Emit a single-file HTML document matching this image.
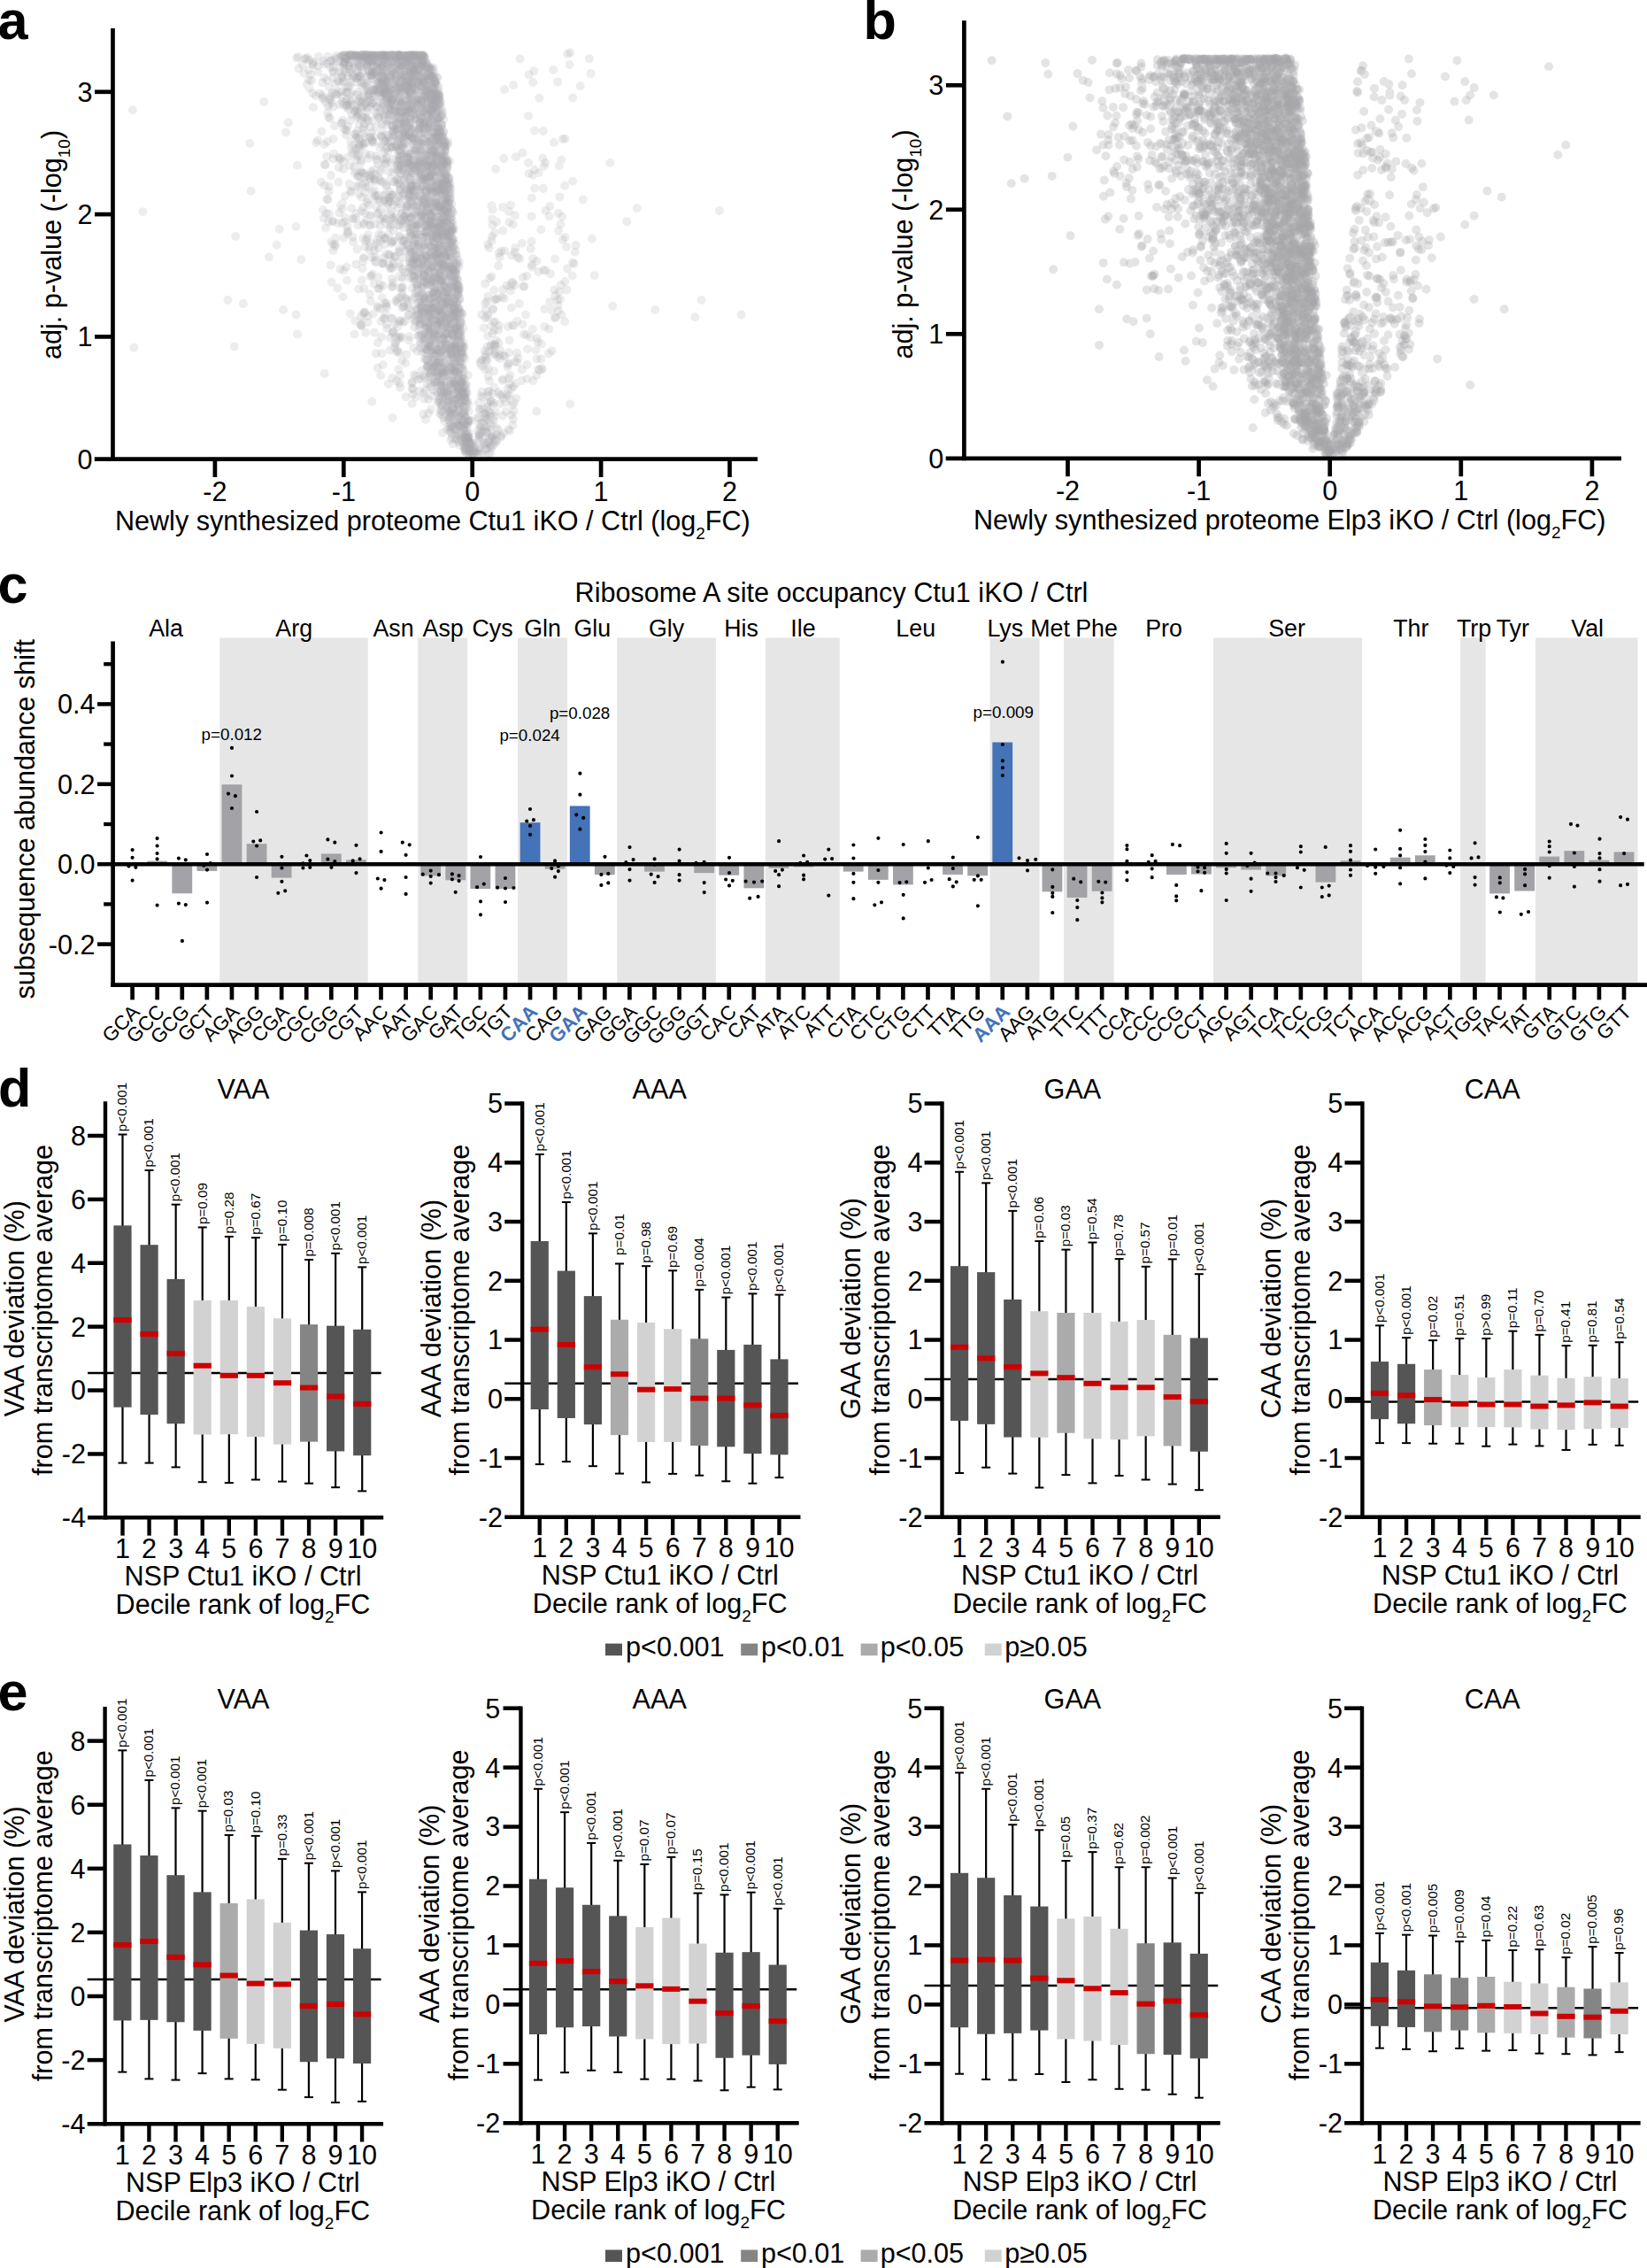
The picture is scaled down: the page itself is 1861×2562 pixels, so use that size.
<!DOCTYPE html>
<html><head><meta charset="utf-8"><title>Figure</title>
<style>html,body{margin:0;padding:0;background:#fff;overflow:hidden}svg{display:block}text{font-family:"Liberation Sans",Arial,Helvetica,sans-serif}</style>
</head><body>
<svg width="1861" height="2562" viewBox="0 0 1861 2562">
<rect width="1861" height="2562" fill="#fff"/>
<text x="-2.4" y="44.2" font-size="61.2" font-weight="bold">a</text>
<text x="975.5" y="43.8" font-size="61.2" font-weight="bold">b</text>
<text x="-2.4" y="681.2" font-size="61.2" font-weight="bold">c</text>
<text x="-2" y="1250" font-size="61.2" font-weight="bold">d</text>
<text x="-2.4" y="1932" font-size="61.2" font-weight="bold">e</text>
<path d="M489.4 249.6h0M426.1 71.2h0M498.4 154.0h0M428.1 264.8h0M516.9 333.0h0M494.1 157.4h0M429.0 122.9h0M490.3 254.9h0M498.1 354.2h0M488.3 347.7h0M422.6 63.3h0M509.5 246.0h0M511.9 280.5h0M419.2 244.6h0M427.2 185.3h0M452.7 62.9h0M551.8 446.9h0M492.3 127.2h0M462.8 268.1h0M494.8 176.8h0M464.5 155.0h0M511.4 475.0h0M518.4 438.6h0M451.7 301.8h0M494.7 249.6h0M465.4 145.0h0M507.8 261.7h0M551.3 276.3h0M494.9 139.0h0M431.7 73.4h0M482.1 111.0h0M408.8 115.6h0M386.8 138.9h0M465.6 209.4h0M512.6 468.0h0M452.4 97.6h0M471.8 142.1h0M457.5 62.2h0M506.3 237.4h0M479.6 405.7h0M527.4 444.2h0M506.0 473.0h0M459.8 184.2h0M473.2 372.1h0M400.0 62.8h0M516.0 325.2h0M492.8 279.0h0M503.7 388.4h0M506.3 446.7h0M464.4 193.3h0M493.9 292.9h0M454.0 325.3h0M521.6 430.5h0M556.5 503.2h0M498.3 207.4h0M461.7 223.3h0M510.2 378.8h0M392.3 118.9h0M466.4 270.4h0M511.5 304.6h0M514.2 389.9h0M503.8 322.8h0M496.5 246.3h0M486.6 181.0h0M504.9 228.5h0M376.4 179.4h0M436.6 286.7h0M476.9 236.9h0M471.0 63.0h0M477.8 247.4h0M485.2 207.2h0M441.5 253.5h0M478.2 90.7h0M532.5 475.1h0M541.5 489.7h0M499.4 457.3h0M497.6 121.0h0M298.2 114.9h0M548.6 507.3h0M468.2 311.5h0M453.0 197.5h0M489.9 88.4h0M510.3 277.1h0M427.8 142.2h0M507.5 229.3h0M481.8 224.0h0M500.9 382.5h0M506.1 441.9h0M492.5 362.2h0M506.8 233.4h0M506.0 437.9h0M500.2 158.9h0M544.3 477.5h0M372.0 118.2h0M486.9 316.5h0M478.4 340.4h0M406.6 86.1h0M499.2 419.3h0M523.0 395.7h0M475.6 341.4h0M504.4 266.1h0M440.5 65.5h0M516.0 320.2h0M487.0 206.6h0M478.6 88.2h0M368.1 115.3h0M524.7 428.1h0M523.2 500.8h0M460.5 98.0h0M529.1 494.4h0M493.5 399.5h0M437.8 62.9h0M417.9 332.5h0M440.6 105.5h0M491.6 374.8h0M480.4 181.5h0M501.1 235.5h0M515.2 307.3h0M544.5 511.8h0M516.1 357.0h0M403.5 281.8h0M459.6 130.3h0M492.7 387.4h0M455.1 197.3h0M468.6 79.1h0M465.7 145.5h0M543.5 483.0h0M468.2 220.6h0M474.0 365.3h0M496.4 137.1h0M450.2 207.7h0M491.5 172.7h0M504.9 181.6h0M486.8 213.8h0M491.6 319.1h0M502.1 315.4h0M468.5 280.6h0M470.6 156.1h0M502.1 343.9h0M440.9 242.1h0M491.3 173.1h0M466.6 439.2h0M507.7 392.8h0M523.7 398.6h0M597.7 84.4h0M421.6 160.3h0M450.6 152.6h0M487.3 241.7h0M526.0 490.2h0M499.2 141.2h0M430.0 272.0h0M441.4 62.3h0M465.4 85.5h0M467.9 90.9h0M514.6 496.6h0M472.2 140.4h0M508.8 342.3h0M426.1 179.7h0M402.5 210.1h0M452.2 113.6h0M483.7 176.6h0M379.0 66.3h0M491.9 420.4h0M490.4 380.4h0M493.3 199.1h0M488.5 119.2h0M519.5 407.5h0M478.0 355.1h0M463.3 152.4h0M438.0 239.7h0M161.5 239.3h0M470.4 290.8h0M458.0 337.3h0M508.5 347.9h0M518.9 339.3h0M442.8 324.1h0M480.7 348.8h0M498.6 340.8h0M491.8 181.2h0M437.9 111.2h0M508.7 488.0h0M474.3 139.2h0M482.7 244.4h0M507.5 340.3h0M487.9 371.5h0M496.4 315.8h0M497.7 195.3h0M513.0 352.5h0M486.0 159.5h0M480.2 374.4h0M510.9 402.5h0M487.8 277.3h0M621.4 340.9h0M471.0 289.1h0M468.4 81.7h0M478.9 319.1h0M469.0 274.7h0M520.4 353.0h0M424.7 144.3h0M469.0 191.6h0M515.6 418.6h0M470.3 142.0h0M466.7 291.1h0M424.2 82.2h0M450.4 102.4h0M482.2 201.3h0M467.6 92.9h0M343.3 82.7h0M484.6 305.7h0M402.1 168.1h0M390.9 66.4h0M441.0 288.9h0M462.1 133.1h0M493.2 275.9h0M518.2 335.1h0M449.0 109.6h0M484.1 415.3h0M480.1 369.5h0M478.3 74.3h0M447.0 101.8h0M475.2 240.5h0M426.0 130.4h0M485.4 177.7h0M492.5 326.3h0M487.9 126.9h0M482.0 217.4h0M411.5 119.7h0M414.4 249.1h0M488.5 187.5h0M487.3 170.5h0M443.3 69.5h0M501.5 286.7h0M470.9 255.8h0M630.9 351.4h0M476.3 234.3h0M518.4 398.1h0M420.3 62.9h0M450.2 254.2h0M454.9 91.8h0M458.1 97.0h0M404.6 72.4h0M450.9 281.1h0M518.5 488.2h0M393.0 85.8h0M510.4 237.8h0M517.5 441.2h0M374.7 318.7h0M394.7 207.8h0M413.8 72.1h0M431.5 147.9h0M494.1 128.0h0M455.3 278.1h0M431.0 205.6h0M436.7 210.5h0M485.3 110.5h0M498.9 122.5h0M483.8 405.8h0M506.0 330.4h0M434.2 105.2h0M509.2 478.4h0M452.9 139.8h0M477.5 92.3h0M460.1 197.3h0M518.6 463.3h0M580.0 437.0h0M513.1 380.0h0M561.9 337.3h0M515.7 370.2h0M566.3 492.1h0M391.6 63.1h0M423.7 81.7h0M493.9 155.7h0M428.7 62.7h0M469.1 268.9h0M435.7 125.0h0M451.3 219.6h0M480.4 227.6h0M524.1 443.6h0M398.4 210.7h0M486.1 104.4h0M452.2 110.3h0M517.4 396.6h0M508.9 408.8h0M477.4 353.4h0M403.8 123.9h0M477.7 211.3h0M519.5 503.0h0M476.4 332.3h0M488.3 268.7h0M376.4 275.7h0M499.7 297.9h0M441.4 124.5h0M450.6 97.1h0M480.0 394.2h0" stroke="#a5a5aa" stroke-opacity="0.2" stroke-width="10" stroke-linecap="round" fill="none"/>
<path d="M502.7 160.5h0M497.1 362.1h0M479.5 91.5h0M453.3 248.3h0M671.8 311.2h0M604.2 212.7h0M322.9 149.4h0M480.2 262.2h0M521.5 496.8h0M467.9 317.4h0M396.6 166.2h0M524.3 436.0h0M397.1 88.6h0M493.2 362.4h0M467.8 423.2h0M349.4 68.1h0M511.2 277.9h0M353.3 105.3h0M446.4 125.9h0M490.1 99.9h0M452.5 136.3h0M484.1 229.3h0M463.3 110.6h0M406.3 163.8h0M459.7 142.6h0M529.1 494.3h0M411.0 62.5h0M471.0 159.1h0M580.6 464.4h0M472.4 309.5h0M513.8 419.2h0M467.1 63.0h0M465.5 305.3h0M492.4 229.9h0M460.7 178.2h0M430.0 194.0h0M453.8 87.1h0M518.1 464.3h0M495.6 98.0h0M493.7 192.9h0M491.0 245.1h0M469.8 265.4h0M478.7 293.3h0M496.9 153.9h0M491.8 102.5h0M600.8 223.6h0M494.9 189.4h0M430.2 424.0h0M367.7 186.2h0M457.9 136.9h0M485.3 348.6h0M512.7 347.6h0M501.1 422.4h0M481.5 275.0h0M521.3 354.3h0M490.3 215.1h0M472.4 84.4h0M488.2 78.5h0M487.2 170.6h0M457.1 101.8h0M482.4 314.9h0M497.2 132.4h0M467.1 279.5h0M471.5 187.0h0M432.9 205.5h0M469.5 134.5h0M517.6 379.2h0M505.5 190.6h0M466.3 85.6h0M504.4 305.4h0M369.6 71.7h0M438.2 63.0h0M393.1 142.8h0M432.7 220.5h0M497.8 188.4h0M468.1 170.2h0M439.4 193.9h0M557.9 455.3h0M510.0 440.2h0M410.2 146.0h0M488.3 303.5h0M506.8 239.6h0M477.2 102.4h0M459.6 126.2h0M472.2 214.3h0M441.8 88.9h0M491.9 259.7h0M450.6 62.5h0M447.4 106.0h0M449.4 78.3h0M437.4 89.8h0M463.8 245.8h0M435.0 185.6h0M476.7 162.4h0M441.0 63.3h0M473.4 77.7h0M580.1 96.3h0M458.4 268.8h0M486.1 91.7h0M467.9 209.8h0M449.9 181.2h0M379.3 106.8h0M493.4 213.5h0M528.4 479.0h0M470.4 75.9h0M437.8 66.1h0M487.0 228.2h0M458.3 124.9h0M396.1 95.6h0M517.8 456.3h0M556.4 444.4h0M488.2 197.3h0M489.3 316.3h0M509.8 435.1h0M364.8 237.3h0M513.4 352.3h0M422.3 62.6h0M488.8 314.4h0M493.7 177.1h0M502.3 213.3h0M485.9 80.7h0M500.3 395.7h0M505.1 198.5h0M461.9 65.7h0M480.9 288.5h0M494.0 262.2h0M539.4 471.9h0M477.1 113.9h0M477.4 70.5h0M470.9 84.5h0M534.0 501.2h0M507.6 359.7h0M505.0 247.1h0M416.0 179.0h0M578.9 367.1h0M620.6 244.3h0M393.1 67.3h0M477.5 290.6h0M443.7 112.3h0M486.9 130.0h0M568.3 428.3h0M456.5 161.6h0M536.5 500.6h0M433.8 71.4h0M393.1 103.1h0M466.0 271.7h0M516.6 344.2h0M484.3 389.6h0M454.3 62.8h0M495.8 311.2h0M478.4 172.7h0M495.7 154.4h0M396.3 160.2h0M542.5 463.3h0M576.9 323.2h0M482.2 130.1h0M494.0 124.6h0M409.0 121.6h0M422.1 102.2h0M638.6 268.0h0M466.1 84.4h0M492.4 431.2h0M482.3 147.4h0M513.7 297.3h0M558.7 470.2h0M512.6 308.1h0M440.1 129.9h0M518.6 499.4h0M630.8 240.7h0M479.3 141.9h0M438.7 63.4h0M486.1 273.5h0M548.0 417.2h0M490.3 215.6h0M493.6 280.1h0M402.5 156.3h0M510.7 482.9h0M467.0 156.9h0M455.2 248.8h0M489.0 400.3h0M481.2 216.9h0M488.1 447.2h0M371.5 216.3h0M523.7 498.6h0M433.9 105.8h0M453.7 98.0h0M498.9 435.8h0M481.2 222.2h0M525.0 465.6h0M544.2 497.1h0M442.8 141.7h0M394.7 71.3h0M392.1 63.4h0M453.0 78.2h0M454.2 407.4h0M465.5 284.9h0M457.3 63.0h0M475.9 348.3h0M504.7 262.8h0M430.6 92.1h0M494.8 143.9h0M499.7 301.3h0M480.2 98.6h0M500.2 219.1h0M488.2 351.1h0M437.1 342.8h0M463.1 292.2h0M414.5 62.0h0M466.5 102.6h0M477.6 100.3h0M465.5 439.0h0M427.1 220.8h0M498.8 468.6h0M474.5 360.3h0M454.4 330.9h0M455.5 94.4h0M496.1 422.4h0M502.8 300.5h0M388.2 93.0h0M485.7 78.8h0M472.9 214.8h0M490.7 82.5h0M507.9 370.4h0M497.4 336.0h0M392.5 255.8h0M502.3 442.5h0M558.6 389.2h0M408.8 316.4h0M578.9 318.4h0M478.5 232.8h0M513.1 317.2h0M426.7 100.3h0M429.9 99.7h0M475.6 344.9h0M488.8 360.6h0M436.6 152.2h0M501.4 253.9h0M492.2 118.9h0M480.4 384.0h0M507.7 320.3h0M527.5 506.7h0M568.1 260.6h0M545.8 496.9h0M445.0 67.7h0M482.2 122.6h0M500.5 253.1h0M491.7 112.8h0M507.3 203.6h0M563.7 286.0h0M582.0 243.3h0M388.0 62.8h0M479.2 151.1h0M517.7 464.8h0M478.4 136.0h0M505.5 318.8h0M503.2 311.8h0M511.0 317.0h0M509.4 213.1h0M492.1 329.5h0M441.0 72.6h0M426.6 75.4h0M438.4 104.2h0M414.7 91.6h0M405.7 86.2h0M502.8 311.7h0M445.2 142.9h0M584.2 362.9h0M493.9 373.0h0M452.1 214.8h0M457.0 143.7h0M463.7 212.8h0M398.1 169.0h0M395.3 106.3h0M493.8 122.8h0M467.0 83.2h0M466.7 231.6h0M550.5 473.9h0M479.8 276.9h0M500.6 277.8h0M499.5 239.8h0M372.8 133.9h0M464.5 63.5h0M541.6 471.7h0M413.6 62.6h0M467.4 67.1h0M376.4 283.2h0M441.1 256.8h0M451.7 184.4h0M461.2 144.6h0M516.1 333.8h0M510.4 259.9h0M483.5 83.1h0M500.6 336.3h0M415.0 69.6h0" stroke="#a5a5aa" stroke-opacity="0.2" stroke-width="10" stroke-linecap="round" fill="none"/>
<path d="M452.4 283.8h0M440.7 159.7h0M597.0 130.9h0M577.0 231.5h0M403.5 106.9h0M633.5 253.2h0M512.9 354.8h0M518.9 480.5h0M457.9 79.9h0M510.4 260.8h0M517.9 422.7h0M484.2 101.6h0M469.2 129.2h0M575.3 251.1h0M521.4 433.8h0M446.6 290.2h0M456.9 184.5h0M517.2 321.9h0M484.0 75.2h0M478.8 126.1h0M526.8 501.5h0M641.0 303.6h0M443.6 471.7h0M415.6 67.9h0M449.3 235.0h0M433.0 87.0h0M484.5 357.4h0M396.6 63.2h0M448.9 395.9h0M472.2 331.3h0M503.7 250.8h0M490.3 168.8h0M486.9 195.8h0M462.5 279.4h0M527.2 495.5h0M493.7 410.1h0M479.1 311.5h0M492.3 295.7h0M471.8 94.2h0M447.1 126.3h0M447.0 78.3h0M475.7 194.7h0M421.0 63.4h0M409.3 162.3h0M461.9 151.8h0M474.8 236.9h0M464.6 184.1h0M499.7 214.9h0M495.7 345.7h0M497.2 287.2h0M435.9 95.9h0M469.5 264.0h0M450.0 70.0h0M423.2 82.1h0M550.2 340.7h0M448.6 186.3h0M429.2 166.6h0M491.1 186.0h0M496.4 339.3h0M470.6 182.6h0M458.8 121.7h0M445.6 152.7h0M461.9 384.5h0M456.7 68.9h0M490.0 104.4h0M548.9 350.1h0M508.5 222.6h0M482.2 72.3h0M470.3 326.1h0M577.8 347.7h0M511.9 294.8h0M478.9 95.6h0M425.6 68.8h0M483.7 295.1h0M474.5 231.9h0M411.4 252.1h0M523.1 404.0h0M473.0 157.8h0M476.6 250.9h0M508.7 290.9h0M475.7 323.5h0M441.3 101.1h0M472.1 164.8h0M578.8 319.9h0M515.1 389.0h0M431.7 82.8h0M416.1 136.8h0M510.9 494.3h0M522.2 493.9h0M495.8 277.2h0M474.6 366.1h0M491.5 94.1h0M486.1 391.9h0M431.5 62.1h0M497.1 364.1h0M471.3 78.8h0M517.6 316.4h0M428.7 326.1h0M486.4 140.1h0M531.7 502.8h0M431.6 108.5h0M520.9 458.3h0M548.3 400.5h0M434.4 269.8h0M483.1 261.2h0M523.3 500.8h0M450.5 121.7h0M476.1 351.1h0M471.1 79.4h0M478.8 203.1h0M506.8 301.6h0M509.7 235.9h0M451.8 169.4h0M504.7 207.4h0M516.6 450.1h0M451.5 266.5h0M506.1 455.8h0M471.7 88.6h0M496.7 398.3h0M404.1 148.1h0M485.2 84.9h0M512.1 362.3h0M492.3 158.3h0M466.0 150.3h0M499.9 256.4h0M386.8 236.0h0M458.9 103.4h0M475.4 291.4h0M459.0 73.4h0M837.6 355.5h0M427.0 199.9h0M432.4 245.7h0M454.4 334.0h0M462.5 139.5h0M486.9 421.8h0M497.5 349.0h0M463.3 200.9h0M414.9 269.5h0M463.9 220.7h0M554.3 503.9h0M469.3 153.2h0M473.5 62.3h0M499.6 297.8h0M585.3 404.5h0M502.3 344.1h0M514.6 467.2h0M476.9 248.7h0M491.0 406.6h0M507.2 356.1h0M517.9 347.9h0M427.7 69.8h0M475.9 88.7h0M474.2 82.2h0M454.4 103.9h0M433.2 65.9h0M501.9 209.3h0M448.8 341.7h0M567.0 335.7h0M430.8 154.1h0M486.2 367.3h0M452.4 361.9h0M498.7 356.3h0M496.6 308.6h0M489.9 341.4h0M448.8 153.5h0M615.3 369.0h0M467.1 260.0h0M517.3 496.2h0M424.3 204.9h0M482.2 228.2h0M510.1 489.1h0M424.5 82.7h0M440.8 381.4h0M478.2 335.8h0M499.7 458.6h0M478.2 62.8h0M527.0 460.2h0M472.3 253.8h0M491.4 324.9h0M509.1 274.0h0M151.3 392.8h0M523.7 462.7h0M490.5 155.1h0M486.7 197.6h0M518.1 327.5h0M490.4 92.3h0M484.2 451.3h0M488.7 415.4h0M406.9 86.1h0M477.9 268.0h0M492.6 346.1h0M536.4 510.6h0M508.9 223.1h0M389.7 70.3h0M499.6 207.4h0M533.2 511.5h0M529.8 475.3h0M461.0 123.9h0M556.2 494.4h0M505.2 485.3h0M451.4 62.8h0M462.1 258.1h0M516.2 401.9h0M431.5 94.0h0M556.3 376.4h0M459.6 146.0h0M427.7 63.4h0M465.4 277.5h0M444.0 146.3h0M486.6 264.1h0M419.7 102.4h0M461.2 173.9h0M414.9 73.8h0M514.9 361.0h0M505.3 463.3h0M480.3 311.6h0M438.3 230.7h0M394.2 123.7h0M521.6 388.3h0M481.6 235.8h0M485.7 387.3h0M347.5 64.9h0M482.8 80.1h0M501.6 198.6h0M477.4 324.9h0M365.7 246.7h0M535.2 511.7h0M463.8 185.5h0M405.2 62.7h0M493.7 214.4h0M487.8 113.6h0M496.1 173.9h0M479.5 100.6h0M474.4 161.5h0M438.8 90.8h0M456.3 139.5h0M448.9 148.1h0M517.3 403.4h0M523.1 449.0h0M514.9 419.6h0M423.3 108.5h0M499.0 252.0h0M505.1 370.4h0M492.8 173.0h0M501.6 173.1h0M454.7 381.4h0M505.2 241.5h0M415.4 81.3h0M502.4 378.3h0M489.1 301.6h0M503.6 208.3h0M482.0 238.5h0M410.8 67.1h0M478.9 229.0h0M412.4 62.2h0M430.2 227.8h0M501.3 250.9h0M452.9 195.6h0M439.6 135.7h0M518.3 456.9h0M469.4 125.1h0M550.0 460.6h0M470.8 241.6h0M499.3 287.6h0M491.9 266.5h0M386.8 88.1h0M462.7 95.5h0M474.8 73.3h0M520.5 403.2h0M516.5 293.4h0M499.2 296.5h0M510.3 239.9h0M478.9 209.8h0M486.2 237.4h0M520.4 482.2h0M421.8 101.3h0M441.6 117.1h0M418.5 155.4h0M475.1 329.6h0M464.4 133.9h0M488.8 125.2h0M559.2 389.6h0M365.4 69.1h0M471.2 118.6h0M475.4 170.0h0M523.7 449.3h0M449.4 133.8h0M507.0 230.6h0M404.8 107.3h0M493.3 355.6h0M492.1 212.2h0M476.3 240.2h0M481.6 198.9h0M509.9 364.8h0" stroke="#a5a5aa" stroke-opacity="0.2" stroke-width="10" stroke-linecap="round" fill="none"/>
<path d="M432.3 77.9h0M486.4 249.8h0M383.9 76.6h0M451.9 188.6h0M508.1 464.2h0M484.2 259.6h0M504.4 285.9h0M460.4 126.7h0M450.5 132.2h0M740.2 350.0h0M503.8 370.1h0M472.2 110.1h0M596.2 394.2h0M557.0 348.4h0M481.8 70.1h0M520.7 400.9h0M448.1 62.9h0M496.5 250.9h0M514.8 371.7h0M464.7 124.5h0M434.1 63.2h0M507.0 290.3h0M522.1 445.0h0M445.1 99.5h0M506.4 344.6h0M490.7 276.1h0M434.2 62.6h0M390.9 152.8h0M448.1 134.0h0M459.3 143.3h0M462.5 90.4h0M708.2 250.4h0M426.4 346.0h0M500.8 378.6h0M550.0 513.0h0M396.1 215.4h0M471.0 295.0h0M443.7 69.4h0M488.4 198.0h0M497.0 288.9h0M461.3 141.6h0M464.0 253.8h0M492.0 138.7h0M507.8 266.9h0M412.4 118.5h0M509.4 264.0h0M525.6 494.8h0M497.7 235.1h0M419.9 64.3h0M479.6 124.6h0M489.4 105.6h0M473.4 341.4h0M509.2 483.9h0M635.2 244.7h0M499.2 129.4h0M502.6 294.7h0M478.3 202.0h0M529.5 474.2h0M446.9 245.4h0M437.0 137.3h0M511.1 285.4h0M541.5 510.1h0M449.7 183.2h0M465.5 63.1h0M386.4 83.7h0M485.5 86.1h0M523.9 452.1h0M561.0 483.7h0M558.1 419.4h0M456.3 138.2h0M464.9 156.7h0M560.4 495.3h0M429.9 236.7h0M492.4 210.6h0M424.3 102.0h0M488.5 409.0h0M561.2 250.6h0M387.8 118.0h0M479.6 65.1h0M498.5 153.6h0M524.4 444.8h0M501.5 162.8h0M491.8 115.3h0M468.5 256.5h0M443.4 62.4h0M434.1 132.8h0M566.5 283.8h0M400.6 63.9h0M457.5 189.3h0M438.8 87.8h0M466.2 119.4h0M546.9 467.8h0M508.4 207.6h0M437.2 347.1h0M523.3 449.8h0M504.7 364.7h0M476.2 128.0h0M491.1 162.5h0M488.9 348.0h0M451.5 336.5h0M494.9 175.9h0M513.8 414.9h0M473.7 313.3h0M492.6 385.0h0M505.7 162.8h0M490.3 119.9h0M454.9 74.2h0M471.3 350.1h0M413.8 113.4h0M408.3 93.8h0M464.0 260.8h0M456.7 85.0h0M510.2 453.2h0M517.9 437.5h0M575.4 410.5h0M468.4 129.3h0M465.4 106.1h0M488.3 142.4h0M434.4 63.2h0M500.4 347.9h0M514.5 456.2h0M496.8 309.5h0M445.6 90.3h0M507.1 217.4h0M489.1 103.9h0M581.6 284.9h0M554.3 511.9h0M472.1 308.0h0M555.6 312.5h0M517.5 400.3h0M498.4 149.9h0M519.4 481.3h0M526.6 494.5h0M561.5 497.6h0M508.9 342.6h0M449.0 114.9h0M376.2 249.7h0M489.4 251.0h0M404.6 72.2h0M510.1 314.7h0M550.9 406.8h0M515.3 432.3h0M404.1 80.6h0M467.4 80.2h0M486.5 188.8h0M477.5 109.0h0M345.5 66.4h0M472.1 187.4h0M372.0 111.8h0M446.6 388.3h0M451.3 267.8h0M450.3 417.2h0M465.3 122.6h0M416.2 66.2h0M476.3 419.0h0M484.3 145.9h0M553.8 502.6h0M446.5 98.5h0M442.6 359.5h0M503.6 392.4h0M476.9 75.2h0M443.2 166.0h0M431.4 82.6h0M421.1 217.0h0M489.8 440.6h0M458.7 65.9h0M448.1 380.6h0M487.3 331.0h0M540.9 455.3h0M461.4 68.0h0M541.4 471.6h0M462.6 193.6h0M470.5 293.8h0M495.7 110.2h0M482.4 217.4h0M470.4 292.8h0M483.3 414.4h0M395.2 61.9h0M465.6 181.1h0M644.2 59.5h0M514.1 451.4h0M517.3 327.8h0M439.8 63.2h0M469.6 100.0h0M643.6 73.0h0M417.8 154.5h0M463.3 245.9h0M521.3 416.4h0M475.9 117.8h0M491.6 401.5h0M509.9 311.2h0M507.1 425.7h0M431.9 118.2h0M549.2 472.4h0M480.0 262.3h0M497.0 467.2h0M498.3 363.3h0M450.3 109.2h0M444.0 194.2h0M442.5 84.7h0M463.2 142.3h0M499.8 353.2h0M415.0 126.4h0M488.9 197.9h0M461.6 190.4h0M514.2 338.0h0M392.9 264.4h0M406.8 62.9h0M497.7 267.9h0M489.4 106.3h0M571.6 465.0h0M482.2 240.1h0M591.6 323.4h0M506.5 338.9h0M475.8 89.1h0M505.0 238.7h0M474.7 301.1h0M509.3 339.9h0M482.6 138.1h0M456.3 133.3h0M520.7 431.3h0M489.0 98.5h0M459.8 233.9h0M378.1 142.1h0M470.0 269.4h0M491.9 258.5h0M487.0 234.2h0M556.1 247.5h0M442.8 220.5h0M503.7 225.0h0M465.0 226.4h0M437.3 63.3h0M495.1 156.4h0M512.4 391.7h0M481.4 215.6h0M381.4 91.2h0M473.5 272.4h0M481.9 291.4h0M499.0 200.3h0M494.8 331.4h0M529.6 464.9h0M514.7 400.8h0M486.2 254.5h0M457.0 307.7h0M491.7 90.6h0M450.3 62.9h0M504.5 449.0h0M492.9 180.9h0M544.3 488.0h0M511.0 395.8h0M432.9 179.6h0M492.7 385.3h0M463.8 164.0h0M496.1 254.6h0M512.2 343.8h0M466.4 212.5h0M528.4 453.5h0M425.4 120.0h0M499.9 181.7h0M492.4 278.8h0M450.5 222.3h0M515.2 352.4h0M443.2 180.0h0M411.2 162.1h0M564.9 401.3h0M446.7 382.2h0M473.6 355.7h0M524.6 484.2h0M488.3 110.9h0M359.3 81.2h0M507.3 300.0h0M509.2 419.9h0M438.9 433.7h0M446.5 180.4h0M463.9 104.7h0M334.5 255.9h0M486.9 112.9h0M471.4 353.7h0M418.7 112.6h0M441.2 97.3h0M423.2 73.2h0M499.8 174.4h0M497.1 124.1h0M427.8 280.4h0M502.4 203.6h0M434.1 69.0h0M462.1 62.9h0M388.5 77.3h0M445.2 94.6h0M471.9 321.0h0M475.4 182.8h0M473.4 145.8h0M498.9 206.7h0" stroke="#a5a5aa" stroke-opacity="0.2" stroke-width="10" stroke-linecap="round" fill="none"/>
<path d="M443.0 273.4h0M502.5 273.0h0M478.9 115.4h0M452.1 134.7h0M473.9 110.7h0M487.1 234.3h0M496.8 269.8h0M507.9 453.8h0M495.5 256.7h0M577.9 468.7h0M474.2 213.9h0M440.4 395.7h0M508.5 392.3h0M635.8 270.7h0M466.2 109.1h0M558.5 437.7h0M497.7 231.2h0M385.9 103.0h0M399.0 84.0h0M486.6 347.7h0M475.4 196.5h0M485.8 352.5h0M487.5 255.2h0M494.8 208.0h0M497.9 393.2h0M623.4 350.2h0M445.9 106.3h0M496.5 287.5h0M471.2 354.8h0M504.7 360.1h0M415.6 357.3h0M510.3 383.2h0M472.9 428.5h0M432.7 297.0h0M488.8 118.7h0M511.1 303.2h0M493.5 87.0h0M493.4 111.5h0M450.1 62.8h0M481.8 263.1h0M514.9 360.9h0M492.5 87.9h0M482.9 151.2h0M447.3 90.8h0M496.3 257.9h0M604.1 147.5h0M501.5 277.8h0M445.3 62.2h0M504.1 445.0h0M462.7 380.2h0M581.8 322.3h0M477.5 281.4h0M405.4 165.9h0M436.3 100.8h0M434.0 64.5h0M391.0 147.2h0M449.8 147.2h0M526.0 510.0h0M603.4 80.1h0M621.4 233.1h0M572.6 322.4h0M429.3 72.4h0M493.9 164.6h0M595.5 412.0h0M531.8 510.9h0M429.2 115.0h0M473.5 66.3h0M482.6 107.1h0M482.3 370.2h0M512.5 295.3h0M390.5 82.1h0M443.3 360.0h0M493.2 269.1h0M509.3 479.9h0M520.8 398.2h0M400.1 188.7h0M502.0 272.8h0M499.4 232.0h0M453.0 126.2h0M493.1 233.4h0M505.5 264.0h0M482.1 288.2h0M501.7 260.8h0M437.4 370.9h0M530.1 512.1h0M445.3 124.2h0M523.5 439.5h0M477.5 65.8h0M504.2 302.1h0M442.3 114.3h0M467.0 79.2h0M349.1 79.0h0M409.2 208.8h0M429.5 321.7h0M541.6 491.2h0M507.6 395.2h0M512.6 257.7h0M486.5 252.6h0M459.3 106.7h0M470.4 317.3h0M470.8 72.6h0M420.1 86.0h0M447.0 62.6h0M550.8 358.6h0M544.2 355.5h0M462.0 224.9h0M335.2 65.6h0M483.5 315.6h0M626.6 358.8h0M447.9 100.4h0M454.1 73.7h0M482.0 101.1h0M510.5 230.5h0M523.5 435.7h0M402.8 193.2h0M498.7 141.1h0M440.5 303.1h0M479.8 278.6h0M511.5 253.6h0M446.3 365.9h0M441.6 101.7h0M485.8 79.5h0M359.1 74.7h0M558.4 400.2h0M434.0 62.9h0M383.7 118.1h0M584.4 409.4h0M374.7 115.7h0M445.4 205.2h0M433.4 227.8h0M587.5 66.5h0M485.7 145.5h0M545.0 406.5h0M550.5 469.8h0M493.0 342.2h0M485.5 78.7h0M494.7 332.8h0M374.4 68.4h0M411.0 291.0h0M521.7 364.1h0M519.2 366.7h0M359.9 63.9h0M506.2 227.0h0M467.5 215.1h0M510.5 361.8h0M418.6 312.4h0M422.5 75.2h0M511.3 376.5h0M513.8 349.8h0M492.2 112.4h0M580.6 367.9h0M506.5 330.4h0M485.2 333.8h0M509.5 447.0h0M508.7 473.3h0M496.1 215.8h0M456.1 125.4h0M493.0 154.1h0M526.9 490.3h0M476.6 298.9h0M468.5 295.6h0M472.5 360.9h0M417.8 242.9h0M518.2 480.8h0M495.6 136.6h0M498.1 463.0h0M488.2 146.6h0M434.2 250.6h0M480.8 86.1h0M488.0 423.5h0M526.2 433.5h0M498.0 208.6h0M455.0 140.3h0M511.5 461.0h0M430.8 108.8h0M452.8 67.8h0M453.4 155.7h0M402.2 62.5h0M502.8 387.1h0M423.6 290.3h0M474.0 349.3h0M522.8 428.3h0M485.9 126.3h0M507.6 462.6h0M455.5 128.4h0M499.3 402.7h0M382.7 189.1h0M495.5 349.0h0M506.7 250.8h0M529.9 488.9h0M489.1 284.6h0M455.2 153.9h0M486.2 421.7h0M484.4 379.1h0M464.8 266.8h0M433.3 97.0h0M438.1 254.5h0M363.2 148.4h0M502.9 388.5h0M531.0 500.4h0M514.2 337.0h0M485.5 159.4h0M482.5 112.2h0M482.9 186.9h0M479.5 225.7h0M468.9 61.7h0M396.3 115.0h0M630.6 345.3h0M478.5 311.0h0M480.0 222.0h0M472.2 349.8h0M501.7 194.5h0M491.4 260.6h0M480.3 347.6h0M483.4 238.8h0M452.6 100.4h0M466.4 360.7h0M515.1 443.4h0M446.4 77.0h0M448.1 191.5h0M479.5 381.0h0M481.0 203.7h0M529.6 504.7h0M448.3 154.5h0M436.3 80.0h0M504.7 164.4h0M518.4 408.9h0M470.0 108.7h0M509.5 366.4h0M304.0 290.5h0M505.9 221.4h0M555.5 271.9h0M422.9 202.8h0M433.7 78.1h0M505.0 453.9h0M498.0 147.6h0M507.7 416.5h0M507.0 380.1h0M472.1 322.7h0M502.5 448.6h0M504.7 219.2h0M480.6 286.3h0M484.5 374.1h0M505.5 271.8h0M481.2 233.4h0M486.6 85.5h0M457.2 363.0h0M466.2 230.7h0M412.4 217.4h0M486.6 290.5h0M420.1 62.7h0M615.4 349.1h0M453.7 166.0h0M461.0 67.8h0M505.8 180.9h0M499.9 419.7h0M357.2 161.2h0M435.6 159.0h0M546.3 487.2h0M495.3 269.1h0M413.3 271.8h0M449.9 141.7h0M465.1 100.3h0M504.3 300.0h0M425.5 181.1h0M499.0 464.6h0M410.6 62.7h0M456.6 66.5h0M504.4 326.4h0M460.5 247.3h0M507.3 458.9h0M586.8 342.9h0M410.2 234.2h0M482.9 395.6h0M487.2 119.1h0M483.2 406.4h0M320.0 350.0h0M472.3 161.4h0M455.8 346.8h0M487.6 350.9h0M425.5 72.1h0M564.6 290.4h0M384.8 178.9h0M510.3 399.9h0M466.4 296.7h0M508.9 288.0h0M472.4 221.4h0M393.4 262.1h0M407.4 62.9h0M430.9 71.5h0M464.2 135.1h0M461.9 105.8h0M442.6 115.1h0" stroke="#a5a5aa" stroke-opacity="0.2" stroke-width="10" stroke-linecap="round" fill="none"/>
<path d="M395.6 70.4h0M447.1 87.9h0M461.2 347.1h0M457.4 70.7h0M469.6 151.7h0M471.1 254.0h0M437.1 247.9h0M575.7 433.6h0M492.5 352.7h0M555.5 484.9h0M389.7 250.5h0M381.7 251.9h0M457.9 152.9h0M423.2 62.9h0M437.9 110.6h0M483.9 177.7h0M498.7 250.5h0M500.6 282.5h0M509.0 414.5h0M417.9 274.5h0M500.0 267.8h0M466.5 89.7h0M493.5 412.7h0M512.7 444.4h0M513.2 317.3h0M497.6 453.8h0M417.9 65.5h0M513.8 373.5h0M512.5 402.5h0M490.0 170.1h0M525.8 488.0h0M501.3 148.6h0M463.7 62.7h0M457.9 85.4h0M469.1 186.9h0M491.6 409.8h0M541.7 462.2h0M525.6 505.7h0M493.0 421.7h0M487.3 182.6h0M480.3 103.4h0M483.8 161.0h0M432.8 412.0h0M470.8 292.3h0M502.3 165.8h0M480.9 398.8h0M444.7 131.4h0M562.9 485.6h0M510.1 466.9h0M461.9 210.7h0M509.0 291.2h0M487.5 246.3h0M452.5 62.5h0M489.3 179.4h0M506.7 233.7h0M554.0 466.3h0M485.9 112.5h0M493.5 430.7h0M359.1 158.6h0M451.2 398.1h0M440.5 216.5h0M523.6 495.7h0M490.9 275.8h0M471.4 298.4h0M477.0 190.6h0M405.9 63.0h0M498.4 317.6h0M483.7 90.0h0M485.0 397.7h0M638.1 209.7h0M444.3 113.3h0M517.2 330.9h0M407.0 62.5h0M504.9 204.7h0M412.5 64.9h0M495.5 156.5h0M511.3 272.9h0M606.7 382.1h0M491.8 302.7h0M490.4 355.2h0M515.6 420.6h0M388.4 145.4h0M470.0 289.1h0M496.4 300.7h0M510.3 398.7h0M493.5 255.8h0M502.5 330.6h0M450.0 116.9h0M513.2 432.4h0M434.0 171.8h0M495.8 107.9h0M426.3 72.2h0M552.9 396.5h0M466.3 264.5h0M504.8 340.8h0M461.0 93.4h0M479.5 311.2h0M465.6 70.1h0M497.1 134.4h0M513.0 289.4h0M503.3 432.4h0M563.2 443.2h0M464.2 119.5h0M613.4 178.8h0M463.0 303.0h0M443.7 148.3h0M485.3 174.9h0M494.9 151.2h0M488.9 160.7h0M471.6 73.5h0M504.0 362.3h0M472.6 63.9h0M489.5 127.0h0M388.4 305.7h0M476.2 141.2h0M496.7 185.9h0M518.2 349.6h0M484.5 77.0h0M470.5 101.7h0M475.7 190.6h0M420.4 159.3h0M454.3 68.2h0M497.9 129.6h0M492.4 206.8h0M485.2 141.1h0M490.0 195.7h0M510.8 312.9h0M520.6 486.0h0M430.0 63.0h0M455.4 115.9h0M517.4 393.8h0M491.4 271.9h0M524.7 485.7h0M555.6 493.0h0M501.4 245.4h0M312.7 276.7h0M460.8 113.2h0M471.7 62.3h0M458.7 89.1h0M508.8 419.6h0M599.6 281.0h0M514.4 347.3h0M490.3 150.9h0M500.5 267.4h0M547.7 396.2h0M476.4 243.3h0M523.5 391.3h0M464.8 93.3h0M499.1 140.9h0M547.4 500.1h0M504.1 207.0h0M473.6 147.5h0M503.4 223.9h0M510.5 357.0h0M533.8 500.8h0M517.7 358.0h0M503.6 231.8h0M508.0 295.4h0M465.1 312.4h0M512.6 431.2h0M459.9 215.2h0M509.0 486.6h0M516.6 369.6h0M470.0 63.0h0M578.1 288.4h0M521.7 479.5h0M519.2 489.3h0M523.1 416.3h0M474.3 138.4h0M511.7 481.0h0M479.8 302.6h0M498.1 179.6h0M478.2 342.8h0M417.3 102.6h0M395.5 61.6h0M404.5 254.5h0M626.5 327.2h0M493.2 346.8h0M468.6 168.0h0M431.4 399.2h0M451.5 111.4h0M543.0 408.1h0M428.6 86.2h0M465.4 432.7h0M457.2 63.5h0M516.6 356.0h0M373.7 108.6h0M400.8 195.5h0M432.3 62.9h0M513.0 286.5h0M475.7 301.4h0M528.9 476.3h0M518.5 471.7h0M406.2 157.1h0M487.7 118.7h0M519.6 493.0h0M501.2 185.9h0M490.5 431.9h0M445.0 249.0h0M475.7 388.0h0M496.3 117.6h0M486.3 199.1h0M508.2 210.8h0M490.9 419.0h0M500.0 489.0h0M490.9 135.8h0M575.5 384.4h0M422.2 278.4h0M484.5 349.7h0M525.1 404.9h0M496.2 214.5h0M377.2 81.9h0M434.0 62.5h0M544.4 413.4h0M451.5 433.1h0M500.7 214.0h0M497.3 207.4h0M471.0 63.5h0M383.2 240.5h0M458.7 92.4h0M489.6 251.0h0M471.5 396.8h0M478.2 317.0h0M511.5 490.3h0M505.4 420.2h0M481.1 74.9h0M505.6 356.2h0M469.8 288.8h0M458.7 82.9h0M462.3 116.6h0M404.7 113.6h0M417.8 282.8h0M417.0 100.4h0M371.3 132.2h0M507.9 430.2h0M476.0 95.5h0M515.1 417.3h0M383.7 180.2h0M512.7 291.2h0M504.1 457.8h0M497.5 421.4h0M419.9 89.2h0M521.6 447.9h0M405.6 174.7h0M392.3 118.7h0M492.2 420.3h0M512.1 393.7h0M525.3 475.4h0M472.6 113.3h0M483.1 413.7h0M495.1 119.0h0M484.4 370.1h0M521.7 443.4h0M466.0 155.3h0M432.2 91.7h0M504.1 434.9h0M511.7 379.8h0M448.0 166.5h0M403.3 88.3h0M472.4 193.7h0M508.5 296.9h0M490.8 377.2h0M493.0 288.0h0M426.7 67.1h0M528.2 496.8h0M547.7 471.7h0M440.8 62.6h0M427.7 101.8h0M381.2 325.4h0M421.8 82.2h0M457.2 244.0h0M491.4 334.8h0M495.3 161.5h0M415.9 265.3h0M463.6 223.1h0M420.0 102.1h0M503.5 197.0h0M431.9 103.7h0M496.8 110.1h0M633.8 322.0h0M507.7 431.6h0M489.7 121.1h0M520.1 372.7h0M495.6 163.6h0M582.9 177.2h0M487.9 87.3h0M488.9 146.2h0M501.5 415.8h0M448.2 88.1h0M490.7 90.8h0M464.9 210.8h0M512.1 325.0h0M460.1 276.1h0" stroke="#a5a5aa" stroke-opacity="0.2" stroke-width="10" stroke-linecap="round" fill="none"/>
<path d="M608.3 306.9h0M489.1 272.6h0M507.6 255.1h0M421.5 62.3h0M444.4 231.4h0M519.2 445.1h0M397.5 62.3h0M499.2 238.7h0M505.5 184.2h0M482.1 132.5h0M500.9 161.7h0M506.9 342.6h0M504.9 395.0h0M519.5 369.1h0M467.5 174.3h0M496.8 118.5h0M346.8 95.2h0M463.3 79.3h0M494.9 252.5h0M434.1 130.1h0M484.8 225.2h0M554.8 453.7h0M463.7 78.0h0M491.6 150.6h0M402.8 71.1h0M511.8 320.8h0M493.2 108.1h0M505.8 215.3h0M520.0 362.9h0M513.7 410.3h0M503.2 170.1h0M505.7 388.3h0M509.4 433.4h0M478.7 129.2h0M462.6 297.6h0M496.5 377.5h0M555.2 388.8h0M421.4 68.8h0M423.0 202.4h0M499.7 334.7h0M521.0 466.9h0M469.5 233.5h0M513.3 426.5h0M436.3 62.8h0M631.0 260.8h0M371.7 210.7h0M476.7 113.3h0M510.9 270.3h0M475.1 203.5h0M486.5 108.8h0M451.6 381.5h0M501.4 161.9h0M552.4 496.7h0M505.2 323.0h0M417.3 254.4h0M418.4 175.0h0M509.5 399.2h0M501.3 321.4h0M401.8 63.2h0M480.9 440.5h0M479.8 307.5h0M527.1 486.8h0M454.4 253.1h0M461.9 182.6h0M530.1 510.1h0M515.9 428.4h0M512.0 355.7h0M452.1 171.3h0M522.3 427.9h0M453.4 115.8h0M471.8 342.4h0M404.0 176.4h0M455.4 191.8h0M543.0 506.6h0M465.7 97.2h0M490.1 143.7h0M554.1 470.2h0M455.1 165.2h0M486.4 284.0h0M354.0 121.3h0M439.4 153.3h0M484.8 298.7h0M522.6 458.4h0M521.7 498.1h0M494.1 361.7h0M461.4 307.4h0M497.6 156.1h0M476.3 241.1h0M493.6 207.6h0M431.8 96.9h0M527.6 481.8h0M472.3 195.3h0M497.0 261.6h0M488.3 243.9h0M488.7 217.1h0M494.3 286.6h0M412.3 199.8h0M485.4 374.6h0M432.2 91.7h0M408.5 238.5h0M457.6 94.0h0M486.9 181.1h0M409.2 65.6h0M429.6 348.7h0M426.2 221.5h0M516.1 399.0h0M493.9 360.5h0M491.6 341.5h0M464.8 298.4h0M792.5 338.9h0M513.3 422.2h0M421.7 354.8h0M497.1 328.0h0M549.6 502.5h0M463.3 288.2h0M518.4 301.0h0M482.8 382.7h0M489.8 86.2h0M505.4 443.1h0M349.5 99.6h0M463.8 347.9h0M388.5 72.2h0M497.4 408.6h0M486.5 253.2h0M500.9 188.4h0M469.7 85.1h0M518.8 415.5h0M514.5 452.1h0M479.9 135.8h0M516.5 432.9h0M434.9 104.2h0M471.9 298.7h0M419.9 311.2h0M476.8 161.0h0M492.5 205.4h0M569.1 401.7h0M464.2 174.6h0M496.8 352.2h0M482.9 185.9h0M595.0 378.5h0M640.1 278.7h0M505.1 316.3h0M460.9 339.9h0M519.8 355.4h0M500.7 420.4h0M507.2 452.5h0M470.1 296.6h0M490.3 414.7h0M484.9 386.2h0M480.5 182.9h0M515.6 303.4h0M468.0 285.9h0M466.2 87.0h0M409.5 196.0h0M467.8 65.1h0M506.6 206.4h0M513.5 399.6h0M469.7 101.2h0M602.1 292.2h0M488.6 300.7h0M522.7 354.2h0M466.0 195.5h0M479.7 286.9h0M404.9 199.3h0M647.0 296.6h0M490.8 94.6h0M384.7 63.9h0M456.5 158.4h0M505.6 268.7h0M481.9 159.5h0M336.0 377.6h0M602.3 93.0h0M519.0 414.0h0M467.2 75.2h0M525.2 462.9h0M422.9 283.0h0M501.1 182.8h0M491.9 109.5h0M518.4 423.2h0M379.0 94.8h0M498.1 434.9h0M484.5 382.1h0M498.8 236.0h0M455.4 364.0h0M543.5 447.3h0M520.9 441.6h0M495.4 358.1h0M451.1 254.8h0M471.8 223.9h0M498.9 217.4h0M509.0 218.6h0M467.0 275.9h0M503.9 238.4h0M455.7 88.0h0M477.3 74.4h0M453.8 68.7h0M474.2 148.9h0M475.5 392.9h0M456.7 271.6h0M484.7 189.6h0M511.0 257.0h0M503.6 290.4h0M474.7 182.2h0M479.3 267.9h0M499.6 258.5h0M497.9 306.5h0M449.3 127.5h0M411.7 140.0h0M597.1 183.9h0M494.5 193.3h0M443.8 112.5h0M477.6 68.3h0M504.6 190.7h0M390.1 221.3h0M400.1 73.7h0M625.8 161.0h0M573.0 445.7h0M551.9 442.9h0M500.9 370.7h0M500.6 356.3h0M407.6 201.9h0M447.0 388.0h0M397.1 81.6h0M451.6 230.1h0M411.0 94.6h0M611.3 259.4h0M560.3 338.2h0M530.4 508.1h0M475.6 151.6h0M467.0 63.3h0M419.5 83.0h0M460.3 73.7h0M468.0 193.6h0M409.7 131.9h0M410.8 253.7h0M432.4 87.0h0M485.8 424.1h0M441.8 109.9h0M478.9 168.7h0M466.1 284.8h0M467.6 63.2h0M515.8 453.2h0M469.1 300.9h0M446.0 83.1h0M513.0 316.4h0M489.2 149.8h0M498.8 421.5h0M369.1 225.1h0M461.9 94.7h0M488.9 428.0h0M500.9 156.8h0M479.4 307.5h0M484.0 130.8h0M375.9 80.1h0M436.5 168.5h0M417.5 62.2h0M394.8 63.1h0M600.6 244.5h0M504.0 336.4h0M407.0 75.1h0M581.9 408.6h0M553.3 478.0h0M451.4 126.8h0M574.6 484.9h0M492.4 117.4h0M441.7 124.7h0M424.7 65.8h0M459.7 154.5h0M499.0 253.2h0M488.3 360.2h0M540.6 496.1h0M488.2 189.0h0M471.2 81.4h0M476.6 365.2h0M450.5 93.1h0M506.0 305.3h0M507.2 331.5h0M364.2 107.5h0M453.2 130.1h0M482.8 319.6h0M415.6 86.2h0M491.0 121.7h0M525.3 506.1h0M504.7 201.1h0M464.0 134.1h0M493.6 233.5h0M490.1 330.6h0M461.6 69.7h0M404.5 104.0h0M464.6 214.7h0M526.0 449.8h0M479.1 140.5h0M479.7 386.6h0" stroke="#a5a5aa" stroke-opacity="0.2" stroke-width="10" stroke-linecap="round" fill="none"/>
<path d="M392.2 104.8h0M467.0 222.4h0M416.5 103.4h0M499.8 343.5h0M478.9 198.8h0M436.4 184.7h0M501.3 242.6h0M462.9 203.5h0M457.2 202.5h0M502.2 181.8h0M494.7 109.8h0M525.0 452.2h0M386.9 70.2h0M399.1 77.9h0M549.2 487.2h0M472.3 278.5h0M496.4 256.9h0M408.7 222.7h0M469.8 306.9h0M454.0 74.8h0M489.5 100.3h0M423.0 154.3h0M457.4 283.6h0M590.0 417.4h0M520.0 408.2h0M471.7 335.9h0M486.7 84.6h0M409.2 97.4h0M502.5 240.8h0M491.5 266.1h0M476.8 133.2h0M493.9 424.4h0M556.6 236.5h0M418.6 70.7h0M459.0 177.0h0M468.9 63.0h0M480.1 63.9h0M568.0 469.7h0M409.1 76.1h0M516.5 289.1h0M548.3 467.2h0M475.6 261.2h0M405.3 326.4h0M487.5 389.4h0M494.0 334.6h0M560.4 384.7h0M569.7 336.9h0M495.7 327.6h0M477.6 261.2h0M432.7 120.2h0M456.5 178.7h0M498.4 115.8h0M451.5 62.9h0M512.7 355.5h0M464.8 187.3h0M512.7 340.1h0M517.2 422.4h0M605.6 395.4h0M486.8 308.4h0M408.0 69.5h0M514.7 420.4h0M529.6 506.1h0M466.0 178.1h0M439.1 62.7h0M437.7 62.7h0M480.5 337.5h0M508.4 261.8h0M465.5 338.3h0M472.3 303.5h0M458.2 410.2h0M464.0 80.6h0M497.6 377.9h0M470.0 82.0h0M491.9 318.7h0M483.7 367.5h0M489.0 129.6h0M494.4 293.9h0M484.5 77.6h0M410.4 62.1h0M344.7 66.5h0M509.6 260.7h0M488.9 123.0h0M515.6 450.5h0M528.4 504.8h0M450.3 190.7h0M529.7 501.3h0M407.8 181.3h0M507.8 259.8h0M425.6 62.0h0M460.0 231.8h0M466.8 90.8h0M428.8 97.8h0M375.5 250.3h0M397.2 235.2h0M667.5 83.1h0M504.3 251.9h0M469.6 134.2h0M514.8 434.9h0M553.5 493.7h0M509.5 260.9h0M525.5 502.2h0M523.3 449.3h0M498.1 375.6h0M457.1 62.9h0M457.8 163.0h0M486.4 437.0h0M504.9 229.1h0M485.4 78.1h0M448.7 338.3h0M579.7 253.5h0M405.9 111.6h0M411.4 62.7h0M481.2 124.1h0M532.5 503.2h0M494.0 194.3h0M484.2 350.5h0M494.4 133.8h0M434.2 95.0h0M493.0 312.1h0M516.7 406.0h0M493.4 223.2h0M500.3 465.0h0M416.8 231.8h0M448.1 203.0h0M612.0 417.9h0M483.1 159.7h0M474.2 441.6h0M435.4 135.0h0M558.8 338.4h0M551.1 379.5h0M499.2 186.2h0M450.4 284.8h0M559.7 399.1h0M404.6 88.3h0M490.2 227.2h0M498.8 319.5h0M377.1 173.7h0M468.5 288.4h0M470.5 171.5h0M395.5 118.9h0M491.1 113.9h0M554.8 453.2h0M491.5 103.6h0M503.4 217.5h0M266.2 267.0h0M505.7 373.7h0M431.2 265.3h0M506.6 303.0h0M493.2 130.8h0M507.0 268.0h0M511.8 461.5h0M378.8 276.1h0M404.8 211.1h0M476.4 82.1h0M493.4 395.3h0M518.1 326.9h0M497.7 298.6h0M552.5 280.1h0M486.8 91.9h0M385.6 139.2h0M488.2 307.0h0M449.6 185.9h0M454.7 347.8h0M555.5 232.3h0M483.6 195.6h0M497.7 273.7h0M465.6 325.8h0M507.2 201.8h0M405.1 77.4h0M525.2 507.8h0M415.7 122.2h0M527.3 506.7h0M441.4 82.0h0M500.5 388.2h0M415.3 71.3h0M482.2 321.7h0M505.2 208.2h0M500.0 327.8h0M409.1 194.9h0M509.2 322.6h0M483.4 129.4h0M441.4 62.7h0M459.3 213.0h0M463.1 116.5h0M482.7 173.3h0M468.3 116.6h0M505.8 377.2h0M551.3 499.9h0M485.2 196.2h0M476.5 67.8h0M479.8 246.3h0M548.1 320.7h0M437.7 135.6h0M490.6 194.6h0M520.0 409.1h0M374.0 198.1h0M511.3 354.1h0M632.9 338.2h0M509.5 396.0h0M493.5 118.0h0M484.8 332.8h0M466.4 99.2h0M632.3 222.4h0M508.4 258.7h0M535.4 507.0h0M489.1 188.8h0M439.8 121.4h0M516.2 479.3h0M533.7 512.5h0M454.6 249.4h0M444.6 135.1h0M480.1 78.7h0M524.6 493.0h0M419.8 105.3h0M512.2 305.0h0M406.7 63.2h0M496.1 349.2h0M456.7 161.5h0M485.8 250.1h0M439.8 130.4h0M494.1 117.0h0M457.2 150.6h0M480.6 105.4h0M387.6 91.8h0M483.3 347.2h0M429.4 78.1h0M470.5 238.6h0M563.4 372.8h0M503.3 341.0h0M508.8 254.0h0M473.6 67.1h0M497.2 304.5h0M463.5 123.4h0M568.9 450.0h0M402.3 246.6h0M497.8 177.0h0M608.6 417.0h0M467.5 241.2h0M460.1 99.1h0M559.6 363.4h0M499.4 346.2h0M484.8 212.9h0M490.3 100.9h0M457.4 245.0h0M474.8 112.4h0M494.4 326.2h0M446.3 62.6h0M426.7 415.6h0M492.1 290.9h0M469.9 202.9h0M497.4 200.8h0M502.8 208.3h0M414.4 109.2h0M472.5 199.8h0M495.6 266.6h0M616.3 305.4h0M484.0 259.1h0M518.8 295.9h0M403.5 117.8h0M412.3 278.8h0M518.0 471.7h0M420.4 63.4h0M434.3 360.2h0M486.0 128.4h0M491.1 381.5h0M430.9 100.6h0M397.3 62.8h0M491.6 114.4h0M462.8 101.8h0M512.5 373.0h0M483.5 143.0h0M524.5 392.5h0M487.1 165.8h0M435.9 100.9h0M456.6 210.5h0M462.1 108.6h0M497.9 440.5h0M479.5 134.2h0M646.7 311.5h0M474.6 288.0h0M479.7 352.4h0M430.4 125.8h0M450.9 114.1h0M517.5 443.3h0M434.0 90.2h0M482.0 159.7h0M490.7 238.9h0M407.8 134.8h0M417.4 63.7h0M468.2 292.9h0M438.5 77.5h0M501.8 401.0h0M486.2 226.7h0" stroke="#a5a5aa" stroke-opacity="0.2" stroke-width="10" stroke-linecap="round" fill="none"/>
<path d="M467.7 76.3h0M479.4 450.5h0M463.2 104.8h0M451.2 62.5h0M450.9 76.2h0M439.6 223.7h0M448.6 140.2h0M428.2 104.0h0M436.3 269.0h0M449.3 62.7h0M479.1 87.1h0M475.7 63.6h0M507.9 259.6h0M496.7 316.4h0M484.2 199.0h0M480.7 102.3h0M479.8 449.1h0M282.2 161.9h0M436.7 208.7h0M392.4 260.9h0M492.5 252.8h0M491.4 383.0h0M523.5 472.5h0M467.2 191.9h0M513.4 378.8h0M445.8 105.4h0M494.9 126.2h0M519.1 377.4h0M478.6 67.1h0M477.3 231.5h0M495.5 296.8h0M510.0 366.5h0M437.1 65.6h0M785.2 358.3h0M469.6 124.4h0M514.2 347.9h0M481.1 197.2h0M488.5 265.3h0M513.3 345.0h0M516.2 436.4h0M495.0 147.7h0M494.5 291.5h0M483.9 250.2h0M494.7 287.1h0M503.9 196.2h0M498.2 171.5h0M447.6 163.7h0M501.8 276.9h0M483.2 299.2h0M482.1 414.7h0M497.5 277.9h0M510.6 416.4h0M439.4 72.2h0M479.6 67.7h0M505.8 278.7h0M567.6 430.0h0M340.3 293.3h0M494.9 140.1h0M456.8 202.1h0M401.6 121.0h0M487.7 336.9h0M464.6 194.4h0M418.6 201.6h0M551.6 465.2h0M469.9 448.6h0M493.2 96.2h0M449.3 369.3h0M439.1 115.5h0M526.6 435.2h0M457.3 194.8h0M499.6 436.7h0M433.5 63.1h0M487.2 76.6h0M495.6 444.6h0M389.2 62.1h0M411.3 326.0h0M501.3 260.1h0M462.3 74.4h0M496.9 362.8h0M492.5 352.0h0M507.6 200.0h0M469.7 169.5h0M493.5 154.7h0M509.4 352.4h0M475.8 243.9h0M405.1 75.0h0M502.8 226.3h0M486.7 174.6h0M334.5 355.5h0M434.9 95.5h0M369.7 160.0h0M465.6 300.2h0M468.6 273.1h0M454.2 152.0h0M495.9 237.8h0M475.2 63.0h0M522.5 411.6h0M430.3 190.8h0M482.9 96.7h0M392.1 63.0h0M416.9 210.9h0M508.9 413.0h0M522.4 441.2h0M472.0 256.9h0M498.1 228.0h0M423.1 215.3h0M434.7 247.1h0M551.8 464.0h0M468.4 82.6h0M419.9 62.6h0M475.9 71.8h0M478.1 62.5h0M386.2 62.6h0M443.0 303.6h0M521.2 471.8h0M475.9 291.8h0M499.3 255.3h0M511.3 317.9h0M541.2 491.9h0M470.8 206.9h0M480.2 251.4h0M475.6 91.5h0M435.0 342.3h0M511.3 249.0h0M569.3 179.1h0M398.7 267.7h0M450.9 99.4h0M495.0 214.2h0M506.7 482.2h0M486.6 87.0h0M454.8 63.3h0M378.1 104.8h0M455.2 85.1h0M559.0 263.1h0M478.3 120.7h0M494.2 173.1h0M463.8 63.5h0M454.8 159.5h0M466.5 255.6h0M489.1 382.9h0M516.4 456.2h0M492.1 413.5h0M492.1 114.2h0M465.4 93.8h0M482.4 193.8h0M463.5 301.5h0M503.9 227.2h0M518.6 376.3h0M443.6 376.4h0M504.0 441.2h0M458.9 63.9h0M438.5 171.3h0M486.0 176.3h0M476.6 323.0h0M407.1 199.4h0M482.8 96.7h0M432.8 82.4h0M489.3 247.4h0M506.5 336.2h0M494.1 436.3h0M467.3 393.1h0M426.6 79.4h0M529.5 498.8h0M450.0 97.0h0M474.1 129.7h0M600.5 272.7h0M495.3 150.0h0M487.0 286.0h0M378.5 278.4h0M500.4 381.8h0M518.9 354.0h0M509.9 434.3h0M422.7 191.7h0M508.9 393.7h0M476.2 186.0h0M478.0 234.1h0M470.2 190.1h0M486.0 322.4h0M391.6 112.5h0M511.5 392.4h0M452.0 423.9h0M456.3 346.0h0M528.4 501.5h0M408.9 66.0h0M493.5 114.0h0M477.0 87.1h0M426.9 387.3h0M472.5 244.6h0M563.8 367.5h0M491.0 365.0h0M410.2 69.4h0M479.2 339.1h0M458.8 234.4h0M459.1 138.3h0M467.3 271.6h0M451.5 140.9h0M497.4 369.8h0M458.2 138.3h0M417.5 106.9h0M453.8 147.8h0M521.4 407.6h0M456.0 182.9h0M587.2 292.3h0M500.0 153.9h0M475.5 143.5h0M373.1 76.0h0M501.0 364.5h0M453.6 84.3h0M454.8 186.9h0M450.2 365.9h0M435.7 91.2h0M462.6 102.8h0M418.3 74.3h0M518.0 383.6h0M353.5 73.2h0M506.3 406.7h0M476.9 352.7h0M413.4 116.4h0M419.4 150.1h0M488.1 355.1h0M474.4 315.9h0M492.5 107.2h0M485.9 432.5h0M485.8 242.5h0M444.7 260.4h0M463.3 63.2h0M498.0 409.7h0M479.6 296.1h0M601.8 371.9h0M483.5 341.5h0M439.2 155.9h0M448.7 146.7h0M590.5 172.8h0M439.9 121.1h0M491.4 230.0h0M468.4 63.0h0M812.9 238.0h0M499.4 185.5h0M516.6 364.6h0M531.3 508.0h0M554.3 391.0h0M384.4 304.0h0M506.3 264.0h0M486.2 348.2h0M514.9 466.1h0M511.6 474.5h0M441.4 70.9h0M479.1 298.0h0M398.6 118.1h0M518.2 398.8h0M351.2 84.3h0M424.5 63.8h0M518.3 397.2h0M512.1 323.5h0M443.6 272.2h0M443.7 111.2h0M452.6 77.1h0M527.3 503.1h0M475.5 427.9h0M481.0 71.7h0M479.5 311.1h0M471.1 292.8h0M552.1 441.6h0M550.4 488.5h0M373.7 299.4h0M471.8 188.2h0M503.2 290.9h0M524.8 447.0h0M506.1 340.6h0M505.0 202.8h0M426.5 95.6h0M496.5 450.9h0M524.9 466.6h0M467.7 215.5h0M502.8 198.6h0M609.3 110.7h0M459.4 119.1h0M458.3 72.3h0M516.6 316.2h0M473.6 176.1h0M475.4 84.4h0M431.4 70.0h0M495.1 248.7h0M495.4 263.9h0M453.5 176.3h0M511.2 376.8h0M513.3 376.6h0M484.0 132.5h0M471.2 112.0h0M497.4 217.9h0M421.4 117.0h0M512.2 302.4h0M501.1 236.3h0" stroke="#a5a5aa" stroke-opacity="0.2" stroke-width="10" stroke-linecap="round" fill="none"/>
<path d="M399.2 247.3h0M516.7 388.2h0M386.6 109.3h0M467.7 73.3h0M452.4 188.6h0M494.7 372.6h0M542.3 506.4h0M474.8 277.4h0M474.0 117.9h0M468.2 123.4h0M463.6 62.6h0M474.4 182.3h0M509.2 275.2h0M475.3 176.4h0M515.5 427.0h0M478.8 283.7h0M464.7 94.7h0M473.8 96.9h0M408.9 79.4h0M511.1 270.2h0M519.6 420.2h0M489.5 409.5h0M495.0 108.5h0M449.7 170.4h0M425.6 274.8h0M470.4 321.3h0M461.2 146.8h0M495.4 117.6h0M490.9 171.0h0M461.2 355.8h0M447.1 85.8h0M516.1 325.6h0M512.5 432.6h0M463.1 285.2h0M480.7 256.2h0M435.6 71.4h0M515.4 302.1h0M467.4 73.4h0M501.3 305.2h0M426.4 71.3h0M478.5 467.9h0M449.9 88.1h0M515.0 302.0h0M428.3 86.4h0M471.4 65.6h0M491.1 325.0h0M495.5 452.7h0M369.6 90.6h0M475.0 62.9h0M611.3 405.4h0M437.0 140.8h0M488.8 179.9h0M470.0 253.5h0M506.0 381.6h0M484.1 388.6h0M462.2 80.8h0M469.6 331.1h0M510.7 418.3h0M463.5 145.6h0M473.0 379.7h0M466.9 210.4h0M502.2 330.3h0M419.4 193.8h0M465.0 239.9h0M472.1 355.7h0M482.1 281.0h0M504.4 376.7h0M402.1 298.6h0M487.8 322.3h0M475.5 210.4h0M634.5 355.5h0M439.5 110.1h0M468.1 312.0h0M472.8 276.0h0M494.4 281.0h0M421.1 309.8h0M484.4 81.6h0M402.9 62.5h0M400.5 124.6h0M492.8 228.5h0M508.6 255.9h0M574.7 439.0h0M481.3 183.0h0M498.0 390.6h0M461.6 66.5h0M487.1 169.8h0M476.7 63.0h0M419.1 84.5h0M432.7 322.6h0M455.2 291.2h0M393.8 74.7h0M450.6 85.7h0M494.6 413.7h0M475.4 186.1h0M515.8 495.7h0M560.8 491.2h0M468.4 190.4h0M450.2 63.2h0M519.3 457.9h0M545.9 448.4h0M500.2 285.6h0M463.6 175.5h0M467.9 298.6h0M516.5 390.7h0M501.0 278.2h0M502.3 216.1h0M515.4 433.5h0M454.3 312.5h0M430.8 63.2h0M446.9 227.4h0M457.3 120.6h0M461.5 63.4h0M499.8 265.3h0M462.8 91.1h0M469.2 236.0h0M522.8 437.8h0M474.8 387.7h0M502.7 170.8h0M504.5 288.5h0M471.4 92.2h0M454.3 127.2h0M486.4 215.1h0M503.5 383.0h0M505.6 308.4h0M449.3 202.8h0M466.6 293.4h0M480.6 109.7h0M436.2 108.8h0M458.8 124.0h0M462.5 153.3h0M523.8 498.0h0M402.5 240.7h0M484.9 200.6h0M463.6 215.1h0M415.8 67.5h0M463.7 263.5h0M458.6 448.3h0M501.8 171.0h0M501.9 347.0h0M489.5 397.4h0M604.3 192.0h0M467.5 189.8h0M463.8 75.4h0M452.4 93.7h0M475.8 198.3h0M442.4 80.6h0M519.3 421.4h0M517.4 321.3h0M434.7 225.7h0M474.7 74.0h0M461.4 62.9h0M427.9 133.1h0M479.3 139.1h0M498.5 448.3h0M438.6 117.9h0M423.4 221.1h0M488.4 100.1h0M442.8 221.1h0M399.1 273.2h0M466.6 162.7h0M466.9 119.0h0M520.7 389.9h0M522.1 498.0h0M591.9 377.5h0M442.1 166.6h0M481.8 289.8h0M649.7 284.7h0M447.6 140.1h0M511.4 452.0h0M504.7 367.1h0M504.1 410.0h0M388.6 71.6h0M473.0 66.6h0M498.1 243.2h0M579.5 480.3h0M429.6 255.1h0M507.5 305.0h0M489.9 267.9h0M519.6 384.7h0M492.6 193.6h0M405.1 64.8h0M483.2 181.0h0M514.9 305.9h0M427.5 240.3h0M505.8 187.2h0M482.7 434.1h0M505.1 231.6h0M492.0 244.7h0M501.7 299.8h0M516.1 389.6h0M498.0 320.1h0M496.1 191.0h0M465.7 171.9h0M452.4 123.0h0M507.9 324.2h0M463.1 185.0h0M503.1 245.5h0M519.2 423.8h0M420.6 108.6h0M456.0 149.3h0M518.3 379.6h0M499.6 449.0h0M454.5 174.0h0M433.7 104.4h0M471.4 232.8h0M640.4 327.5h0M524.2 476.8h0M496.5 234.5h0M502.9 284.9h0M518.8 478.1h0M492.0 154.9h0M530.3 512.1h0M481.1 369.4h0M530.0 500.8h0M494.8 171.2h0M497.7 307.9h0M495.7 234.7h0M497.2 337.5h0M413.1 375.7h0M479.3 191.6h0M437.0 111.4h0M486.0 377.3h0M485.1 96.4h0M527.5 494.9h0M373.3 68.9h0M401.2 174.4h0M368.7 241.3h0M484.5 254.4h0M518.6 449.0h0M564.8 404.9h0M433.1 66.7h0M521.0 399.2h0M517.8 447.5h0M481.1 377.0h0M493.0 155.5h0M482.0 340.7h0M514.7 442.4h0M549.7 507.6h0M401.7 151.1h0M455.5 140.3h0M450.5 140.5h0M494.1 145.5h0M365.5 72.6h0M391.5 301.5h0M455.3 324.4h0M439.4 298.7h0M521.7 398.9h0M592.1 323.9h0M386.3 86.4h0M449.1 67.7h0M435.7 87.8h0M472.1 227.6h0M393.3 177.5h0M494.0 108.4h0M463.6 212.0h0M466.6 295.2h0M418.3 70.4h0M499.6 167.9h0M468.6 92.3h0M451.3 312.1h0M460.0 142.6h0M499.6 180.9h0M535.3 503.9h0M515.9 342.8h0M409.6 83.4h0M525.8 471.1h0M551.8 416.4h0M450.7 98.7h0M497.1 240.0h0M424.9 399.3h0M513.6 372.4h0M452.3 94.1h0M427.4 312.9h0M483.3 189.6h0M507.7 441.9h0M436.9 63.3h0M498.9 227.4h0M535.3 510.6h0M362.9 205.8h0M492.4 157.2h0M500.3 305.6h0M475.9 251.2h0M524.1 418.9h0M487.8 403.4h0M418.8 340.4h0M454.1 117.4h0M406.8 114.5h0M456.4 63.3h0M427.1 347.6h0M412.0 93.9h0M469.5 363.8h0M486.8 156.8h0M573.5 439.3h0" stroke="#a5a5aa" stroke-opacity="0.2" stroke-width="10" stroke-linecap="round" fill="none"/>
<path d="M497.4 427.7h0M526.0 495.1h0M464.9 109.7h0M470.3 127.1h0M515.0 282.6h0M502.2 176.8h0M444.9 141.4h0M427.2 326.2h0M493.9 442.9h0M481.7 215.0h0M494.8 395.6h0M501.0 155.1h0M431.1 75.8h0M503.8 291.6h0M564.8 446.1h0M474.7 280.6h0M498.3 315.5h0M483.7 100.1h0M499.4 211.1h0M468.4 62.7h0M503.1 160.7h0M498.2 229.7h0M480.4 367.2h0M487.9 112.3h0M476.4 143.6h0M398.1 246.7h0M501.0 219.0h0M485.1 192.1h0M420.5 158.3h0M500.1 306.7h0M537.4 511.8h0M431.7 100.5h0M488.7 315.4h0M480.8 163.1h0M477.0 397.6h0M425.5 121.8h0M498.8 356.7h0M452.3 325.3h0M529.0 423.9h0M473.8 183.5h0M514.5 476.2h0M559.6 391.1h0M492.5 217.2h0M475.8 377.7h0M477.9 265.1h0M475.5 185.7h0M494.3 133.8h0M490.8 174.7h0M491.5 155.4h0M471.6 264.4h0M505.7 223.0h0M541.5 479.6h0M494.8 106.2h0M473.3 145.1h0M341.7 73.1h0M469.4 74.9h0M444.6 155.0h0M576.3 423.9h0M466.3 445.6h0M500.5 224.1h0M400.5 151.8h0M472.2 118.2h0M462.1 74.8h0M575.4 447.3h0M455.1 126.5h0M431.1 380.8h0M457.0 225.0h0M477.9 125.9h0M501.6 357.7h0M516.1 358.3h0M463.0 122.4h0M638.3 318.0h0M521.4 396.7h0M502.4 168.9h0M510.3 350.9h0M353.7 71.9h0M460.6 224.8h0M441.5 122.0h0M496.6 160.7h0M470.0 63.6h0M283.6 215.8h0M446.4 95.6h0M507.5 284.1h0M494.4 148.9h0M437.9 227.3h0M474.4 190.0h0M468.2 284.3h0M442.9 113.9h0M501.2 215.0h0M451.3 146.3h0M392.1 316.8h0M461.1 92.6h0M374.4 273.0h0M514.5 415.3h0M507.4 308.5h0M487.5 123.3h0M580.7 454.9h0M443.8 375.0h0M437.8 229.6h0M446.0 146.3h0M475.1 96.4h0M486.0 101.5h0M485.3 313.2h0M506.5 242.4h0M576.8 451.5h0M483.7 363.6h0M459.3 198.1h0M483.7 370.4h0M421.7 198.4h0M421.0 198.7h0M520.9 415.2h0M648.8 298.1h0M474.4 137.2h0M364.8 110.1h0M496.9 145.3h0M468.9 78.2h0M372.0 241.5h0M495.7 298.9h0M428.9 63.3h0M440.2 83.6h0M444.8 246.0h0M444.7 70.6h0M415.9 107.3h0M394.7 75.2h0M480.6 255.0h0M501.8 323.0h0M524.5 483.0h0M508.6 341.1h0M461.0 255.5h0M503.4 205.2h0M499.2 261.0h0M485.0 350.3h0M471.4 92.3h0M426.7 101.2h0M518.0 332.5h0M465.4 95.1h0M484.7 77.0h0M487.4 133.4h0M510.2 256.2h0M455.0 76.9h0M369.2 176.9h0M451.8 105.6h0M500.9 252.8h0M456.9 249.2h0M475.2 65.5h0M449.5 84.4h0M522.7 432.6h0M495.1 255.5h0M520.7 364.4h0M436.6 109.6h0M455.8 257.2h0M514.2 354.0h0M482.7 98.6h0M499.9 154.5h0M498.9 365.4h0M418.7 143.8h0M489.9 119.0h0M514.7 321.7h0M463.8 97.1h0M476.7 119.9h0M499.2 190.2h0M483.1 186.9h0M485.5 159.9h0M469.1 335.4h0M400.7 126.0h0M436.6 178.6h0M602.3 430.0h0M665.9 66.2h0M484.0 307.9h0M376.1 88.2h0M384.9 232.1h0M390.0 69.8h0M439.0 288.5h0M573.9 368.9h0M438.5 85.9h0M514.5 393.6h0M499.8 291.0h0M465.7 106.0h0M559.7 465.1h0M518.1 350.7h0M450.6 126.0h0M438.5 160.9h0M451.0 71.3h0M414.6 62.2h0M489.9 288.8h0M515.8 355.4h0M551.6 425.0h0M505.5 343.1h0M497.5 423.1h0M453.8 240.7h0M511.0 262.2h0M500.6 415.4h0M492.7 291.0h0M492.2 183.1h0M477.6 181.9h0M387.4 335.3h0M452.2 379.9h0M474.9 179.7h0M433.1 92.5h0M463.5 314.5h0M449.8 228.2h0M510.0 304.9h0M486.5 165.1h0M370.4 120.0h0M500.9 230.7h0M492.0 109.5h0M457.1 188.0h0M511.5 277.5h0M493.3 232.9h0M489.7 375.4h0M464.7 70.2h0M513.4 486.7h0M463.5 100.7h0M463.6 66.2h0M478.0 331.8h0M462.2 216.0h0M478.5 294.4h0M464.8 310.4h0M414.4 62.6h0M498.0 290.4h0M481.3 75.5h0M477.3 202.1h0M526.3 438.9h0M397.6 129.4h0M551.4 355.7h0M519.6 337.3h0M435.7 81.8h0M535.9 506.1h0M507.8 343.6h0M556.5 458.1h0M476.7 63.0h0M415.1 74.8h0M531.2 509.4h0M364.2 93.4h0M481.9 143.8h0M428.4 63.4h0M492.1 184.8h0M484.8 84.6h0M389.8 246.0h0M429.5 247.6h0M423.6 196.7h0M438.8 69.9h0M466.2 155.3h0M462.9 203.6h0M479.5 362.2h0M462.7 75.1h0M421.7 95.2h0M487.5 236.3h0M379.0 268.9h0M614.1 305.0h0M451.3 179.6h0M455.1 69.4h0M491.1 98.3h0M469.9 350.4h0M510.8 296.3h0M456.2 102.3h0M412.0 63.4h0M504.7 266.8h0M557.9 364.2h0M491.4 301.8h0M517.0 298.0h0M492.8 416.0h0M609.2 417.9h0M573.4 414.4h0M468.7 158.7h0M635.8 157.2h0M486.1 337.4h0M509.0 301.6h0M386.9 229.5h0M560.6 499.3h0M416.9 80.8h0M435.1 95.9h0M502.0 216.0h0M518.0 330.6h0M418.4 254.4h0M482.8 211.3h0M514.9 369.5h0M411.8 352.6h0M498.0 362.9h0M489.2 204.8h0M466.8 233.3h0M520.3 363.8h0M476.3 161.3h0M511.1 273.5h0M469.5 126.8h0M477.4 162.7h0M492.7 309.4h0M456.4 246.0h0M518.7 450.3h0M502.0 266.2h0M512.2 239.9h0M491.6 119.9h0M522.4 455.3h0" stroke="#a5a5aa" stroke-opacity="0.2" stroke-width="10" stroke-linecap="round" fill="none"/>
<path d="M446.5 145.7h0M512.4 363.8h0M524.0 486.9h0M630.1 338.5h0M495.2 292.6h0M488.5 170.1h0M465.4 100.5h0M493.0 264.8h0M523.2 401.9h0M559.1 496.4h0M502.3 253.7h0M490.4 280.4h0M436.5 128.7h0M483.4 276.9h0M500.3 316.0h0M490.8 183.0h0M371.7 98.3h0M449.5 62.5h0M476.3 244.2h0M403.5 131.2h0M443.8 165.6h0M431.6 62.6h0M402.2 62.9h0M616.2 183.9h0M420.9 161.4h0M477.2 63.6h0M508.9 365.1h0M435.5 354.9h0M494.2 263.1h0M482.1 268.8h0M481.5 121.3h0M465.5 456.2h0M371.2 250.5h0M442.2 302.0h0M507.2 228.8h0M499.4 206.5h0M594.1 355.6h0M498.4 232.5h0M491.3 341.4h0M515.3 287.3h0M477.9 62.4h0M516.2 371.8h0M488.5 79.1h0M502.2 208.1h0M599.1 381.1h0M464.9 86.7h0M496.9 388.0h0M441.1 95.7h0M373.4 112.7h0M498.0 292.3h0M502.3 436.1h0M501.0 355.0h0M496.8 216.2h0M508.3 416.9h0M547.2 502.3h0M467.7 68.1h0M459.8 101.3h0M503.3 357.8h0M590.4 366.2h0M441.2 115.6h0M503.9 400.0h0M479.4 64.5h0M464.1 148.8h0M549.2 482.1h0M505.9 244.0h0M466.9 83.1h0M504.4 188.3h0M502.4 191.6h0M498.3 444.0h0M489.7 216.6h0M490.5 223.4h0M511.9 343.8h0M509.2 470.0h0M601.2 299.1h0M505.3 183.1h0M472.3 180.3h0M414.2 62.3h0M435.2 159.6h0M719.8 235.2h0M409.5 303.2h0M494.7 219.9h0M472.5 265.1h0M548.2 359.2h0M550.7 391.4h0M391.7 99.0h0M468.5 181.0h0M477.8 92.4h0M407.3 367.4h0M407.8 357.2h0M445.2 69.6h0M419.6 290.9h0M501.4 329.7h0M519.6 409.1h0M522.9 467.3h0M446.5 289.4h0M336.9 64.3h0M542.4 493.6h0M476.4 297.6h0M513.9 306.1h0M412.3 206.5h0M441.4 114.9h0M506.2 225.9h0M573.4 411.4h0M551.3 334.8h0M502.9 288.7h0M511.6 412.1h0M463.6 127.3h0M449.5 164.3h0M474.6 164.7h0M437.6 73.9h0M528.0 498.4h0M440.9 114.0h0M381.9 103.6h0M477.5 354.0h0M503.9 287.6h0M494.6 454.7h0M497.0 405.0h0M484.7 185.9h0M396.6 92.8h0M492.8 379.6h0M464.9 62.4h0M500.1 333.1h0M325.8 138.4h0M504.2 238.2h0M485.8 136.9h0M460.3 70.7h0M482.5 180.7h0M484.7 425.3h0M472.6 81.3h0M495.6 150.1h0M505.4 423.6h0M501.7 232.4h0M491.0 412.9h0M497.5 252.2h0M458.0 126.9h0M496.2 408.7h0M478.4 93.2h0M442.7 204.6h0M491.9 355.3h0M563.2 300.1h0M521.9 431.9h0M409.7 113.3h0M577.8 439.1h0M482.9 304.4h0M529.3 495.9h0M387.6 63.5h0M410.9 132.8h0M525.4 449.6h0M504.9 186.5h0M505.9 228.2h0M456.5 128.0h0M522.0 392.7h0M453.9 271.8h0M390.8 67.1h0M463.5 261.7h0M485.9 388.5h0M388.5 73.5h0M494.2 134.7h0M490.2 330.9h0M512.9 312.6h0M463.3 80.4h0M441.3 222.7h0M503.7 417.8h0M494.3 430.9h0M424.3 101.2h0M469.0 65.1h0M454.5 314.7h0M449.3 72.6h0M530.3 509.9h0M501.7 378.7h0M391.0 115.0h0M613.7 148.1h0M506.6 247.6h0M428.2 63.2h0M432.9 127.3h0M473.4 183.9h0M454.3 116.5h0M525.0 445.5h0M516.5 336.4h0M487.7 105.6h0M445.6 204.6h0M511.1 456.8h0M337.4 77.5h0M396.1 136.0h0M520.7 390.0h0M495.3 269.5h0M460.6 112.3h0M458.8 95.8h0M453.4 85.6h0M513.6 349.9h0M518.4 437.2h0M540.5 512.5h0M509.2 281.6h0M424.8 127.7h0M461.5 219.3h0M479.8 200.1h0M507.1 474.6h0M485.7 401.5h0M463.4 181.2h0M509.4 251.2h0M427.7 225.3h0M474.5 133.9h0M487.1 124.2h0M383.3 105.0h0M516.5 380.1h0M485.1 277.4h0M449.7 62.0h0M410.7 111.9h0M274.9 343.1h0M507.0 212.3h0M419.4 116.6h0M474.5 368.2h0M395.4 187.2h0M486.3 106.6h0M489.0 313.7h0M411.5 196.2h0M499.5 328.9h0M441.3 202.5h0M457.0 244.1h0M476.4 356.1h0M315.6 258.7h0M442.4 79.8h0M485.1 168.7h0M445.9 62.8h0M478.5 138.1h0M499.2 248.4h0M488.7 382.4h0M496.3 185.8h0M482.6 139.9h0M597.7 196.0h0M482.5 320.5h0M505.4 372.4h0M498.4 187.4h0M445.8 205.5h0M486.9 217.0h0M486.8 395.8h0M521.0 474.6h0M521.1 400.6h0M517.0 339.6h0M503.9 196.8h0M475.8 347.4h0M416.6 62.3h0M479.6 289.8h0M487.8 288.1h0M658.7 225.5h0M462.9 145.0h0M488.6 80.0h0M476.7 73.4h0M513.6 281.2h0M518.0 387.4h0M508.8 364.5h0M462.5 151.7h0M533.3 509.8h0M420.8 80.4h0M495.0 252.9h0M504.7 260.1h0M366.5 421.9h0M518.6 323.5h0M496.8 107.5h0M481.3 405.5h0M472.2 182.6h0M473.6 127.8h0M442.3 274.9h0M403.2 93.0h0M487.5 322.4h0M552.6 499.6h0M499.4 367.1h0M503.8 289.4h0M482.7 359.0h0M431.2 163.0h0M498.2 187.7h0M512.4 430.7h0M437.8 92.6h0M469.9 209.7h0M424.8 176.2h0M452.7 210.3h0M470.1 297.8h0M411.1 107.4h0M503.5 332.5h0M427.1 87.0h0M435.7 101.3h0M576.0 486.8h0M498.0 157.9h0M452.7 170.2h0M627.1 292.5h0M452.8 124.0h0M499.2 437.6h0M485.4 198.9h0M483.7 380.4h0M565.9 493.6h0M479.7 135.2h0M463.6 180.5h0M505.8 236.0h0" stroke="#a5a5aa" stroke-opacity="0.2" stroke-width="10" stroke-linecap="round" fill="none"/>
<path d="M510.7 401.9h0M482.3 300.2h0M478.0 348.9h0M443.2 246.9h0M413.0 132.4h0M499.3 239.1h0M502.1 424.8h0M476.0 132.9h0M149.8 124.5h0M476.4 222.2h0M476.6 98.9h0M585.0 290.8h0M475.2 212.7h0M410.3 64.0h0M498.6 367.0h0M445.4 62.9h0M436.5 106.3h0M491.8 114.0h0M515.5 407.8h0M482.3 406.9h0M513.5 483.0h0M513.0 451.4h0M449.2 119.5h0M465.9 74.9h0M549.1 407.8h0M509.8 244.9h0M668.9 269.8h0M529.2 456.8h0M489.7 345.9h0M470.1 193.6h0M399.7 86.4h0M520.5 443.2h0M442.2 63.2h0M480.1 253.9h0M498.3 382.5h0M518.6 427.7h0M451.7 145.0h0M510.8 378.5h0M460.0 206.4h0M480.8 108.8h0M514.6 432.8h0M491.9 418.1h0M457.5 93.7h0M418.2 197.3h0M410.2 269.4h0M439.3 64.4h0M475.0 280.4h0M473.2 220.7h0M482.9 353.6h0M408.1 193.6h0M504.5 460.4h0M510.0 409.7h0M477.8 277.2h0M551.7 398.2h0M485.3 418.3h0M496.0 265.4h0M530.4 508.2h0M437.5 92.4h0M433.3 291.6h0M452.3 127.7h0M514.9 429.8h0M487.0 106.2h0M500.7 210.4h0M445.2 295.4h0M504.6 241.8h0M623.7 396.4h0M509.4 404.1h0M449.6 193.6h0M606.6 295.0h0M487.0 93.7h0M505.5 263.7h0M483.7 296.6h0M417.5 202.3h0M460.6 93.4h0M391.2 104.1h0M512.0 342.1h0M451.4 71.4h0M490.6 185.4h0M399.7 62.3h0M505.9 447.7h0M460.2 90.8h0M499.5 352.5h0M383.4 92.6h0M497.9 357.9h0M526.3 479.3h0M516.0 434.3h0M460.0 84.3h0M435.4 181.0h0M459.4 177.4h0M512.3 361.9h0M496.2 423.0h0M478.3 140.5h0M348.9 90.4h0M507.2 351.2h0M494.9 101.8h0M475.5 63.8h0M462.3 125.3h0M577.0 328.6h0M503.8 355.7h0M511.3 467.7h0M451.6 114.8h0M460.2 101.8h0M523.7 475.0h0M513.1 337.4h0M485.1 240.9h0M521.6 448.4h0M510.3 450.1h0M388.3 182.8h0M483.4 306.1h0M510.0 308.7h0M496.8 244.6h0M467.7 243.5h0M461.8 184.1h0M457.9 214.5h0M507.9 182.0h0M395.1 78.4h0M463.5 140.6h0M502.6 343.1h0M483.7 80.4h0M399.1 164.1h0M420.3 453.7h0M423.5 85.5h0M505.4 400.3h0M488.2 84.1h0M507.5 225.1h0M644.2 456.5h0M500.3 181.3h0M518.9 423.0h0M501.7 382.9h0M513.4 377.6h0M459.0 276.7h0M575.2 398.3h0M519.5 434.5h0M523.7 458.5h0M488.3 342.6h0M486.0 198.5h0M479.3 117.5h0M511.0 405.5h0M511.9 365.8h0M490.9 366.7h0M476.4 190.5h0M501.0 422.0h0M477.8 325.3h0M473.2 273.1h0M503.5 342.8h0M438.0 104.0h0M614.6 187.9h0M476.9 140.9h0M452.2 437.8h0M490.5 130.3h0M444.2 153.1h0M468.6 200.1h0M481.0 182.9h0M419.0 66.9h0M479.1 335.1h0M465.4 62.0h0M496.3 398.8h0M507.5 404.7h0M489.0 90.2h0M534.0 508.6h0M622.0 309.3h0M405.7 129.2h0M441.3 86.2h0M502.1 245.7h0M413.3 161.1h0M418.3 119.8h0M498.3 443.1h0M463.3 207.0h0M488.9 262.4h0M527.1 501.4h0M426.6 91.5h0M515.8 298.2h0M504.5 369.9h0M540.1 487.0h0M474.1 302.6h0M484.1 391.0h0M479.3 230.2h0M492.7 230.3h0M440.1 63.6h0M582.1 280.3h0M430.3 363.0h0M546.6 370.6h0M405.8 219.5h0M486.8 123.2h0M508.3 470.5h0M453.6 99.5h0M466.2 159.9h0M475.5 279.1h0M394.2 62.7h0M655.7 97.1h0M484.9 357.4h0M486.9 76.2h0M502.6 338.1h0M514.9 324.8h0M477.9 104.0h0M396.9 217.0h0M496.0 114.8h0M441.7 117.4h0M449.9 175.8h0M512.6 259.6h0M508.5 310.7h0M479.7 149.4h0M497.5 362.7h0M563.5 387.2h0M520.7 380.3h0M570.1 283.4h0M476.5 208.8h0M501.5 164.3h0M482.0 208.4h0M517.3 333.3h0M451.1 298.3h0M481.0 473.9h0M638.4 156.4h0M631.8 329.4h0M513.2 450.7h0M488.4 130.8h0M487.4 416.2h0M529.9 493.3h0M520.7 440.8h0M591.0 313.2h0M525.8 508.6h0M455.7 123.4h0M441.2 107.4h0M507.7 240.9h0M453.7 163.8h0M477.1 205.0h0M514.8 309.8h0M490.1 400.6h0M403.1 154.7h0M458.4 63.1h0M600.7 301.6h0M525.6 494.9h0M413.5 97.7h0M564.8 456.3h0M508.3 338.0h0M492.7 343.2h0M477.0 69.5h0M491.2 312.6h0M423.0 375.6h0M492.7 299.1h0M420.1 69.1h0M473.3 93.6h0M490.3 107.0h0M257.4 338.9h0M459.7 118.9h0M510.7 390.2h0M410.1 62.0h0M514.2 391.6h0M509.1 496.7h0M470.2 361.8h0M472.4 94.3h0M479.2 81.7h0M470.5 83.4h0M497.4 448.9h0M489.8 76.6h0M480.3 91.9h0M488.1 244.5h0M458.9 146.2h0M489.8 257.7h0M408.6 121.5h0M474.7 171.4h0M460.6 62.8h0M397.2 105.1h0M417.7 80.5h0M391.5 146.9h0M434.6 63.0h0M515.6 491.7h0M546.1 462.1h0M492.5 127.7h0M504.1 424.8h0M449.8 157.6h0M432.2 116.9h0M491.8 93.3h0M481.0 175.1h0M464.4 78.4h0M361.2 105.6h0M497.8 317.6h0M494.5 408.3h0M519.5 372.7h0M500.5 299.7h0M490.4 397.2h0M388.3 268.8h0M453.3 125.3h0M465.7 431.6h0M493.4 216.8h0M436.3 62.1h0M499.8 410.0h0M502.1 208.7h0M519.8 430.7h0M485.6 119.8h0M488.5 204.6h0M386.5 252.5h0M553.0 430.3h0" stroke="#a5a5aa" stroke-opacity="0.2" stroke-width="10" stroke-linecap="round" fill="none"/>
<path d="M507.8 362.8h0M461.9 63.0h0M495.2 286.1h0M485.4 204.9h0M464.0 105.8h0M558.2 327.8h0M498.0 314.1h0M526.5 455.8h0M370.8 225.4h0M495.7 104.9h0M508.4 466.7h0M512.5 430.2h0M512.8 346.2h0M479.7 381.2h0M415.5 225.6h0M494.2 111.9h0M475.7 69.7h0M464.7 228.6h0M485.6 287.5h0M468.1 73.5h0M507.8 331.5h0M442.5 62.9h0M512.6 462.1h0M556.9 492.4h0M485.6 353.4h0M464.7 251.5h0M483.6 129.6h0M650.6 277.1h0M430.8 62.3h0M443.3 219.9h0M602.1 197.4h0M500.1 312.6h0M506.1 160.3h0M435.5 219.5h0M483.3 253.8h0M444.6 148.3h0M484.6 104.0h0M542.4 410.2h0M414.5 74.5h0M486.9 195.0h0M456.6 66.9h0M494.0 366.4h0M438.4 166.4h0M607.6 386.4h0M376.4 75.6h0M470.8 115.8h0M441.4 227.8h0M452.4 63.2h0M479.8 376.8h0M556.5 254.2h0M488.4 300.4h0M509.4 324.7h0M383.6 65.3h0M583.3 450.3h0M589.3 430.1h0M354.0 70.2h0M518.8 376.9h0M415.5 363.9h0M478.6 424.1h0M486.7 213.3h0M473.1 136.9h0M457.6 64.6h0M465.1 114.1h0M535.7 512.0h0M471.5 145.9h0M429.6 62.7h0M508.2 247.0h0M476.9 62.4h0M477.4 226.4h0M482.7 395.0h0M584.1 398.9h0M508.3 429.8h0M489.6 121.0h0M422.9 66.5h0M522.9 424.2h0M464.5 209.8h0M579.2 457.5h0M606.1 424.0h0M500.5 417.5h0M493.2 113.7h0M456.8 342.4h0M483.7 112.8h0M456.8 218.8h0M568.3 327.2h0M488.2 356.1h0M555.7 505.7h0M435.8 63.0h0M511.3 440.3h0M459.0 173.6h0M466.8 154.0h0M522.6 442.4h0M470.5 70.8h0M471.9 185.2h0M415.6 62.4h0M439.6 67.8h0M448.1 430.4h0M448.3 397.7h0M484.3 269.7h0M470.9 253.5h0M500.3 443.5h0M481.6 195.6h0M608.7 195.3h0M382.9 178.0h0M575.0 239.0h0M494.3 180.2h0M480.9 76.9h0M389.1 66.0h0M552.9 481.5h0M460.1 97.3h0M476.6 188.3h0M416.9 198.6h0M401.2 362.4h0M474.6 74.1h0M422.7 225.0h0M522.5 480.9h0M485.9 343.2h0M566.9 446.2h0M496.8 396.1h0M489.3 313.2h0M474.8 62.1h0M477.1 197.5h0M452.1 181.4h0M487.0 190.0h0M516.1 387.7h0M467.7 71.4h0M451.0 362.9h0M499.3 247.6h0M483.0 102.8h0M530.6 500.1h0M472.8 92.9h0M499.0 270.6h0M489.9 107.6h0M473.0 78.3h0M483.8 114.5h0M414.6 102.5h0M395.7 354.2h0M481.4 364.4h0M482.5 73.4h0M401.7 63.7h0M462.4 187.4h0M529.1 475.7h0M520.5 388.9h0M503.6 389.2h0M525.9 511.0h0M500.2 126.7h0M498.1 254.8h0M507.4 453.0h0M366.5 163.2h0M455.4 70.1h0M460.7 87.7h0M376.7 157.0h0M518.1 399.7h0M459.2 400.4h0M493.0 164.0h0M467.2 157.4h0M488.1 86.4h0M461.5 173.6h0M488.7 187.8h0M438.7 101.5h0M427.3 133.0h0M410.1 364.5h0M526.9 444.2h0M389.7 78.5h0M446.0 166.3h0M506.3 445.3h0M482.3 203.3h0M497.7 327.5h0M434.7 268.7h0M459.2 338.0h0M481.6 217.3h0M473.2 239.1h0M424.9 100.3h0M506.0 325.9h0M527.1 442.0h0M458.7 237.0h0M520.6 382.1h0M495.8 212.9h0M482.3 134.4h0M354.5 69.9h0M496.4 325.0h0M493.7 380.3h0M553.0 482.3h0M512.9 381.9h0M460.2 240.7h0M459.4 154.5h0M520.9 470.6h0M376.8 120.8h0M484.7 103.1h0M494.2 208.5h0M488.9 333.1h0M444.9 272.4h0M471.4 119.6h0M568.2 234.0h0M550.8 455.3h0M490.8 138.4h0M496.9 404.7h0M488.2 136.2h0M491.0 213.1h0M495.1 147.4h0M488.8 260.6h0M431.7 62.7h0M452.3 64.0h0M556.2 479.4h0M501.3 309.9h0M496.6 232.9h0M519.1 368.3h0M487.2 118.7h0M479.5 150.5h0M497.1 148.2h0M488.4 395.4h0M450.7 75.0h0M443.5 323.6h0M492.7 150.6h0M504.3 183.5h0M427.7 93.7h0M558.4 502.0h0M457.7 87.6h0M449.3 131.8h0M463.1 281.8h0M485.5 338.6h0M496.0 389.4h0M479.6 184.5h0M499.1 430.8h0M444.8 374.7h0M521.4 398.3h0M420.5 84.4h0M520.5 377.3h0M485.1 249.4h0M484.4 89.7h0M425.3 233.8h0M404.6 126.8h0M437.1 366.8h0M494.3 314.5h0M501.2 134.6h0M470.2 116.7h0M455.8 132.1h0M494.3 317.7h0M380.5 66.7h0M481.1 75.3h0M443.5 92.9h0M501.1 283.2h0M583.1 433.3h0M505.2 271.4h0M507.7 278.3h0M474.3 75.6h0M484.0 271.1h0M570.5 402.5h0M544.4 442.5h0M512.6 269.8h0M496.8 350.9h0M491.9 281.8h0M498.7 262.6h0M647.2 110.4h0M438.5 73.7h0M452.8 70.7h0M460.9 194.3h0M606.4 464.8h0M524.8 506.5h0M408.7 368.2h0M465.5 83.0h0M483.0 230.3h0M489.4 175.7h0M487.9 369.7h0M502.7 204.9h0M501.5 177.6h0M451.0 94.1h0M496.0 111.5h0M449.1 158.2h0M520.7 490.3h0M495.4 421.7h0M533.9 512.9h0M482.4 193.3h0M485.4 267.5h0M462.7 355.9h0M439.1 99.9h0M434.1 359.5h0M502.5 323.6h0M431.7 74.1h0M589.9 275.0h0M548.0 342.6h0M484.3 466.9h0M503.6 266.1h0M500.1 394.3h0M487.7 150.0h0M461.3 71.6h0M504.0 248.0h0M488.7 372.3h0M479.8 336.7h0M382.9 69.2h0M512.4 403.9h0M511.6 501.5h0M492.1 184.4h0M420.6 136.3h0" stroke="#a5a5aa" stroke-opacity="0.2" stroke-width="10" stroke-linecap="round" fill="none"/>
<path d="M476.8 383.1h0M523.4 467.3h0M507.6 395.4h0M478.5 302.7h0M503.4 176.6h0M503.3 251.1h0M479.6 295.0h0M450.6 206.7h0M526.5 491.1h0M482.0 296.9h0M382.9 81.7h0M525.2 480.6h0M488.1 292.9h0M492.8 171.5h0M510.1 311.1h0M449.8 79.9h0M411.5 143.1h0M454.0 242.3h0M513.6 409.2h0M503.7 185.2h0M494.9 237.7h0M479.4 159.7h0M483.5 354.8h0M473.9 217.5h0M510.7 377.7h0M491.7 187.2h0M491.1 282.2h0M455.8 273.8h0M574.9 427.5h0M461.3 74.7h0M432.9 298.1h0M502.8 166.5h0M479.3 87.7h0M500.6 425.2h0M440.3 287.3h0M445.9 392.6h0M508.2 311.7h0M491.7 307.7h0M560.1 190.9h0M410.6 292.6h0M429.0 203.5h0M470.2 251.1h0M521.5 387.9h0M508.8 224.6h0M446.9 164.8h0M477.2 360.2h0M510.0 402.2h0M463.6 84.5h0M515.6 485.5h0M392.3 62.4h0M422.6 320.6h0M548.7 403.9h0M472.5 379.3h0M466.7 305.8h0M487.3 105.2h0M520.1 447.4h0M476.9 111.1h0M508.1 272.2h0M494.3 366.4h0M493.1 227.2h0M472.3 108.6h0M466.8 217.9h0M486.8 279.1h0M502.1 260.2h0M486.8 155.2h0M466.0 123.0h0M518.0 480.6h0M496.8 202.0h0M554.8 368.3h0M512.7 388.0h0M463.6 74.3h0M478.5 101.6h0M473.5 334.1h0M498.0 297.8h0M469.1 356.2h0M459.7 232.7h0M546.6 482.6h0M467.9 314.1h0M492.3 92.7h0M466.4 80.3h0M499.3 130.8h0M439.0 265.2h0M501.8 323.3h0M425.3 296.2h0M505.2 253.8h0M366.5 87.8h0M485.5 374.4h0M479.3 202.9h0M421.9 67.3h0M625.3 78.9h0M523.8 387.4h0M488.7 135.4h0M501.2 201.2h0M484.2 360.1h0M444.2 298.3h0M498.8 397.0h0M460.3 63.1h0M487.8 317.4h0M414.4 67.2h0M476.1 169.3h0M484.7 162.6h0M473.8 108.7h0M503.4 359.6h0M435.8 66.8h0M403.5 132.5h0M496.3 351.8h0M462.0 127.2h0M521.1 446.4h0M456.3 72.9h0M352.2 90.9h0M399.5 62.3h0M500.6 287.9h0M479.5 317.4h0M431.8 336.3h0M448.6 100.6h0M469.3 97.5h0M494.2 269.3h0M479.5 145.6h0M402.6 180.8h0M452.4 161.4h0M487.8 125.1h0M512.6 277.2h0M366.7 185.9h0M513.8 389.3h0M507.5 212.5h0M485.9 184.2h0M498.2 348.6h0M475.0 227.9h0M400.6 377.5h0M425.6 63.1h0M490.0 223.7h0M471.5 97.3h0M515.6 307.3h0M507.7 218.3h0M518.8 348.7h0M514.4 394.1h0M485.9 249.2h0M477.4 277.0h0M488.3 290.8h0M496.9 149.0h0M406.6 167.7h0M496.8 113.9h0M413.3 63.7h0M507.3 233.5h0M370.2 64.1h0M612.6 415.9h0M613.9 213.0h0M499.8 343.3h0M528.5 491.1h0M638.2 363.2h0M511.8 358.4h0M454.4 97.8h0M412.1 240.8h0M501.9 238.3h0M513.1 434.4h0M483.3 233.6h0M486.6 117.7h0M501.8 457.7h0M517.5 322.8h0M519.1 384.6h0M382.4 205.6h0M410.1 295.1h0M477.5 157.3h0M580.0 473.4h0M481.6 296.4h0M459.5 106.3h0M630.1 92.4h0M513.0 312.7h0M441.6 85.2h0M505.8 301.2h0M424.8 81.1h0M495.9 161.7h0M441.9 127.5h0M501.3 471.9h0M489.8 104.8h0M389.0 63.5h0M484.5 105.6h0M413.4 211.5h0M452.8 251.2h0M514.3 304.7h0M428.0 84.3h0M455.8 138.6h0M439.9 227.4h0M506.0 224.8h0M462.6 145.6h0M475.8 103.6h0M474.6 223.3h0M531.7 511.2h0M458.9 91.9h0M570.1 101.0h0M486.0 212.3h0M493.9 111.1h0M481.7 175.8h0M423.3 253.2h0M444.2 319.6h0M494.9 364.8h0M488.9 131.5h0M481.7 395.8h0M513.8 275.5h0M565.3 395.6h0M524.1 458.4h0M505.3 219.5h0M458.3 66.6h0M492.9 374.8h0M446.1 122.3h0M493.5 394.4h0M527.4 511.7h0M549.3 488.6h0M627.2 334.1h0M474.3 181.5h0M468.0 369.8h0M462.5 97.4h0M470.0 102.6h0M457.0 271.7h0M429.8 87.4h0M509.0 330.5h0M530.8 506.8h0M451.0 61.8h0M503.7 281.8h0M465.1 297.1h0M521.7 373.6h0M426.7 242.0h0M424.6 293.7h0M476.7 63.2h0M412.5 353.1h0M478.7 107.9h0M433.6 99.4h0M500.9 432.6h0M505.8 464.1h0M374.8 104.8h0M546.0 478.4h0M512.6 415.1h0M480.8 225.0h0M490.1 238.2h0M432.9 86.1h0M536.0 510.5h0M481.5 103.8h0M494.3 409.8h0M462.9 63.5h0M494.0 433.3h0M505.4 418.5h0M446.6 97.7h0M487.4 255.2h0M497.2 211.7h0M462.7 252.8h0M430.7 153.5h0M475.2 85.7h0M531.0 501.9h0M430.3 89.0h0M394.6 67.2h0M454.5 221.2h0M513.8 313.4h0M559.7 395.8h0M523.2 371.0h0M503.8 206.4h0M457.7 153.2h0M488.3 125.4h0M380.7 106.6h0M503.7 420.7h0M441.9 184.3h0M479.6 242.4h0M647.1 204.8h0M466.6 183.6h0M439.9 101.8h0M553.2 314.4h0M419.9 85.4h0M465.6 91.5h0M479.9 426.5h0M498.1 459.0h0M412.7 64.9h0M525.1 444.0h0M406.3 163.9h0M464.9 257.4h0M492.9 120.4h0M425.9 76.5h0M473.7 274.7h0M401.6 62.2h0M428.3 109.5h0M493.8 207.1h0M412.7 154.9h0M493.6 362.5h0M463.7 132.3h0M486.7 294.3h0M454.1 90.5h0M459.0 113.3h0M398.1 172.8h0M477.3 103.5h0M437.5 108.4h0M503.5 354.5h0M469.0 116.8h0M502.1 205.9h0M421.1 116.2h0M468.9 217.0h0" stroke="#a5a5aa" stroke-opacity="0.2" stroke-width="10" stroke-linecap="round" fill="none"/>
<path d="M447.8 65.8h0M470.1 424.8h0M611.9 388.5h0M503.8 418.1h0M493.8 314.9h0M488.4 380.5h0M492.0 262.9h0M483.5 270.0h0M482.8 234.4h0M518.0 358.6h0M472.4 326.6h0M417.3 65.3h0M441.8 62.8h0M457.9 182.7h0M456.4 113.8h0M500.8 273.3h0M413.5 174.3h0M468.5 151.2h0M470.7 169.9h0M483.4 113.8h0M410.1 150.9h0M488.6 420.6h0M499.7 157.7h0M480.5 356.2h0M456.3 114.2h0M493.1 154.0h0M410.6 354.1h0M505.5 474.0h0M521.9 430.9h0M526.6 452.5h0M501.2 184.5h0M436.7 113.4h0M405.1 156.3h0M464.7 284.8h0M571.2 454.5h0M499.3 298.5h0M457.6 153.8h0M494.3 279.6h0M492.2 410.0h0M434.2 159.8h0M448.9 79.1h0M426.6 104.2h0M508.0 266.0h0M429.5 92.9h0M498.4 148.2h0M494.5 88.2h0M457.6 150.5h0M391.2 121.2h0M401.6 126.9h0M524.4 478.0h0M459.0 80.5h0M433.1 80.2h0M519.1 364.3h0M450.1 124.4h0M481.9 188.3h0M514.0 422.6h0M491.4 294.0h0M456.5 97.9h0M387.9 190.9h0M505.9 208.9h0M499.7 448.7h0M495.4 337.8h0M505.7 264.4h0M483.0 208.8h0M435.8 345.3h0M431.5 140.6h0M497.7 431.5h0M487.5 115.5h0M442.8 101.8h0M457.2 137.3h0M620.4 371.7h0M443.3 427.1h0M479.9 69.7h0M458.6 150.4h0M493.8 106.0h0M491.5 431.5h0M555.9 267.2h0M497.7 198.1h0M486.2 277.4h0M417.2 278.8h0M391.9 66.8h0M471.0 129.3h0M461.0 177.6h0M484.4 376.5h0M418.0 68.5h0M500.9 149.7h0M475.6 309.9h0M472.9 146.3h0M461.7 62.1h0M491.8 347.5h0M366.6 209.4h0M487.9 295.8h0M510.0 391.6h0M452.7 186.5h0M470.1 289.2h0M484.7 276.2h0M481.5 96.1h0M519.7 393.5h0M500.0 340.9h0M453.1 117.1h0M499.7 209.8h0M478.5 444.1h0M393.8 97.8h0M477.2 312.3h0M487.1 462.2h0M493.9 225.6h0M447.2 339.9h0M466.0 190.2h0M501.9 200.3h0M569.0 489.7h0M461.5 122.0h0M443.5 62.1h0M405.6 140.8h0M379.5 63.3h0M558.1 474.7h0M407.9 184.1h0M418.7 63.1h0M552.1 512.3h0M511.7 283.4h0M498.8 145.6h0M404.0 199.2h0M481.6 266.9h0M483.2 413.0h0M423.6 295.7h0M606.6 405.4h0M484.0 239.7h0M336.0 186.8h0M641.3 60.9h0M465.1 246.4h0M519.5 380.3h0M502.2 163.1h0M510.8 303.7h0M409.2 62.9h0M519.4 326.5h0M481.1 363.3h0M509.7 330.3h0M501.0 198.9h0M421.1 63.0h0M515.7 313.5h0M408.4 366.6h0M440.0 108.7h0M410.4 164.7h0M509.6 335.9h0M485.5 337.8h0M456.4 167.5h0M484.4 256.4h0M505.4 346.6h0M463.0 117.9h0M517.6 373.8h0M512.6 462.7h0M402.9 88.6h0M483.0 237.5h0M485.5 143.3h0M493.9 165.1h0M459.7 92.0h0M478.1 124.7h0M415.7 114.4h0M476.1 344.9h0M460.7 64.7h0M502.2 439.3h0M437.4 96.3h0M504.8 214.7h0M484.0 272.0h0M451.6 213.8h0M501.2 225.5h0M433.3 66.0h0M425.2 62.6h0M463.4 186.2h0M491.5 289.3h0M453.7 211.1h0M435.9 122.9h0M356.7 108.1h0M488.4 274.2h0M481.4 255.2h0M508.5 288.3h0M468.7 290.8h0M377.7 69.4h0M485.7 106.3h0M561.9 403.0h0M558.5 373.3h0M435.6 110.6h0M433.9 98.2h0M480.5 92.0h0M489.9 227.9h0M450.8 102.6h0M386.9 114.7h0M476.6 123.1h0M463.0 295.8h0M446.7 86.0h0M595.6 427.9h0M495.4 107.0h0M442.4 76.6h0M410.4 62.5h0M490.0 172.5h0M480.7 90.6h0M500.1 301.1h0M513.0 307.5h0M620.0 399.4h0M501.8 475.4h0M462.5 189.6h0M478.2 91.7h0M494.0 365.0h0M521.0 357.8h0M692.2 345.8h0M488.3 216.5h0M419.9 80.7h0M463.8 62.8h0M476.2 156.7h0M475.8 379.0h0M455.0 304.0h0M451.7 177.2h0M490.7 331.0h0M497.4 232.4h0M370.2 127.7h0M459.1 128.7h0M509.5 398.8h0M519.7 440.5h0M631.5 187.2h0M365.0 111.8h0M449.6 383.2h0M492.7 331.3h0M479.6 247.3h0M443.8 104.1h0M500.3 330.8h0M529.3 493.9h0M464.1 84.6h0M499.9 421.6h0M434.8 276.3h0M387.1 135.8h0M264.7 391.5h0M627.9 358.9h0M432.5 104.8h0M524.5 448.8h0M595.2 311.7h0M474.5 159.8h0M471.5 112.8h0M494.8 191.5h0M493.2 91.2h0M521.1 439.6h0M493.4 395.6h0M501.5 413.4h0M543.2 482.3h0M516.3 353.7h0M404.5 70.3h0M395.3 113.5h0M525.7 471.5h0M502.7 264.0h0M498.2 176.4h0M414.7 134.4h0M488.3 364.0h0M479.5 352.1h0M507.2 282.7h0M426.4 270.6h0M500.3 187.9h0M468.8 62.5h0M443.7 142.6h0M414.7 228.7h0M483.2 108.4h0M492.9 295.1h0M484.5 201.5h0M509.4 464.7h0M634.3 180.6h0M478.0 63.8h0M503.6 387.3h0M388.4 65.0h0M490.6 218.9h0M368.0 257.5h0M475.3 139.0h0M457.1 170.9h0M453.6 125.7h0M493.7 413.4h0M556.9 350.1h0M503.9 391.7h0M447.0 121.9h0M478.4 224.5h0M497.2 233.0h0M442.9 315.1h0M689.3 184.0h0M573.1 448.7h0M478.4 71.0h0M486.5 319.5h0M616.5 237.9h0M493.2 148.1h0M431.6 297.4h0M387.9 62.7h0M408.3 62.1h0M504.4 377.2h0M485.7 391.1h0M469.1 72.1h0M442.2 239.2h0M437.3 118.3h0M503.5 199.7h0M432.1 155.5h0" stroke="#a5a5aa" stroke-opacity="0.2" stroke-width="10" stroke-linecap="round" fill="none"/>
<path d="M127.50 32.00L127.50 521.10" stroke="#000" stroke-width="4.7" fill="none"/>
<path d="M106.80 518.70L856.00 518.70" stroke="#000" stroke-width="4.7" fill="none"/>
<text x="104.40" y="529.50" font-size="30.6" text-anchor="end">0</text>
<path d="M107.00 380.40L127.50 380.40" stroke="#000" stroke-width="4.7" fill="none"/>
<text x="104.40" y="391.20" font-size="30.6" text-anchor="end">1</text>
<path d="M107.00 242.10L127.50 242.10" stroke="#000" stroke-width="4.7" fill="none"/>
<text x="104.40" y="252.90" font-size="30.6" text-anchor="end">2</text>
<path d="M107.00 103.80L127.50 103.80" stroke="#000" stroke-width="4.7" fill="none"/>
<text x="104.40" y="114.60" font-size="30.6" text-anchor="end">3</text>
<path d="M242.90 518.70L242.90 539.00" stroke="#000" stroke-width="4.7" fill="none"/>
<text x="242.90" y="565.90" font-size="30.6" text-anchor="middle">-2</text>
<path d="M388.30 518.70L388.30 539.00" stroke="#000" stroke-width="4.7" fill="none"/>
<text x="388.30" y="565.90" font-size="30.6" text-anchor="middle">-1</text>
<path d="M533.70 518.70L533.70 539.00" stroke="#000" stroke-width="4.7" fill="none"/>
<text x="533.70" y="565.90" font-size="30.6" text-anchor="middle">0</text>
<path d="M679.10 518.70L679.10 539.00" stroke="#000" stroke-width="4.7" fill="none"/>
<text x="679.10" y="565.90" font-size="30.6" text-anchor="middle">1</text>
<path d="M824.50 518.70L824.50 539.00" stroke="#000" stroke-width="4.7" fill="none"/>
<text x="824.50" y="565.90" font-size="30.6" text-anchor="middle">2</text>
<text x="129.90" y="599.10" font-size="30.6" text-anchor="start">Newly synthesized proteome Ctu1 iKO / Ctrl (log<tspan font-size="19" dy="10">2</tspan><tspan dy="-10">FC)</tspan></text>
<text x="68.60" y="276.50" font-size="30.6" text-anchor="middle" transform="rotate(-90 68.60 276.50)">adj. p-value (-log<tspan font-size="19" dy="10">10</tspan><tspan dy="-10">)</tspan></text>
<path d="M1516.1 438.1h0M1463.0 445.1h0M1453.4 305.8h0M1429.5 89.2h0M1430.1 444.5h0M1473.9 188.1h0M1443.8 137.7h0M1457.4 310.9h0M1474.7 301.7h0M1459.3 211.3h0M1452.8 220.4h0M1318.6 231.1h0M1423.2 72.5h0M1444.7 316.9h0M1481.5 346.5h0M1392.1 66.6h0M1445.4 346.7h0M1459.6 98.1h0M1402.5 194.8h0M1322.4 110.6h0M1463.2 287.2h0M1456.2 296.9h0M1466.2 410.3h0M1394.4 188.1h0M1383.2 67.5h0M1365.8 74.5h0M1472.2 298.5h0M1440.6 325.0h0M1443.5 223.0h0M1489.6 439.0h0M1387.9 237.0h0M1481.3 300.7h0M1306.9 233.9h0M1440.5 259.0h0M1474.1 180.0h0M1382.5 181.5h0M1445.1 308.6h0M1447.0 100.0h0M1544.9 310.9h0M1469.0 164.3h0M1396.1 97.0h0M1447.2 97.7h0M1486.7 439.7h0M1442.1 148.1h0M1461.1 199.9h0M1431.1 76.6h0M1533.0 233.0h0M1341.3 121.6h0M1470.1 472.6h0M1403.7 338.0h0M1391.8 133.6h0M1463.0 156.3h0M1428.1 398.8h0M1448.6 361.0h0M1374.1 73.5h0M1452.3 108.9h0M1429.2 432.2h0M1460.0 290.4h0M1412.0 320.3h0M1347.8 344.8h0M1455.4 185.2h0M1383.1 129.2h0M1375.3 67.0h0M1476.8 471.2h0M1478.1 409.6h0M1482.1 486.1h0M1461.4 310.7h0M1458.2 143.0h0M1468.2 312.0h0M1457.3 284.0h0M1365.2 220.2h0M1453.6 208.6h0M1446.2 123.6h0M1760.4 175.0h0M1368.1 129.3h0M1522.8 334.1h0M1457.3 363.6h0M1460.1 165.5h0M1360.9 135.1h0M1403.3 75.7h0M1468.6 282.9h0M1377.6 111.6h0M1444.1 434.2h0M1362.4 164.9h0M1384.4 323.6h0M1270.9 154.0h0M1512.2 501.0h0M1377.6 409.2h0M1485.1 369.5h0M1517.2 511.9h0M1455.1 338.8h0M1472.3 246.0h0M1451.2 146.8h0M1423.1 125.3h0M1458.1 116.9h0M1416.1 143.1h0M1455.7 170.8h0M1440.3 67.4h0M1474.1 479.8h0M1527.4 470.1h0M1414.0 197.5h0M1469.1 409.9h0M1474.6 326.0h0M1453.2 329.4h0M1419.7 156.4h0M1399.2 155.0h0M1267.7 89.0h0M1432.2 117.0h0M1441.2 166.5h0M1457.9 364.3h0M1431.1 273.2h0M1457.2 113.6h0M1465.6 328.9h0M1464.6 371.0h0M1409.9 122.2h0M1434.3 221.6h0M1459.4 177.4h0M1399.6 244.8h0M1449.2 312.9h0M1473.4 343.4h0M1475.3 423.5h0M1359.9 76.0h0M1483.2 427.8h0M1428.4 130.9h0M1386.0 81.0h0M1286.7 127.2h0M1475.5 326.4h0M1290.6 89.2h0M1446.5 199.3h0M1464.6 338.4h0M1536.2 451.9h0M1432.5 124.3h0M1441.5 232.7h0M1396.9 82.2h0M1531.4 386.8h0M1483.1 490.7h0M1420.0 212.1h0M1490.1 436.2h0M1519.1 461.4h0M1585.0 390.6h0M1321.3 190.5h0M1447.8 394.5h0M1460.8 204.0h0M1426.1 123.8h0M1564.9 274.1h0M1467.9 400.6h0M1497.5 452.6h0M1559.3 168.7h0M1437.2 203.9h0M1373.1 74.8h0M1473.0 216.1h0M1661.2 107.5h0M1413.3 145.8h0M1548.1 227.1h0M1462.5 407.9h0M1466.7 261.0h0M1491.5 486.8h0M1590.2 359.1h0M1396.0 109.0h0M1484.8 393.3h0M1416.7 128.7h0M1389.2 334.9h0M1545.5 457.6h0M1467.1 177.9h0M1458.0 396.0h0M1573.1 361.5h0M1665.6 243.8h0M1474.9 364.6h0M1484.8 498.9h0M1489.4 373.2h0M1463.3 373.1h0M1328.7 69.3h0M1473.4 209.9h0M1565.8 329.9h0M1434.2 294.8h0M1369.7 230.4h0M1442.8 120.9h0M1452.8 208.0h0M1419.7 162.5h0M1310.8 161.9h0M1470.2 155.6h0M1452.7 343.7h0M1450.8 354.6h0M1462.0 114.6h0M1441.6 129.5h0M1528.0 362.2h0M1356.5 125.5h0M1252.3 244.5h0M1390.2 79.8h0M1393.0 77.4h0M1396.0 114.2h0M1461.4 329.1h0M1431.3 306.6h0M1460.0 210.3h0M1511.7 490.6h0M1482.8 475.3h0M1491.4 430.5h0M1425.7 214.0h0M1451.9 311.3h0M1475.0 322.3h0M1445.1 307.5h0M1427.8 412.9h0M1330.8 245.0h0M1570.2 220.2h0M1449.5 345.7h0M1372.3 114.2h0M1441.9 458.3h0M1474.9 277.8h0M1540.8 443.6h0M1434.9 123.6h0M1516.9 444.7h0M1450.6 373.4h0M1448.2 134.4h0M1409.0 156.6h0M1498.7 424.0h0M1363.5 72.3h0M1525.3 358.2h0M1413.2 67.6h0M1398.9 218.2h0M1490.6 444.8h0M1378.5 123.9h0M1458.5 67.2h0M1470.2 271.2h0M1332.6 154.4h0M1390.5 330.3h0M1386.3 170.7h0M1535.4 476.7h0M1463.2 415.1h0M1478.4 295.0h0M1425.9 164.1h0M1441.6 92.6h0M1400.4 133.6h0M1583.0 395.9h0M1323.2 127.1h0M1477.4 247.5h0M1377.0 210.3h0M1463.0 238.3h0M1436.3 413.9h0M1584.0 128.9h0M1387.2 203.4h0M1309.1 114.4h0M1447.1 361.2h0M1478.7 443.3h0M1496.7 457.5h0M1408.7 77.1h0M1386.8 320.0h0M1332.8 69.5h0M1483.4 506.8h0M1478.8 374.2h0M1391.1 388.6h0M1449.4 435.9h0M1474.6 267.8h0M1482.0 278.1h0M1299.8 377.3h0M1388.4 113.2h0M1283.9 112.3h0M1444.2 75.9h0M1459.1 127.1h0M1363.3 83.8h0M1354.1 218.7h0M1401.8 189.4h0M1426.0 371.8h0M1332.5 83.2h0M1451.8 436.1h0M1447.5 219.9h0M1594.0 316.9h0M1460.2 419.3h0M1448.8 69.9h0M1453.4 232.4h0M1465.1 199.4h0M1464.4 433.4h0M1445.0 306.9h0M1538.2 271.7h0M1545.1 224.8h0M1472.6 221.7h0M1550.9 172.0h0M1391.1 347.4h0M1333.5 88.0h0M1382.2 66.6h0M1469.6 325.8h0M1427.1 210.1h0M1419.7 161.7h0M1412.5 84.7h0M1589.1 367.1h0M1477.9 236.4h0M1464.0 163.9h0M1369.1 89.8h0M1459.1 301.3h0M1433.2 340.8h0M1415.8 117.2h0M1524.0 397.1h0M1364.9 237.7h0M1413.9 320.3h0M1478.6 242.8h0M1424.9 208.6h0M1334.2 198.9h0M1361.4 162.5h0M1465.6 336.2h0M1443.1 303.1h0M1468.1 404.4h0M1427.3 292.8h0M1269.7 246.7h0M1234.0 67.9h0M1492.2 443.8h0M1524.5 496.7h0M1384.2 68.4h0M1518.7 376.8h0M1485.3 500.3h0M1431.0 82.6h0M1562.9 364.0h0M1443.4 255.6h0M1493.7 424.8h0M1479.9 407.3h0M1468.1 198.0h0M1515.7 437.7h0M1465.2 192.4h0M1596.2 336.6h0M1441.6 340.5h0M1441.2 172.6h0M1406.9 290.6h0M1432.4 281.8h0M1415.0 121.6h0M1503.4 509.8h0M1426.6 100.8h0M1522.6 303.3h0M1190.2 304.2h0M1380.3 246.3h0M1593.2 388.9h0M1480.2 257.8h0" stroke="#a5a5aa" stroke-opacity="0.3" stroke-width="10" stroke-linecap="round" fill="none"/>
<path d="M1343.2 67.6h0M1474.2 470.1h0M1533.1 480.2h0M1447.2 236.3h0M1441.1 176.5h0M1474.8 366.4h0M1486.2 408.9h0M1289.5 71.5h0M1431.6 248.4h0M1551.7 451.2h0M1405.6 243.8h0M1439.3 286.6h0M1462.0 106.3h0M1458.9 375.1h0M1431.2 154.6h0M1355.5 94.8h0M1449.2 157.7h0M1433.6 262.2h0M1401.5 195.2h0M1587.1 113.1h0M1443.7 227.6h0M1372.7 284.8h0M1470.3 224.8h0M1584.6 96.2h0M1412.2 199.8h0M1544.4 156.3h0M1356.2 68.4h0M1465.7 190.7h0M1422.0 89.9h0M1454.0 480.7h0M1509.5 510.7h0M1379.7 288.0h0M1380.0 67.1h0M1438.9 366.4h0M1411.6 386.5h0M1456.8 248.7h0M1408.6 183.8h0M1458.0 271.4h0M1478.4 409.4h0M1442.3 379.4h0M1627.9 267.6h0M1478.7 485.6h0M1435.1 390.5h0M1476.1 177.1h0M1441.2 166.3h0M1394.4 417.9h0M1476.9 316.0h0M1456.9 103.8h0M1459.6 319.6h0M1416.5 230.8h0M1410.0 215.0h0M1534.7 359.9h0M1405.0 152.1h0M1530.4 259.0h0M1334.3 131.9h0M1385.2 226.3h0M1463.6 131.3h0M1476.3 352.9h0M1399.2 104.6h0M1530.9 476.4h0M1459.5 401.2h0M1372.4 151.8h0M1466.0 123.0h0M1383.3 321.2h0M1412.8 279.6h0M1479.2 258.4h0M1406.1 260.6h0M1382.0 347.1h0M1348.0 208.4h0M1460.4 98.8h0M1345.2 67.1h0M1456.4 286.4h0M1460.9 250.1h0M1394.8 196.3h0M1471.5 287.3h0M1479.1 338.2h0M1431.1 276.4h0M1257.9 143.6h0M1418.0 325.4h0M1426.3 87.9h0M1434.6 155.0h0M1378.6 66.4h0M1441.7 79.5h0M1462.3 148.6h0M1455.8 352.6h0M1455.9 240.6h0M1464.7 383.1h0M1477.9 349.3h0M1329.7 92.2h0M1489.4 466.1h0M1357.7 67.2h0M1467.9 345.0h0M1396.9 82.1h0M1427.4 305.3h0M1457.5 102.2h0M1491.3 504.3h0M1380.1 329.1h0M1457.7 412.5h0M1493.8 426.9h0M1428.3 73.1h0M1446.3 139.1h0M1562.0 405.5h0M1360.4 66.8h0M1544.2 238.9h0M1399.5 170.0h0M1437.6 192.7h0M1457.3 417.8h0M1388.5 265.6h0M1552.6 452.2h0M1463.2 370.7h0M1465.3 153.6h0M1401.9 153.0h0M1360.0 227.8h0M1458.1 256.6h0M1321.8 275.3h0M1450.1 268.2h0M1529.9 458.8h0M1471.6 170.2h0M1511.0 491.2h0M1432.6 214.8h0M1542.2 457.3h0M1456.7 98.1h0M1409.0 111.4h0M1450.5 436.9h0M1300.2 131.7h0M1298.0 214.0h0M1464.0 381.5h0M1412.1 122.8h0M1436.3 181.7h0M1471.7 366.9h0M1529.9 450.9h0M1463.4 149.0h0M1435.8 338.7h0M1393.4 89.4h0M1580.1 143.1h0M1608.8 228.5h0M1466.0 353.7h0M1273.0 210.9h0M1419.5 90.6h0M1511.6 455.7h0M1491.9 490.7h0M1472.0 489.6h0M1425.7 194.1h0M1507.7 502.5h0M1271.3 105.9h0M1396.8 100.2h0M1478.9 306.7h0M1441.5 245.6h0M1442.5 105.6h0M1408.6 152.0h0M1479.8 478.0h0M1323.7 177.3h0M1459.0 346.7h0M1411.1 138.7h0M1474.6 367.5h0M1416.3 406.5h0M1380.8 253.9h0M1465.0 327.0h0M1432.1 267.8h0M1365.4 129.8h0M1396.9 252.4h0M1427.3 67.7h0M1529.0 455.1h0M1447.8 253.5h0M1470.2 290.9h0M1250.9 315.5h0M1391.7 384.8h0M1449.6 313.2h0M1546.6 468.7h0M1419.2 366.8h0M1464.9 183.0h0M1431.7 103.3h0M1249.4 176.2h0M1462.7 352.7h0M1397.7 99.1h0M1341.7 284.8h0M1431.5 232.3h0M1521.3 411.2h0M1383.5 243.7h0M1468.6 240.8h0M1460.3 134.1h0M1451.0 355.6h0M1471.8 444.1h0M1430.3 137.2h0M1489.7 459.2h0M1368.0 131.3h0M1459.5 230.8h0M1513.4 486.2h0M1459.6 399.0h0M1466.3 162.1h0M1375.0 114.4h0M1432.1 245.1h0M1461.3 136.8h0M1488.9 482.4h0M1454.4 184.9h0M1456.7 307.4h0M1471.6 479.2h0M1530.9 280.1h0M1462.0 148.5h0M1481.3 258.7h0M1501.9 511.9h0M1655.2 92.1h0M1493.7 496.1h0M1449.8 227.9h0M1420.2 285.1h0M1465.7 206.3h0M1469.3 395.9h0M1428.5 126.6h0M1396.1 262.3h0M1446.4 392.3h0M1451.4 401.9h0M1462.7 423.3h0M1611.5 326.7h0M1479.4 288.8h0M1444.3 179.9h0M1414.3 145.2h0M1412.0 82.8h0M1304.8 109.5h0M1407.4 101.6h0M1428.1 405.2h0M1421.6 148.9h0M1443.2 168.5h0M1464.4 438.2h0M1470.1 243.9h0M1509.3 483.7h0M1308.0 111.0h0M1309.1 209.3h0M1461.6 364.8h0M1536.0 477.0h0M1529.9 488.9h0M1395.8 267.4h0M1603.7 365.2h0M1440.2 88.7h0M1401.3 324.1h0M1589.3 155.9h0M1380.1 67.9h0M1369.5 234.0h0M1392.8 347.4h0M1440.8 253.1h0M1447.8 132.6h0M1557.0 180.7h0M1471.8 168.4h0M1440.5 321.0h0M1455.2 227.5h0M1476.9 465.0h0M1356.4 84.2h0M1540.6 437.3h0M1443.7 307.0h0M1396.6 354.1h0M1470.1 427.4h0M1460.4 174.3h0M1425.4 211.0h0M1380.8 306.2h0M1418.8 176.4h0M1484.2 394.0h0M1561.9 402.3h0M1274.9 79.1h0M1480.6 327.3h0M1464.9 451.3h0M1379.2 125.2h0M1390.9 66.9h0M1696.7 222.7h0M1346.2 119.2h0M1456.8 115.2h0M1483.9 317.5h0M1407.8 161.7h0M1462.3 264.2h0M1485.9 337.0h0M1434.6 217.8h0M1416.7 104.2h0M1314.0 119.5h0M1386.4 104.1h0M1451.3 377.1h0M1392.3 111.8h0M1301.6 175.0h0M1449.6 276.1h0M1345.2 67.7h0M1269.1 121.3h0M1360.1 182.8h0M1374.9 182.0h0M1429.5 150.9h0M1455.7 196.3h0M1401.9 270.4h0M1368.8 231.6h0M1533.5 462.0h0M1450.0 426.8h0M1473.4 427.0h0M1361.9 86.8h0M1279.7 191.0h0M1392.5 106.4h0M1402.2 92.4h0M1437.9 322.0h0M1487.6 488.5h0M1359.5 100.1h0M1476.2 456.5h0M1532.9 336.0h0M1440.2 67.0h0M1472.2 346.5h0M1381.0 107.6h0M1476.3 291.4h0M1468.4 204.4h0M1349.8 69.0h0M1466.1 234.6h0M1470.4 213.1h0M1592.2 350.8h0M1470.7 424.4h0M1561.5 113.1h0M1457.8 366.4h0M1455.1 255.3h0M1231.5 110.5h0M1455.1 106.4h0M1449.7 397.8h0M1487.2 456.0h0M1589.2 318.5h0M1462.8 104.8h0M1447.5 275.9h0M1522.3 395.7h0M1480.8 444.2h0M1423.2 100.1h0M1511.7 482.6h0M1440.5 123.9h0M1400.3 131.9h0M1460.9 402.2h0M1478.2 360.5h0M1484.6 350.3h0M1488.6 487.0h0M1430.7 236.0h0M1422.1 97.6h0M1402.5 155.5h0" stroke="#a5a5aa" stroke-opacity="0.3" stroke-width="10" stroke-linecap="round" fill="none"/>
<path d="M1422.2 86.5h0M1464.1 400.8h0M1410.6 164.8h0M1261.6 71.5h0M1467.4 309.8h0M1354.0 66.8h0M1452.2 365.2h0M1348.2 80.6h0M1482.1 476.4h0M1402.1 71.3h0M1430.8 403.5h0M1482.4 480.8h0M1469.2 347.9h0M1313.8 97.6h0M1461.9 325.1h0M1463.8 215.0h0M1543.7 460.7h0M1378.7 153.9h0M1326.7 71.2h0M1473.4 175.8h0M1431.9 114.3h0M1344.0 197.4h0M1434.7 177.9h0M1367.2 66.5h0M1473.4 467.9h0M1532.4 460.2h0M1419.2 121.9h0M1436.8 269.6h0M1474.9 484.0h0M1376.4 225.7h0M1408.2 126.7h0M1333.3 75.9h0M1441.4 221.0h0M1302.5 311.5h0M1448.4 213.5h0M1424.7 236.0h0M1452.7 236.9h0M1284.1 129.4h0M1398.8 207.9h0M1453.7 418.9h0M1417.2 66.6h0M1479.3 287.1h0M1614.8 271.1h0M1430.8 139.4h0M1458.5 317.7h0M1471.8 305.3h0M1384.9 309.2h0M1311.8 86.5h0M1448.1 409.3h0M1420.7 249.1h0M1445.6 283.2h0M1482.2 491.1h0M1434.4 171.4h0M1374.2 123.8h0M1416.1 184.6h0M1453.2 278.4h0M1449.3 219.8h0M1457.7 369.8h0M1439.5 261.3h0M1435.3 257.1h0M1516.2 416.2h0M1420.2 159.0h0M1519.1 364.7h0M1438.9 154.7h0M1384.1 321.7h0M1490.3 460.2h0M1446.6 391.1h0M1473.4 355.9h0M1396.7 200.3h0M1416.1 232.0h0M1323.3 164.4h0M1427.6 273.4h0M1601.4 136.9h0M1406.7 151.0h0M1329.0 168.1h0M1488.1 462.1h0M1464.9 381.5h0M1486.1 373.2h0M1447.8 346.2h0M1465.4 133.2h0M1432.2 229.1h0M1315.3 67.8h0M1354.2 67.8h0M1424.2 235.4h0M1533.7 441.7h0M1490.3 394.9h0M1436.1 359.3h0M1470.2 483.0h0M1312.4 177.0h0M1465.6 256.6h0M1429.6 123.4h0M1450.5 66.5h0M1459.3 340.6h0M1447.9 181.0h0M1342.8 214.1h0M1424.2 71.1h0M1422.3 162.2h0M1468.0 168.1h0M1437.7 307.0h0M1529.7 460.9h0M1433.7 219.9h0M1456.4 116.0h0M1320.9 183.1h0M1403.3 177.3h0M1414.0 66.7h0M1396.3 122.2h0M1425.4 368.6h0M1372.3 128.8h0M1370.9 267.9h0M1360.7 244.6h0M1476.9 307.7h0M1453.4 411.0h0M1469.9 249.5h0M1458.4 264.4h0M1443.3 158.9h0M1412.8 321.3h0M1595.1 189.8h0M1468.6 473.2h0M1481.9 405.9h0M1400.0 97.1h0M1447.7 362.6h0M1450.6 249.3h0M1429.6 312.3h0M1383.9 75.3h0M1470.1 279.3h0M1444.5 370.2h0M1472.6 379.9h0M1378.1 66.7h0M1469.5 475.2h0M1437.0 190.3h0M1511.2 450.8h0M1405.9 332.3h0M1443.1 205.4h0M1467.1 343.1h0M1519.8 475.2h0M1413.6 149.6h0M1384.2 80.8h0M1430.0 404.0h0M1461.8 146.0h0M1450.6 156.6h0M1467.2 111.1h0M1450.0 217.0h0M1515.6 472.0h0M1479.0 350.1h0M1371.8 124.7h0M1453.5 333.4h0M1444.4 382.7h0M1458.9 369.7h0M1552.8 360.4h0M1244.0 151.6h0M1350.2 139.2h0M1455.0 317.4h0M1464.0 187.5h0M1439.7 194.6h0M1599.8 293.7h0M1440.8 155.7h0M1384.4 243.2h0M1451.9 322.5h0M1458.4 302.7h0M1420.3 137.9h0M1453.0 354.7h0M1445.0 72.9h0M1460.4 213.8h0M1439.8 456.0h0M1484.4 425.5h0M1486.6 311.5h0M1478.1 298.5h0M1439.0 249.6h0M1459.9 242.5h0M1411.4 145.0h0M1458.5 119.0h0M1425.7 150.8h0M1368.0 262.8h0M1432.7 148.6h0M1520.9 423.8h0M1477.9 493.7h0M1474.6 246.8h0M1398.8 179.6h0M1473.3 181.3h0M1422.6 175.9h0M1464.4 115.8h0M1457.0 254.0h0M1491.2 486.5h0M1646.4 68.2h0M1529.7 477.2h0M1477.3 339.7h0M1412.8 161.3h0M1423.6 185.6h0M1479.2 480.6h0M1451.7 128.5h0M1473.8 231.8h0M1399.0 156.9h0M1420.7 295.5h0M1449.5 180.5h0M1423.9 209.0h0M1347.5 215.7h0M1354.4 121.5h0M1473.5 182.7h0M1463.0 169.5h0M1453.1 435.9h0M1522.5 442.0h0M1455.6 100.8h0M1246.9 221.7h0M1431.8 359.4h0M1478.9 298.9h0M1428.6 240.6h0M1451.2 108.6h0M1407.3 146.4h0M1300.2 145.5h0M1401.7 208.7h0M1460.7 350.9h0M1460.2 363.3h0M1448.6 168.1h0M1397.3 204.3h0M1482.0 329.2h0M1475.5 183.9h0M1456.2 194.3h0M1472.4 345.1h0M1401.2 199.6h0M1463.3 225.2h0M1481.3 494.5h0M1512.8 460.4h0M1422.6 244.5h0M1477.0 325.7h0M1409.5 307.6h0M1490.4 415.9h0M1464.6 144.6h0M1325.6 87.4h0M1391.4 124.1h0M1521.0 476.4h0M1487.8 488.4h0M1591.9 66.5h0M1437.2 166.6h0M1468.7 314.7h0M1448.1 76.6h0M1477.9 292.4h0M1525.6 431.0h0M1416.5 66.6h0M1457.5 277.8h0M1594.9 83.3h0M1452.2 98.0h0M1497.1 488.3h0M1464.0 434.0h0M1454.3 312.7h0M1417.9 383.8h0M1437.3 107.7h0M1317.0 216.0h0M1477.5 319.8h0M1600.2 277.7h0M1437.0 260.8h0M1373.5 79.4h0M1474.5 399.4h0M1486.6 332.1h0M1338.0 66.4h0M1414.4 417.9h0M1370.1 67.3h0M1439.9 165.9h0M1497.4 503.9h0M1551.0 178.6h0M1483.1 341.5h0M1452.8 191.2h0M1422.8 66.7h0M1402.8 182.5h0M1458.4 190.2h0M1521.0 505.4h0M1536.5 461.6h0M1484.0 305.3h0M1526.0 367.8h0M1446.4 185.4h0M1366.0 106.1h0M1402.8 116.7h0M1486.7 371.2h0M1444.8 118.4h0M1441.5 225.4h0M1359.2 239.9h0M1391.6 373.1h0M1352.0 160.0h0M1474.4 254.3h0M1407.9 66.8h0M1327.7 151.6h0M1526.3 452.3h0M1433.3 164.7h0M1459.2 100.4h0M1457.5 112.8h0M1513.2 502.5h0M1474.7 477.8h0M1265.7 85.1h0M1441.6 297.4h0M1265.2 259.0h0M1454.6 241.7h0M1341.2 196.5h0M1419.7 108.4h0M1424.7 307.6h0M1483.7 456.7h0M1412.3 421.0h0M1373.7 68.1h0M1464.2 392.8h0M1454.2 288.3h0M1463.7 411.7h0M1418.8 125.3h0M1410.6 160.7h0M1369.1 101.7h0M1465.6 179.8h0M1458.4 286.4h0M1380.2 161.8h0M1470.5 380.9h0M1430.7 81.4h0M1424.9 66.4h0M1316.8 101.1h0M1542.2 361.4h0M1378.4 90.2h0M1434.5 221.9h0M1430.5 130.1h0M1427.8 199.7h0M1468.7 452.7h0M1424.4 119.0h0M1401.4 216.7h0M1441.6 238.6h0M1355.9 89.0h0M1444.3 162.1h0M1425.1 332.2h0M1452.5 105.6h0M1421.1 267.0h0M1461.7 414.1h0M1464.8 250.5h0M1474.7 366.4h0M1475.8 375.0h0M1458.1 200.7h0M1430.2 67.7h0" stroke="#a5a5aa" stroke-opacity="0.3" stroke-width="10" stroke-linecap="round" fill="none"/>
<path d="M1439.9 267.6h0M1553.0 376.9h0M1484.4 488.3h0M1295.9 130.2h0M1455.4 355.6h0M1313.6 177.3h0M1387.1 67.2h0M1405.0 345.5h0M1366.8 81.7h0M1443.4 256.7h0M1468.4 283.3h0M1416.2 67.4h0M1447.7 181.7h0M1452.4 66.5h0M1469.3 241.4h0M1441.3 194.4h0M1397.9 232.3h0M1465.1 304.7h0M1443.2 81.0h0M1428.1 281.7h0M1432.0 129.7h0M1349.1 214.1h0M1446.5 236.6h0M1464.5 401.5h0M1485.0 360.5h0M1431.8 114.6h0M1450.4 187.8h0M1397.7 283.0h0M1448.6 291.6h0M1389.1 88.4h0M1428.4 112.4h0M1442.5 222.8h0M1559.9 443.3h0M1375.9 137.8h0M1443.3 471.9h0M1482.3 459.7h0M1569.3 95.1h0M1442.5 383.2h0M1284.5 126.7h0M1384.4 337.8h0M1553.5 430.6h0M1416.0 239.0h0M1465.0 419.5h0M1328.3 180.7h0M1470.6 174.5h0M1447.5 116.7h0M1474.5 215.0h0M1434.7 103.8h0M1520.5 475.7h0M1381.8 222.1h0M1481.2 409.9h0M1478.7 300.2h0M1446.6 71.1h0M1358.3 213.3h0M1474.8 293.3h0M1347.7 80.8h0M1546.4 456.4h0M1439.0 83.6h0M1382.9 188.6h0M1464.9 358.9h0M1328.1 139.5h0M1442.4 130.6h0M1395.7 113.9h0M1479.9 302.6h0M1687.8 107.5h0M1433.9 245.3h0M1451.4 429.8h0M1459.4 371.6h0M1478.6 352.5h0M1411.2 362.9h0M1333.9 113.9h0M1468.7 374.6h0M1517.4 470.8h0M1443.6 272.8h0M1450.6 355.8h0M1368.5 251.0h0M1479.0 474.7h0M1431.9 416.5h0M1529.3 281.4h0M1558.5 399.3h0M1403.5 194.9h0M1490.4 441.1h0M1558.4 150.8h0M1479.7 339.2h0M1445.1 230.8h0M1449.4 362.2h0M1481.5 267.8h0M1511.8 448.1h0M1321.3 260.6h0M1522.0 412.8h0M1471.9 264.6h0M1328.6 122.6h0M1520.2 369.6h0M1478.5 418.4h0M1545.2 219.5h0M1447.6 298.4h0M1482.6 331.4h0M1349.2 93.1h0M1292.0 114.1h0M1445.7 260.8h0M1390.5 327.8h0M1510.2 477.4h0M1469.5 239.3h0M1452.5 237.9h0M1431.7 164.5h0M1531.6 235.5h0M1455.2 178.4h0M1347.3 219.1h0M1453.6 139.8h0M1334.4 180.6h0M1460.3 423.3h0M1563.8 92.1h0M1368.4 206.1h0M1414.6 79.1h0M1389.0 74.4h0M1461.5 349.4h0M1469.4 150.4h0M1396.4 148.8h0M1525.7 492.9h0M1353.6 330.6h0M1433.7 326.2h0M1372.5 296.8h0M1461.8 91.3h0M1473.7 173.0h0M1407.9 67.6h0M1382.5 114.3h0M1337.6 109.3h0M1366.8 229.0h0M1524.1 501.3h0M1443.5 171.0h0M1468.6 260.3h0M1458.5 122.3h0M1304.1 326.1h0M1392.0 184.9h0M1465.2 280.9h0M1456.3 233.2h0M1480.3 485.4h0M1383.6 92.0h0M1525.2 310.2h0M1455.9 220.9h0M1400.5 333.7h0M1435.5 245.5h0M1440.9 122.2h0M1488.9 498.1h0M1535.9 436.9h0M1533.1 487.9h0M1391.1 85.4h0M1493.2 417.0h0M1542.4 227.3h0M1444.9 137.3h0M1375.9 175.8h0M1468.1 185.5h0M1478.8 250.8h0M1425.4 239.7h0M1456.1 175.5h0M1532.0 333.7h0M1414.8 436.3h0M1411.1 115.2h0M1435.3 226.6h0M1554.1 336.3h0M1523.5 360.2h0M1430.3 242.7h0M1468.3 342.1h0M1459.3 151.7h0M1405.8 149.1h0M1357.4 66.7h0M1403.9 213.8h0M1364.8 185.4h0M1559.3 315.6h0M1365.5 71.5h0M1471.9 348.9h0M1450.5 93.9h0M1533.2 392.9h0M1568.6 273.8h0M1501.1 511.1h0M1436.3 380.7h0M1476.4 209.6h0M1576.1 414.7h0M1437.5 296.4h0M1426.0 207.2h0M1346.0 311.5h0M1622.4 234.6h0M1499.0 511.6h0M1335.8 174.8h0M1478.1 236.9h0M1344.4 200.2h0M1379.7 353.1h0M1586.8 389.5h0M1206.5 177.8h0M1448.0 362.0h0M1489.4 423.9h0M1445.9 258.7h0M1457.9 218.3h0M1338.1 108.6h0M1470.7 252.6h0M1448.3 195.2h0M1352.5 184.8h0M1406.2 307.5h0M1395.6 334.5h0M1416.5 133.4h0M1449.7 262.8h0M1407.0 213.4h0M1457.6 124.2h0M1435.6 344.4h0M1528.9 457.7h0M1365.7 114.0h0M1428.8 218.9h0M1468.6 294.6h0M1441.6 159.8h0M1418.8 343.4h0M1489.0 413.5h0M1367.4 77.5h0M1355.8 124.9h0M1275.8 201.2h0M1348.1 282.2h0M1397.1 90.8h0M1327.5 231.5h0M1489.1 446.5h0M1540.8 442.9h0M1418.9 410.8h0M1441.8 68.1h0M1455.0 367.8h0M1415.1 174.2h0M1446.1 67.3h0M1339.4 87.0h0M1456.0 215.3h0M1431.4 384.2h0M1368.5 139.8h0M1383.6 107.2h0M1468.0 393.7h0M1455.8 241.9h0M1449.2 327.9h0M1450.0 107.5h0M1432.9 161.2h0M1480.2 336.2h0M1440.6 207.3h0M1429.1 96.9h0M1434.0 385.7h0M1472.5 220.4h0M1491.1 498.7h0M1423.1 167.9h0M1444.2 411.0h0M1486.7 466.9h0M1466.3 293.9h0M1444.4 263.1h0M1435.9 260.2h0M1460.7 235.9h0M1408.3 82.7h0M1409.1 137.9h0M1462.4 310.2h0M1434.8 254.1h0M1469.1 412.5h0M1440.9 155.6h0M1488.3 398.6h0M1454.1 321.9h0M1569.1 123.8h0M1377.9 218.8h0M1459.3 230.2h0M1361.8 209.2h0M1458.9 290.9h0M1345.4 238.1h0M1418.4 250.7h0M1417.3 85.7h0M1386.6 147.2h0M1325.3 106.7h0M1452.6 313.2h0M1399.5 244.9h0M1530.4 436.8h0M1553.0 231.3h0M1412.7 160.1h0M1429.3 162.6h0M1331.2 126.1h0M1458.5 71.8h0M1304.3 86.6h0M1346.3 102.7h0M1438.2 244.8h0M1457.7 209.3h0M1482.2 435.4h0M1388.3 126.4h0M1451.9 302.4h0M1476.6 479.8h0M1360.1 166.6h0M1441.1 240.8h0M1395.8 134.8h0M1403.3 92.3h0M1556.2 341.7h0M1458.5 326.5h0M1483.1 372.8h0M1516.2 458.3h0M1451.9 267.3h0M1403.6 99.2h0M1384.1 79.1h0M1465.6 326.1h0M1485.9 444.6h0M1459.1 185.0h0M1383.6 138.5h0M1447.4 334.3h0M1433.9 257.7h0M1467.6 305.4h0M1430.0 304.1h0M1478.8 342.0h0M1451.8 214.8h0M1344.1 115.0h0M1471.6 284.3h0M1602.0 322.9h0M1471.1 326.3h0M1547.5 411.6h0M1565.6 245.2h0M1425.0 134.5h0M1365.6 267.3h0M1458.1 125.0h0M1431.7 169.1h0M1428.9 213.7h0M1490.9 439.3h0M1445.3 126.5h0M1485.1 469.0h0M1462.1 273.3h0M1476.5 305.2h0M1607.7 211.3h0M1404.0 174.0h0M1451.4 106.8h0M1447.8 389.5h0M1427.8 119.9h0M1452.1 116.1h0M1434.0 161.4h0M1476.1 405.6h0M1375.3 72.2h0M1451.3 249.2h0M1322.9 303.7h0" stroke="#a5a5aa" stroke-opacity="0.3" stroke-width="10" stroke-linecap="round" fill="none"/>
<path d="M1446.1 242.6h0M1413.5 150.5h0M1440.8 66.6h0M1439.1 195.3h0M1515.9 504.1h0M1435.8 463.2h0M1378.7 245.2h0M1464.0 411.6h0M1519.5 363.2h0M1430.3 271.9h0M1427.7 155.9h0M1419.7 329.1h0M1546.9 155.4h0M1470.7 179.7h0M1388.5 338.3h0M1462.2 176.8h0M1401.2 230.5h0M1356.3 293.8h0M1450.4 347.5h0M1477.2 466.1h0M1391.3 70.5h0M1398.5 66.6h0M1370.4 170.4h0M1388.2 119.5h0M1314.5 100.0h0M1395.8 277.6h0M1434.4 145.1h0M1457.5 135.8h0M1526.5 455.6h0M1456.5 442.3h0M1480.4 255.1h0M1502.1 510.3h0M1547.1 285.4h0M1476.5 358.0h0M1449.0 187.6h0M1473.1 180.0h0M1422.8 420.7h0M1428.4 229.9h0M1361.3 230.9h0M1459.7 77.0h0M1421.2 189.1h0M1448.0 334.3h0M1459.7 115.0h0M1489.5 385.4h0M1462.2 397.9h0M1489.4 418.3h0M1461.8 275.7h0M1464.3 300.2h0M1490.3 498.1h0M1378.1 91.4h0M1512.0 457.9h0M1453.7 364.7h0M1448.2 401.4h0M1485.4 328.4h0M1422.5 189.7h0M1536.9 387.2h0M1373.3 66.6h0M1364.8 100.4h0M1526.2 491.5h0M1463.3 116.1h0M1469.8 253.4h0M1533.1 489.0h0M1454.3 282.3h0M1475.6 210.6h0M1389.5 331.0h0M1348.6 115.6h0M1479.7 420.9h0M1372.7 197.1h0M1456.4 126.3h0M1444.2 112.6h0M1477.4 223.6h0M1490.7 390.8h0M1469.5 439.4h0M1377.9 70.2h0M1433.3 172.7h0M1372.8 261.0h0M1423.1 76.0h0M1560.5 365.6h0M1441.1 310.7h0M1498.1 453.2h0M1422.7 366.8h0M1441.2 283.0h0M1457.2 330.2h0M1452.6 292.1h0M1515.7 499.5h0M1445.6 347.5h0M1445.0 356.7h0M1492.8 410.8h0M1413.9 152.4h0M1316.0 109.9h0M1487.4 485.3h0M1453.0 215.6h0M1497.0 511.5h0M1450.1 404.2h0M1384.7 66.5h0M1516.5 499.4h0M1460.0 237.8h0M1466.0 240.6h0M1376.7 239.7h0M1323.7 229.5h0M1441.7 89.1h0M1554.6 444.4h0M1517.0 445.2h0M1454.8 119.5h0M1376.9 86.0h0M1484.9 387.0h0M1402.6 88.4h0M1450.6 422.1h0M1458.5 231.1h0M1430.3 109.4h0M1450.0 96.2h0M1534.2 477.0h0M1407.8 323.8h0M1351.8 71.9h0M1442.8 65.9h0M1603.0 281.4h0M1423.5 142.0h0M1469.1 342.7h0M1404.7 339.2h0M1474.7 377.0h0M1477.8 444.7h0M1394.2 76.5h0M1447.2 300.1h0M1478.5 288.2h0M1479.4 286.1h0M1393.9 207.4h0M1387.4 90.7h0M1340.5 66.3h0M1481.9 331.7h0M1466.2 438.7h0M1398.5 126.7h0M1400.8 266.0h0M1450.5 332.0h0M1276.9 159.2h0M1391.8 397.1h0M1258.1 193.5h0M1460.5 336.6h0M1368.5 132.6h0M1418.5 347.6h0M1466.6 330.9h0M1436.8 404.0h0M1355.9 218.6h0M1458.3 244.8h0M1471.1 409.1h0M1516.5 409.6h0M1441.7 144.9h0M1552.3 448.7h0M1385.5 90.5h0M1373.6 127.1h0M1496.4 486.7h0M1438.6 349.6h0M1421.6 293.7h0M1475.8 401.0h0M1415.7 79.0h0M1440.8 305.0h0M1376.7 88.0h0M1424.0 135.5h0M1514.1 438.0h0M1432.9 433.8h0M1299.1 181.4h0M1522.7 431.6h0M1479.2 282.4h0M1466.0 166.2h0M1472.0 282.6h0M1437.4 75.5h0M1328.7 155.9h0M1430.3 66.9h0M1436.8 323.3h0M1448.7 74.8h0M1425.7 298.2h0M1446.6 285.7h0M1433.2 162.9h0M1425.2 188.6h0M1401.2 327.7h0M1396.8 288.7h0M1417.7 291.3h0M1423.7 94.2h0M1429.8 82.9h0M1436.3 253.2h0M1488.5 416.0h0M1297.1 208.3h0M1468.3 399.7h0M1430.8 238.6h0M1387.8 171.9h0M1417.8 122.3h0M1556.6 314.4h0M1450.2 327.9h0M1386.9 169.2h0M1488.6 463.5h0M1493.8 484.8h0M1402.5 294.9h0M1464.9 221.6h0M1368.2 126.7h0M1473.2 309.0h0M1432.0 258.9h0M1544.3 329.9h0M1528.0 385.1h0M1579.6 265.9h0M1378.2 84.1h0M1486.8 477.4h0M1455.3 124.9h0M1436.0 70.7h0M1537.5 235.1h0M1429.7 92.4h0M1252.5 163.9h0M1529.3 434.8h0M1440.3 372.9h0M1406.8 85.8h0M1465.6 276.7h0M1485.5 363.0h0M1420.3 66.5h0M1452.5 360.0h0M1316.0 115.0h0M1465.6 226.8h0M1429.5 115.4h0M1278.7 140.5h0M1442.7 208.8h0M1404.5 114.5h0M1461.7 84.9h0M1459.6 177.0h0M1457.1 240.0h0M1441.5 207.8h0M1420.4 153.7h0M1342.4 163.9h0M1451.9 199.8h0M1423.3 421.3h0M1469.1 256.6h0M1527.0 380.9h0M1449.0 270.2h0M1520.8 471.6h0M1405.7 252.5h0M1430.7 115.6h0M1439.6 283.9h0M1329.4 127.1h0M1289.5 278.6h0M1414.6 389.3h0M1286.8 146.5h0M1373.3 66.7h0M1480.7 360.0h0M1432.0 251.5h0M1257.8 121.0h0M1447.8 257.3h0M1471.3 175.3h0M1422.1 184.1h0M1429.1 150.1h0M1492.3 438.7h0M1525.4 474.4h0M1533.1 442.5h0M1342.7 67.3h0M1388.0 68.1h0M1502.1 502.7h0M1438.5 145.3h0M1455.3 179.1h0M1444.1 202.3h0M1327.4 101.5h0M1474.8 264.3h0M1443.6 85.4h0M1435.7 344.5h0M1460.6 111.8h0M1465.8 233.6h0M1558.1 251.6h0M1423.2 69.9h0M1461.4 307.5h0M1426.0 281.5h0M1366.9 75.1h0M1477.9 243.7h0M1522.9 443.4h0M1464.9 412.3h0M1480.7 270.0h0M1477.1 476.3h0M1397.6 83.8h0M1461.4 367.2h0M1464.2 301.4h0M1437.4 183.4h0M1293.7 117.6h0M1474.4 177.0h0M1437.4 218.3h0M1352.7 91.9h0M1286.4 179.5h0M1376.5 313.5h0M1443.4 102.6h0M1405.9 138.9h0M1593.2 319.3h0M1599.5 309.7h0M1446.9 164.7h0M1485.3 426.2h0M1474.1 287.7h0M1327.0 126.1h0M1426.5 135.0h0M1470.5 213.0h0M1488.8 403.1h0M1374.7 147.8h0M1541.6 401.1h0M1320.5 71.5h0M1600.1 225.6h0M1416.7 173.8h0M1453.7 160.6h0M1363.7 69.6h0M1404.4 114.9h0M1386.5 66.5h0M1320.5 245.0h0M1470.5 285.0h0M1426.7 120.2h0M1360.0 246.4h0M1504.4 503.2h0M1480.7 432.8h0M1360.5 111.3h0M1378.6 93.9h0M1475.3 279.6h0M1392.1 126.0h0M1489.4 415.4h0M1560.0 441.9h0M1522.3 434.5h0M1461.7 408.0h0M1300.9 311.8h0M1442.9 271.9h0M1412.7 267.6h0M1338.5 131.2h0M1435.9 168.7h0M1317.9 74.7h0M1272.7 206.8h0M1431.6 85.5h0M1466.8 134.6h0M1398.1 67.0h0M1548.1 403.3h0M1436.5 374.5h0M1408.5 285.7h0M1480.3 277.1h0M1413.8 135.8h0" stroke="#a5a5aa" stroke-opacity="0.3" stroke-width="10" stroke-linecap="round" fill="none"/>
<path d="M1456.7 332.3h0M1485.7 297.0h0M1459.5 213.6h0M1553.7 430.6h0M1427.5 200.2h0M1430.1 110.6h0M1346.7 181.8h0M1339.2 184.7h0M1440.9 291.8h0M1436.1 453.7h0M1465.5 305.5h0M1448.0 227.6h0M1449.8 346.7h0M1381.1 213.6h0M1456.7 162.1h0M1369.5 224.1h0M1612.8 240.2h0M1347.7 126.8h0M1333.2 192.6h0M1397.3 334.4h0M1375.7 139.1h0M1469.0 125.1h0M1470.8 364.0h0M1600.9 220.0h0M1445.5 82.1h0M1462.8 473.5h0M1395.5 71.3h0M1507.7 507.8h0M1472.2 217.9h0M1565.4 416.0h0M1456.5 179.4h0M1418.1 315.5h0M1386.0 68.0h0M1387.4 301.6h0M1456.4 381.6h0M1466.6 398.7h0M1465.7 160.9h0M1433.8 199.6h0M1408.9 368.0h0M1540.0 294.5h0M1459.9 325.7h0M1439.4 147.6h0M1438.0 67.0h0M1424.6 206.7h0M1463.9 125.3h0M1431.1 146.3h0M1467.5 198.3h0M1368.1 72.8h0M1475.9 254.2h0M1571.8 359.3h0M1319.5 163.2h0M1405.1 134.6h0M1306.0 92.4h0M1377.2 177.0h0M1510.5 445.9h0M1437.3 273.5h0M1326.3 157.5h0M1476.6 377.6h0M1422.0 108.5h0M1297.0 160.9h0M1425.6 174.7h0M1390.4 112.0h0M1455.5 165.8h0M1458.1 77.8h0M1489.0 421.1h0M1334.8 92.1h0M1427.5 169.8h0M1550.8 395.0h0M1361.6 67.1h0M1457.3 260.3h0M1478.5 471.3h0M1461.1 333.8h0M1471.7 361.0h0M1425.4 111.2h0M1481.9 282.0h0M1490.8 412.1h0M1459.0 202.7h0M1479.1 490.8h0M1478.2 371.5h0M1411.5 362.5h0M1433.1 138.7h0M1461.4 427.0h0M1468.6 232.2h0M1470.9 196.2h0M1588.5 185.0h0M1458.0 206.0h0M1421.4 141.6h0M1442.1 66.0h0M1433.5 408.1h0M1434.5 133.8h0M1448.1 192.6h0M1467.8 383.5h0M1411.5 140.3h0M1436.5 75.3h0M1401.8 398.0h0M1478.8 284.5h0M1438.2 144.9h0M1509.6 484.2h0M1402.8 110.6h0M1430.8 126.6h0M1473.7 397.4h0M1410.1 313.6h0M1487.5 462.0h0M1454.9 356.3h0M1433.7 253.2h0M1418.4 71.0h0M1396.2 66.2h0M1469.2 453.4h0M1441.8 307.6h0M1377.2 67.6h0M1549.5 141.6h0M1455.4 131.8h0M1394.6 156.9h0M1295.9 327.4h0M1425.9 321.6h0M1534.2 197.8h0M1377.7 88.2h0M1404.9 231.2h0M1454.4 355.5h0M1444.9 156.7h0M1458.3 127.7h0M1476.8 327.6h0M1521.1 483.8h0M1362.1 175.0h0M1460.6 183.8h0M1600.9 124.3h0M1444.7 237.8h0M1533.9 104.4h0M1288.1 86.3h0M1452.3 410.0h0M1458.9 308.5h0M1508.3 489.3h0M1438.9 311.7h0M1451.9 245.4h0M1437.5 405.3h0M1382.9 137.0h0M1442.8 196.4h0M1395.7 74.2h0M1477.7 442.0h0M1448.5 375.5h0M1469.8 218.0h0M1477.3 358.2h0M1463.5 189.6h0M1488.4 428.7h0M1488.7 469.2h0M1438.8 102.0h0M1533.2 464.7h0M1437.9 146.5h0M1442.9 467.8h0M1451.4 181.7h0M1469.5 451.8h0M1396.3 234.9h0M1524.7 386.9h0M1188.7 198.9h0M1463.7 387.5h0M1390.7 101.4h0M1494.8 492.0h0M1419.1 395.2h0M1467.0 433.8h0M1464.1 118.1h0M1459.8 153.8h0M1460.5 257.2h0M1421.2 160.7h0M1390.7 284.9h0M1467.6 461.8h0M1377.7 87.6h0M1476.8 274.7h0M1481.7 433.0h0M1341.7 142.1h0M1530.0 407.5h0M1440.1 254.1h0M1453.6 110.9h0M1343.5 130.1h0M1439.3 295.0h0M1420.4 238.4h0M1435.4 190.0h0M1394.7 250.5h0M1490.5 421.4h0M1568.5 378.2h0M1477.6 220.2h0M1486.7 494.9h0M1533.8 436.9h0M1462.3 320.1h0M1542.8 428.2h0M1526.3 427.7h0M1299.8 85.2h0M1367.9 163.1h0M1378.1 146.1h0M1466.9 460.0h0M1453.7 161.1h0M1563.9 385.0h0M1479.5 340.6h0M1447.4 118.8h0M1398.2 239.6h0M1463.3 401.1h0M1432.2 186.0h0M1455.7 306.5h0M1425.3 94.1h0M1483.8 395.2h0M1403.5 85.9h0M1377.9 187.0h0M1490.8 504.1h0M1548.6 171.9h0M1465.5 100.7h0M1516.8 391.4h0M1417.7 218.0h0M1451.8 386.1h0M1441.9 204.8h0M1380.7 251.3h0M1470.3 373.6h0M1587.3 379.5h0M1427.0 156.4h0M1438.1 139.8h0M1396.1 134.4h0M1455.7 134.3h0M1436.7 296.8h0M1330.8 163.3h0M1461.2 147.2h0M1475.4 198.5h0M1483.7 340.9h0M1399.8 283.5h0M1434.0 198.3h0M1445.8 370.0h0M1388.4 100.4h0M1341.6 191.4h0M1459.2 235.1h0M1415.7 483.2h0M1464.0 170.0h0M1460.1 274.7h0M1459.8 208.5h0M1464.3 228.8h0M1537.6 471.5h0M1394.1 112.1h0M1421.6 409.0h0M1467.4 197.1h0M1284.0 80.3h0M1460.6 322.8h0M1472.4 471.0h0M1475.9 301.5h0M1409.6 102.5h0M1418.6 130.2h0M1604.4 115.9h0M1391.9 67.7h0M1460.1 216.7h0M1535.5 448.2h0M1501.2 508.3h0M1428.9 383.8h0M1322.9 83.3h0M1376.8 67.6h0M1430.0 256.4h0M1430.6 225.4h0M1398.3 91.4h0M1538.5 144.4h0M1474.2 198.3h0M1326.1 80.8h0M1462.7 378.3h0M1496.0 433.5h0M1433.4 331.9h0M1412.1 284.5h0M1489.4 495.6h0M1589.5 315.6h0M1405.0 279.9h0M1458.6 381.4h0M1460.9 439.2h0M1409.6 67.1h0M1559.8 407.3h0M1295.6 359.5h0M1448.4 279.0h0M1358.2 98.2h0M1475.8 216.0h0M1388.2 302.7h0M1457.5 73.5h0M1354.7 144.4h0M1458.5 301.4h0M1491.2 472.8h0M1488.9 485.5h0M1394.6 88.0h0M1470.2 409.3h0M1477.1 373.8h0M1437.3 324.5h0M1353.3 147.7h0M1328.4 192.9h0M1490.1 411.5h0M1384.9 360.0h0M1418.3 74.0h0M1381.2 199.0h0M1555.5 244.2h0M1480.4 280.3h0M1365.8 127.6h0M1453.4 343.4h0M1333.6 133.7h0M1346.4 140.2h0M1655.2 253.7h0M1431.6 212.4h0M1470.1 132.0h0M1401.8 177.0h0M1276.1 88.3h0M1457.4 121.9h0M1432.6 201.1h0M1427.9 117.9h0M1361.5 205.4h0M1406.7 80.2h0M1441.4 265.8h0M1421.8 112.1h0M1460.6 315.4h0M1390.9 170.0h0M1212.4 142.7h0M1395.6 278.7h0M1556.1 278.6h0M1504.3 506.1h0M1370.0 93.0h0M1426.1 322.3h0M1389.8 269.2h0M1453.9 225.7h0M1338.2 88.7h0M1465.9 159.6h0M1561.1 192.0h0M1487.4 461.5h0M1516.4 454.8h0M1355.0 168.3h0M1457.7 434.7h0M1411.5 82.1h0M1443.4 322.6h0M1405.6 66.5h0M1338.3 85.2h0M1445.3 98.2h0M1441.2 306.8h0M1482.2 404.0h0M1469.1 381.8h0" stroke="#a5a5aa" stroke-opacity="0.3" stroke-width="10" stroke-linecap="round" fill="none"/>
<path d="M1522.0 504.3h0M1351.7 385.6h0M1458.6 413.6h0M1486.5 406.8h0M1392.9 99.7h0M1397.4 95.2h0M1437.4 292.1h0M1390.3 301.9h0M1420.2 153.1h0M1426.1 66.6h0M1462.7 457.2h0M1316.8 106.9h0M1450.2 318.6h0M1442.5 146.4h0M1439.8 128.0h0M1455.3 423.4h0M1436.6 67.2h0M1404.2 256.3h0M1435.9 285.2h0M1452.9 399.1h0M1450.1 87.8h0M1354.3 143.9h0M1397.9 180.3h0M1434.8 377.3h0M1471.2 309.0h0M1413.1 107.8h0M1486.4 462.9h0M1399.6 84.2h0M1430.3 267.2h0M1494.4 429.3h0M1262.8 71.0h0M1457.9 98.5h0M1459.6 160.3h0M1423.4 212.8h0M1449.2 353.8h0M1450.6 376.4h0M1474.7 325.7h0M1452.2 436.4h0M1352.7 94.5h0M1532.4 433.9h0M1435.2 88.3h0M1465.9 109.8h0M1603.9 360.2h0M1492.8 465.2h0M1517.6 424.9h0M1417.3 134.2h0M1547.0 455.8h0M1435.5 171.8h0M1365.3 288.2h0M1462.1 302.8h0M1467.2 206.7h0M1427.7 170.9h0M1434.4 87.9h0M1450.1 311.8h0M1455.5 362.8h0M1471.8 172.9h0M1483.0 321.0h0M1440.5 166.0h0M1290.8 277.4h0M1353.5 91.6h0M1429.2 114.5h0M1571.9 273.6h0M1418.7 206.5h0M1423.7 159.8h0M1559.4 134.2h0M1413.2 172.8h0M1566.1 189.9h0M1458.6 417.9h0M1433.7 90.9h0M1399.2 222.4h0M1460.4 233.9h0M1487.0 379.0h0M1450.7 479.2h0M1472.0 334.9h0M1331.4 127.0h0M1447.2 218.1h0M1425.3 202.0h0M1464.0 378.0h0M1474.3 466.8h0M1436.2 298.5h0M1427.4 158.6h0M1459.7 315.9h0M1321.8 113.3h0M1426.5 198.9h0M1473.5 358.8h0M1343.5 66.7h0M1436.4 243.9h0M1457.5 267.2h0M1475.5 239.9h0M1393.8 311.8h0M1460.1 156.4h0M1349.4 84.4h0M1315.5 187.5h0M1491.5 479.0h0M1436.5 160.1h0M1375.4 101.5h0M1472.0 215.8h0M1551.7 248.9h0M1460.6 287.4h0M1407.7 114.2h0M1541.2 282.6h0M1470.7 197.6h0M1184.3 83.7h0M1477.3 323.0h0M1395.6 97.1h0M1450.0 449.2h0M1447.7 276.9h0M1537.8 439.0h0M1473.1 196.1h0M1431.2 74.9h0M1389.3 179.3h0M1448.3 267.6h0M1353.9 203.8h0M1402.8 246.0h0M1406.8 230.2h0M1404.2 142.6h0M1408.9 66.9h0M1483.1 306.1h0M1470.8 286.5h0M1428.0 374.2h0M1495.5 457.4h0M1401.6 223.8h0M1371.1 255.2h0M1448.6 309.0h0M1515.4 447.7h0M1382.4 308.9h0M1471.7 321.1h0M1469.0 312.5h0M1428.2 195.9h0M1334.3 115.7h0M1453.1 66.7h0M1290.0 93.4h0M1468.9 172.8h0M1533.8 413.2h0M1540.1 74.3h0M1440.1 306.7h0M1463.0 280.3h0M1443.6 173.1h0M1285.8 266.0h0M1583.5 357.3h0M1473.4 216.0h0M1391.4 242.7h0M1354.7 103.5h0M1464.9 166.5h0M1453.8 67.0h0M1429.6 213.5h0M1330.5 154.7h0M1461.2 436.7h0M1552.7 109.5h0M1561.7 290.5h0M1361.6 241.2h0M1370.6 264.6h0M1401.5 148.9h0M1443.3 115.4h0M1462.6 394.8h0M1455.0 453.5h0M1450.1 132.0h0M1412.9 341.4h0M1279.5 158.4h0M1519.5 505.6h0M1428.1 94.6h0M1424.1 289.3h0M1392.1 66.4h0M1456.4 189.1h0M1435.9 123.3h0M1464.5 474.5h0M1496.8 480.3h0M1445.1 162.3h0M1462.1 117.2h0M1388.2 162.8h0M1482.0 494.6h0M1330.8 126.5h0M1328.6 223.9h0M1416.0 111.4h0M1434.5 118.1h0M1535.9 457.4h0M1434.2 66.6h0M1460.1 339.7h0M1470.1 300.4h0M1458.1 90.3h0M1455.4 314.8h0M1494.9 449.3h0M1251.4 130.6h0M1527.7 469.3h0M1429.4 199.8h0M1416.2 392.1h0M1432.9 294.8h0M1470.7 328.4h0M1450.6 262.7h0M1450.1 378.9h0M1455.7 106.1h0M1347.7 232.4h0M1440.7 349.8h0M1419.8 77.2h0M1423.0 66.5h0M1460.1 273.7h0M1581.3 359.5h0M1427.6 338.2h0M1555.2 440.0h0M1265.7 198.9h0M1401.7 187.1h0M1447.1 197.6h0M1488.9 462.5h0M1458.7 271.6h0M1510.2 469.0h0M1497.9 502.0h0M1499.3 472.8h0M1438.5 192.5h0M1412.5 322.8h0M1464.4 137.2h0M1460.6 106.0h0M1370.8 270.3h0M1461.6 230.4h0M1472.9 277.1h0M1454.1 298.9h0M1479.2 408.9h0M1436.2 118.4h0M1539.9 358.0h0M1434.2 296.2h0M1479.1 348.7h0M1315.8 69.1h0M1456.8 73.2h0M1489.7 477.1h0M1457.3 441.5h0M1426.9 69.9h0M1498.9 500.8h0M1427.7 370.5h0M1446.2 410.6h0M1444.5 232.0h0M1462.4 277.6h0M1481.8 343.4h0M1442.4 85.7h0M1433.5 148.9h0M1365.1 184.3h0M1480.0 295.2h0M1451.7 421.2h0M1430.6 152.7h0M1385.6 304.0h0M1429.8 413.4h0M1471.8 299.3h0M1447.8 68.3h0M1581.7 377.8h0M1512.6 461.5h0M1459.9 333.5h0M1378.1 143.4h0M1532.6 464.7h0M1373.1 151.7h0M1517.5 456.7h0M1383.0 246.0h0M1480.8 432.1h0M1479.0 254.7h0M1351.8 194.8h0M1478.3 483.5h0M1459.5 404.1h0M1368.1 68.9h0M1531.4 482.6h0M1474.3 381.7h0M1468.2 318.3h0M1460.1 343.4h0M1516.7 476.1h0M1428.5 66.3h0M1447.0 225.6h0M1433.5 222.5h0M1443.6 118.1h0M1495.9 482.6h0M1336.9 66.6h0M1345.0 66.3h0M1556.0 315.2h0M1393.7 356.8h0M1468.3 233.5h0M1473.0 438.5h0M1407.5 155.5h0M1442.1 101.9h0M1535.6 481.9h0M1472.8 214.3h0M1372.6 120.5h0M1463.0 301.0h0M1430.8 329.6h0M1455.0 235.2h0M1447.1 206.6h0M1459.7 435.6h0M1336.2 111.0h0M1245.3 114.3h0M1412.9 157.6h0M1389.8 96.5h0M1478.9 256.4h0M1465.0 397.0h0M1596.4 337.2h0M1290.9 99.6h0M1465.5 402.1h0M1438.1 225.3h0M1455.5 120.4h0M1460.1 306.9h0M1506.2 507.9h0M1476.4 336.0h0M1447.6 350.7h0M1469.9 429.7h0M1519.5 482.8h0M1422.3 434.5h0M1474.3 208.4h0M1469.2 171.1h0M1456.8 366.1h0M1412.3 111.8h0M1438.7 134.7h0M1446.3 71.0h0M1370.2 127.3h0M1340.8 121.2h0M1378.0 207.5h0M1399.5 144.6h0M1594.8 230.8h0M1447.3 213.4h0M1521.1 367.4h0M1482.9 453.7h0M1440.7 197.3h0M1279.4 214.9h0M1483.2 338.0h0M1416.5 304.5h0M1433.0 226.1h0M1487.1 377.0h0M1352.4 76.1h0M1360.6 96.5h0M1492.0 485.0h0M1479.2 372.9h0M1486.2 359.6h0M1473.9 425.4h0M1264.9 163.8h0M1338.3 67.0h0M1401.2 145.0h0M1393.6 362.6h0" stroke="#a5a5aa" stroke-opacity="0.3" stroke-width="10" stroke-linecap="round" fill="none"/>
<path d="M1355.8 77.9h0M1443.3 145.9h0M1318.0 118.6h0M1432.2 158.8h0M1408.2 106.9h0M1479.5 249.9h0M1461.4 375.3h0M1399.4 139.7h0M1469.7 172.3h0M1454.4 93.7h0M1455.2 159.4h0M1480.8 435.6h0M1479.8 368.8h0M1312.2 270.5h0M1457.5 375.6h0M1473.4 358.7h0M1534.9 363.5h0M1470.7 289.3h0M1411.6 133.3h0M1455.4 154.6h0M1540.1 445.5h0M1467.2 236.0h0M1463.1 297.0h0M1498.6 512.2h0M1285.0 176.6h0M1410.7 416.0h0M1359.8 66.7h0M1491.1 499.7h0M1335.7 290.3h0M1482.9 421.5h0M1449.3 293.4h0M1454.3 317.5h0M1437.5 67.1h0M1404.0 362.3h0M1390.6 195.0h0M1431.6 325.9h0M1338.7 226.0h0M1470.5 306.5h0M1529.1 263.2h0M1445.0 289.4h0M1334.6 163.6h0M1475.0 336.9h0M1469.5 207.8h0M1517.7 490.9h0M1431.8 435.2h0M1430.3 212.5h0M1582.4 399.5h0M1465.0 423.2h0M1407.4 163.4h0M1426.1 230.0h0M1339.3 252.8h0M1497.8 476.7h0M1239.1 169.4h0M1475.2 291.0h0M1456.9 389.6h0M1448.4 341.5h0M1478.1 288.4h0M1472.3 355.0h0M1416.0 413.0h0M1357.5 91.9h0M1484.3 489.3h0M1384.5 266.1h0M1445.2 210.3h0M1450.2 153.0h0M1473.3 188.3h0M1517.4 397.7h0M1470.8 161.7h0M1324.3 145.4h0M1442.7 272.5h0M1461.3 454.9h0M1444.0 84.0h0M1360.1 302.3h0M1574.9 315.3h0M1460.7 126.3h0M1417.4 451.3h0M1485.6 276.9h0M1482.6 491.0h0M1318.5 82.9h0M1421.1 142.3h0M1349.5 181.5h0M1460.4 144.9h0M1398.3 81.6h0M1456.7 232.5h0M1432.2 221.6h0M1498.5 509.4h0M1427.8 83.4h0M1437.0 229.4h0M1397.6 390.9h0M1500.1 508.3h0M1373.0 274.9h0M1464.2 137.9h0M1464.7 113.9h0M1314.4 137.3h0M1397.7 316.7h0M1387.2 373.1h0M1382.0 206.2h0M1464.9 188.7h0M1531.6 396.2h0M1453.4 430.9h0M1454.9 377.9h0M1425.1 219.9h0M1480.9 252.4h0M1520.9 500.8h0M1449.6 350.3h0M1422.2 128.7h0M1445.1 337.2h0M1331.9 83.6h0M1277.9 224.6h0M1446.3 114.8h0M1485.3 479.1h0M1450.0 150.5h0M1363.9 83.3h0M1453.9 291.0h0M1402.7 107.0h0M1467.6 141.2h0M1434.0 338.9h0M1453.1 241.3h0M1438.3 228.2h0M1437.5 218.3h0M1449.3 112.5h0M1548.0 219.1h0M1473.9 478.5h0M1422.4 409.2h0M1467.9 409.8h0M1445.3 139.5h0M1223.6 90.9h0M1483.6 426.3h0M1437.8 182.8h0M1453.0 115.3h0M1416.5 232.9h0M1492.2 466.6h0M1475.2 471.0h0M1472.4 199.2h0M1454.2 144.6h0M1532.0 362.1h0M1574.0 347.5h0M1438.5 112.6h0M1461.9 339.2h0M1518.4 430.0h0M1450.0 176.5h0M1469.8 373.5h0M1430.7 324.2h0M1520.4 474.7h0M1441.5 302.6h0M1356.1 124.3h0M1585.5 403.0h0M1570.4 359.9h0M1424.7 440.0h0M1457.3 162.8h0M1464.2 384.1h0M1447.0 274.2h0M1355.7 218.6h0M1473.6 224.7h0M1454.6 104.7h0M1445.1 213.5h0M1483.6 387.8h0M1387.2 291.8h0M1335.0 174.5h0M1418.8 164.0h0M1474.8 468.1h0M1466.9 167.4h0M1411.4 187.9h0M1425.1 227.2h0M1453.3 65.2h0M1483.1 449.9h0M1600.2 259.5h0M1359.4 242.3h0M1446.0 339.7h0M1428.9 66.7h0M1437.7 168.3h0M1406.2 213.3h0M1656.7 113.2h0M1479.0 333.3h0M1349.3 232.6h0M1477.5 195.5h0M1434.0 234.0h0M1461.7 158.5h0M1468.3 193.5h0M1366.2 92.7h0M1507.1 491.8h0M1473.3 444.5h0M1460.7 339.8h0M1416.6 81.2h0M1414.5 404.8h0M1478.9 295.4h0M1439.3 65.5h0M1402.1 337.0h0M1395.7 103.9h0M1469.5 476.5h0M1489.6 452.0h0M1282.6 296.0h0M1446.4 139.5h0M1370.6 165.7h0M1465.8 239.4h0M1254.4 217.6h0M1455.2 173.5h0M1348.0 140.7h0M1443.9 72.5h0M1434.0 137.5h0M1421.2 344.0h0M1425.9 90.5h0M1450.4 140.8h0M1523.1 406.7h0M1424.1 160.9h0M1421.0 79.5h0M1296.7 270.1h0M1444.0 180.6h0M1447.0 371.0h0M1385.8 70.3h0M1273.2 360.2h0M1366.3 164.1h0M1337.6 105.3h0M1441.3 240.1h0M1420.8 92.9h0M1476.1 466.3h0M1399.5 238.3h0M1461.1 196.6h0M1347.8 285.5h0M1485.9 489.1h0M1457.0 283.8h0M1413.9 185.7h0M1457.3 301.5h0M1429.8 382.2h0M1459.9 115.4h0M1478.7 281.6h0M1487.9 450.6h0M1513.9 507.8h0M1456.8 256.7h0M1457.1 325.7h0M1413.8 137.4h0M1452.8 249.8h0M1356.8 278.0h0M1536.6 354.7h0M1450.6 282.8h0M1442.2 330.8h0M1529.5 470.6h0M1351.7 143.4h0M1466.8 321.9h0M1542.9 259.8h0M1474.7 195.3h0M1475.1 367.0h0M1536.5 414.1h0M1533.3 103.0h0M1581.5 346.9h0M1483.4 431.1h0M1456.5 450.1h0M1280.6 363.2h0M1460.7 314.5h0M1520.0 464.1h0M1434.0 199.9h0M1468.1 284.4h0M1369.5 270.6h0M1453.2 395.9h0M1443.6 303.6h0M1374.9 78.1h0M1501.9 508.7h0M1412.1 236.4h0M1444.2 382.0h0M1457.9 144.9h0M1450.1 67.2h0M1408.9 168.1h0M1453.9 104.5h0M1574.4 155.4h0M1451.0 370.6h0M1447.7 77.1h0M1445.6 66.7h0M1354.4 128.5h0M1526.4 382.3h0M1363.7 242.5h0M1436.9 191.6h0M1324.8 85.0h0M1466.2 209.6h0M1475.5 482.0h0M1453.4 132.2h0M1471.0 257.5h0M1378.4 72.7h0M1460.3 422.4h0M1435.1 92.0h0M1473.4 301.9h0M1466.0 245.4h0M1458.0 139.2h0M1348.5 114.3h0M1492.9 421.3h0M1181.3 71.0h0M1606.4 184.7h0M1588.8 382.4h0M1488.0 428.9h0M1425.9 149.9h0M1449.5 159.5h0M1410.8 176.9h0M1462.3 203.0h0M1351.3 67.9h0M1413.1 187.1h0M1477.7 239.5h0M1307.8 73.9h0M1477.3 358.6h0M1471.3 433.2h0M1447.6 282.9h0M1454.8 72.7h0M1341.7 66.1h0M1414.6 298.0h0M1452.5 92.4h0M1336.2 161.6h0M1483.7 422.2h0M1437.3 68.7h0M1529.4 352.3h0M1538.8 446.6h0M1472.6 240.8h0M1534.1 162.2h0M1523.2 448.3h0M1378.3 239.4h0M1440.1 148.7h0M1547.1 416.4h0M1331.4 77.3h0M1276.6 297.7h0M1457.9 246.0h0M1487.1 481.2h0M1469.0 178.1h0M1358.3 234.7h0M1329.1 74.4h0M1408.8 290.9h0M1419.2 220.3h0M1411.9 146.5h0M1383.9 229.5h0M1452.0 325.2h0M1426.9 245.5h0M1468.2 280.0h0M1455.7 427.9h0M1323.9 236.4h0" stroke="#a5a5aa" stroke-opacity="0.3" stroke-width="10" stroke-linecap="round" fill="none"/>
<path d="M1458.6 263.7h0M1429.9 108.4h0M1431.7 67.9h0M1458.2 103.9h0M1449.3 349.9h0M1478.1 419.7h0M1354.8 264.4h0M1519.2 365.2h0M1496.5 499.8h0M1459.5 392.9h0M1454.6 215.2h0M1463.6 296.2h0M1464.5 379.6h0M1699.7 349.2h0M1458.8 147.4h0M1335.5 148.8h0M1381.6 294.3h0M1327.6 132.1h0M1384.0 86.2h0M1387.6 86.5h0M1401.4 276.9h0M1452.1 221.2h0M1450.9 193.2h0M1665.6 338.0h0M1403.6 220.8h0M1402.3 140.0h0M1397.6 201.9h0M1463.0 286.0h0M1463.2 239.2h0M1484.7 356.7h0M1459.3 424.2h0M1392.0 116.3h0M1480.7 494.1h0M1313.3 189.7h0M1470.4 205.3h0M1420.7 253.1h0M1487.5 487.1h0M1450.5 199.7h0M1547.7 371.5h0M1474.5 264.3h0M1440.9 223.4h0M1418.9 386.4h0M1643.4 114.6h0M1356.9 243.3h0M1439.2 252.1h0M1481.8 374.4h0M1379.5 297.2h0M1483.7 341.2h0M1550.2 456.5h0M1461.4 352.7h0M1516.6 427.8h0M1403.5 294.4h0M1246.5 122.0h0M1393.3 66.9h0M1407.9 323.6h0M1436.3 67.5h0M1280.0 145.1h0M1474.5 311.8h0M1524.1 492.7h0M1555.1 444.0h0M1400.7 291.8h0M1417.6 274.4h0M1265.7 99.1h0M1434.2 246.7h0M1461.3 105.7h0M1430.0 140.7h0M1402.5 113.4h0M1470.6 369.5h0M1369.3 66.9h0M1452.3 345.7h0M1369.2 182.9h0M1419.3 112.3h0M1338.3 107.1h0M1398.0 340.5h0M1340.3 181.8h0M1416.9 115.7h0M1456.2 320.3h0M1446.7 159.4h0M1471.6 421.5h0M1383.7 80.0h0M1452.9 265.2h0M1428.5 295.9h0M1409.4 133.8h0M1433.4 176.9h0M1306.4 165.5h0M1431.7 265.8h0M1453.3 344.5h0M1385.3 213.7h0M1420.6 68.1h0M1430.0 314.3h0M1462.3 174.4h0M1444.3 306.1h0M1398.1 122.7h0M1524.6 412.5h0M1353.6 197.5h0M1532.1 332.9h0M1353.4 66.5h0M1560.9 325.1h0M1457.3 201.7h0M1436.9 115.5h0M1453.6 255.3h0M1346.4 90.0h0M1448.2 264.3h0M1312.4 162.8h0M1480.8 359.6h0M1480.6 279.1h0M1337.5 122.1h0M1405.7 317.3h0M1471.2 187.0h0M1460.4 146.3h0M1534.1 92.3h0M1455.7 110.7h0M1312.7 73.6h0M1456.5 242.0h0M1456.5 387.4h0M1584.4 384.8h0M1534.0 479.8h0M1454.6 120.7h0M1448.6 91.4h0M1490.5 482.4h0M1383.4 66.8h0M1453.5 184.4h0M1441.4 336.4h0M1441.0 276.0h0M1494.7 468.4h0M1420.5 168.6h0M1378.0 199.9h0M1307.8 67.2h0M1432.2 124.7h0M1480.0 283.6h0M1420.6 98.1h0M1446.4 301.9h0M1465.8 411.1h0M1495.7 485.9h0M1450.2 374.4h0M1572.8 190.9h0M1504.9 507.7h0M1470.0 350.5h0M1453.4 281.4h0M1464.4 405.5h0M1474.0 481.6h0M1349.5 66.8h0M1463.8 95.9h0M1473.1 410.1h0M1509.3 500.2h0M1396.9 139.0h0M1471.5 218.5h0M1479.3 330.8h0M1592.9 270.4h0M1422.6 199.2h0M1426.3 93.6h0M1515.5 500.8h0M1398.8 187.6h0M1519.1 431.1h0M1453.5 206.9h0M1489.3 399.1h0M1454.8 389.1h0M1418.3 101.4h0M1454.2 436.9h0M1353.3 84.7h0M1446.3 376.3h0M1433.1 90.1h0M1553.0 99.9h0M1402.8 96.2h0M1410.1 245.1h0M1455.1 425.3h0M1361.1 66.3h0M1373.2 67.0h0M1442.8 70.3h0M1540.2 192.2h0M1456.2 148.3h0M1428.0 170.4h0M1422.5 73.7h0M1446.1 341.0h0M1359.4 148.3h0M1582.7 108.6h0M1320.0 326.5h0M1331.9 82.9h0M1498.4 497.3h0M1437.5 317.3h0M1443.3 329.9h0M1355.1 209.2h0M1327.3 171.7h0M1392.5 252.2h0M1448.9 230.2h0M1491.5 504.7h0M1402.2 137.2h0M1466.4 196.5h0M1441.7 134.4h0M1481.0 494.8h0M1483.5 305.3h0M1391.7 203.1h0M1440.1 261.1h0M1478.5 280.2h0M1446.6 153.3h0M1485.2 362.6h0M1529.7 463.0h0M1434.5 85.2h0M1465.7 405.3h0M1456.5 406.3h0M1423.3 126.9h0M1453.1 311.0h0M1448.3 476.5h0M1454.5 203.2h0M1473.6 243.8h0M1445.3 204.1h0M1604.8 235.2h0M1432.9 455.7h0M1524.9 339.0h0M1283.9 164.8h0M1544.7 169.9h0M1370.5 436.5h0M1475.2 309.1h0M1361.5 70.1h0M1514.2 448.6h0M1376.9 147.7h0M1463.3 472.8h0M1452.0 284.9h0M1567.4 416.5h0M1330.7 77.5h0M1276.8 183.0h0M1345.5 193.3h0M1472.6 470.7h0M1418.3 86.8h0M1370.4 89.0h0M1546.8 347.3h0M1471.7 206.1h0M1513.8 447.9h0M1490.6 470.6h0M1396.4 210.0h0M1361.9 79.3h0M1439.0 115.5h0M1437.6 233.7h0M1555.9 336.4h0M1469.5 467.1h0M1376.9 215.0h0M1530.7 459.3h0M1405.7 382.4h0M1382.1 145.6h0M1364.2 306.1h0M1337.5 66.7h0M1464.8 295.6h0M1412.5 398.2h0M1408.0 221.1h0M1526.0 500.5h0M1473.6 341.7h0M1449.6 453.0h0M1437.1 92.6h0M1330.6 77.7h0M1404.5 100.3h0M1518.7 501.1h0M1486.8 467.5h0M1468.6 180.6h0M1433.6 105.0h0M1464.7 343.7h0M1387.5 82.2h0M1488.9 476.4h0M1316.1 236.2h0M1480.0 416.7h0M1431.2 320.3h0M1365.3 67.0h0M1450.7 176.9h0M1447.0 387.8h0M1443.1 419.1h0M1453.2 334.4h0M1377.1 310.7h0M1435.4 225.1h0M1488.7 501.8h0M1486.4 457.6h0M1522.2 427.7h0M1451.5 103.0h0M1371.1 84.6h0M1401.1 158.8h0M1454.3 297.6h0M1479.3 449.7h0M1447.8 288.9h0M1423.1 147.0h0M1327.6 93.2h0M1476.6 443.3h0M1367.1 117.4h0M1457.3 109.2h0M1418.6 145.4h0M1450.3 367.8h0M1456.7 398.2h0M1513.2 443.7h0M1434.4 343.0h0M1511.1 503.7h0M1460.6 283.8h0M1322.4 102.2h0M1373.6 66.5h0M1436.9 156.1h0M1473.7 322.9h0M1480.3 255.4h0M1466.7 420.3h0M1327.2 157.9h0M1515.0 433.5h0M1344.2 195.5h0M1578.1 360.8h0M1424.5 181.6h0M1450.3 272.9h0M1452.1 167.5h0M1473.4 207.4h0M1449.2 252.9h0M1446.3 142.9h0M1437.0 192.9h0M1443.6 289.9h0M1435.1 227.8h0M1476.7 247.2h0M1437.5 159.5h0M1452.1 335.7h0M1418.2 105.3h0M1448.9 332.4h0M1466.9 454.1h0M1461.8 454.9h0M1454.8 343.2h0M1331.2 186.7h0M1456.5 105.7h0M1466.2 331.5h0M1468.8 255.5h0M1498.4 508.3h0M1444.8 280.3h0M1457.3 313.4h0M1430.6 67.1h0M1333.3 222.0h0M1337.9 395.6h0M1572.7 150.3h0M1427.8 299.9h0M1475.1 396.6h0M1460.6 335.0h0" stroke="#a5a5aa" stroke-opacity="0.3" stroke-width="10" stroke-linecap="round" fill="none"/>
<path d="M1474.4 250.3h0M1475.9 382.8h0M1417.2 284.3h0M1433.3 380.0h0M1435.4 199.1h0M1546.0 463.3h0M1381.6 351.0h0M1543.9 300.0h0M1462.0 142.7h0M1405.0 67.6h0M1457.7 340.6h0M1472.6 198.1h0M1286.6 243.9h0M1394.4 246.1h0M1458.4 339.6h0M1406.9 108.3h0M1397.0 356.9h0M1453.1 431.2h0M1535.7 248.9h0M1456.2 174.6h0M1459.4 317.0h0M1477.4 238.6h0M1318.6 168.8h0M1460.7 305.1h0M1474.6 394.2h0M1458.1 160.3h0M1420.2 120.0h0M1440.1 363.4h0M1391.6 217.3h0M1449.2 70.8h0M1447.2 301.6h0M1438.5 145.1h0M1246.5 163.7h0M1417.0 275.6h0M1440.5 272.3h0M1393.5 217.0h0M1354.9 80.9h0M1475.3 307.6h0M1357.8 78.9h0M1455.7 243.2h0M1522.5 497.4h0M1353.5 125.1h0M1478.3 319.3h0M1465.8 101.5h0M1449.4 140.0h0M1440.3 242.7h0M1440.5 170.7h0M1463.2 332.9h0M1339.7 175.7h0M1516.1 394.9h0M1479.6 329.9h0M1543.3 458.7h0M1466.3 139.0h0M1538.6 79.7h0M1479.3 285.2h0M1436.6 76.9h0M1471.7 176.9h0M1408.4 114.6h0M1421.2 140.7h0M1482.3 394.4h0M1411.1 170.7h0M1459.9 116.7h0M1428.5 104.5h0M1333.6 67.0h0M1376.2 140.4h0M1487.6 445.0h0M1403.6 125.0h0M1442.5 347.0h0M1464.2 135.0h0M1484.6 422.0h0M1474.0 211.6h0M1400.4 66.6h0M1458.5 310.9h0M1469.5 220.0h0M1455.2 140.3h0M1475.7 277.5h0M1281.7 141.6h0M1369.1 347.8h0M1514.1 476.1h0M1485.8 359.6h0M1377.1 213.0h0M1478.8 476.0h0M1467.0 226.6h0M1464.4 290.6h0M1466.2 118.1h0M1486.0 410.1h0M1352.0 201.1h0M1462.5 461.0h0M1482.3 393.3h0M1428.2 265.9h0M1475.9 401.4h0M1418.2 435.0h0M1451.2 250.4h0M1531.1 378.1h0M1492.3 412.4h0M1467.8 112.9h0M1411.6 115.7h0M1403.9 147.2h0M1446.3 452.5h0M1433.2 171.6h0M1419.8 195.6h0M1457.7 230.4h0M1494.4 478.1h0M1495.5 482.4h0M1426.8 90.0h0M1404.4 66.6h0M1543.2 279.5h0M1467.3 385.2h0M1447.8 272.2h0M1440.0 121.2h0M1448.2 400.2h0M1490.9 438.3h0M1435.8 66.9h0M1477.6 243.8h0M1462.6 355.4h0M1356.3 88.8h0M1397.2 251.8h0M1449.3 265.4h0M1331.1 174.2h0M1412.6 384.9h0M1327.4 145.9h0M1423.8 204.4h0M1450.2 155.3h0M1462.1 255.4h0M1432.6 286.1h0M1487.0 407.1h0M1410.3 237.0h0M1453.8 66.9h0M1486.6 398.3h0M1465.9 118.2h0M1441.5 207.4h0M1462.1 428.8h0M1367.8 227.5h0M1319.9 68.1h0M1453.9 173.8h0M1470.2 425.5h0M1455.8 149.6h0M1472.1 495.9h0M1448.6 165.5h0M1460.1 409.7h0M1506.2 510.9h0M1413.8 253.7h0M1394.7 151.4h0M1436.9 196.0h0M1392.4 79.6h0M1466.9 431.4h0M1443.4 214.0h0M1481.9 420.1h0M1483.5 341.5h0M1588.6 271.2h0M1320.8 158.1h0M1314.4 87.5h0M1361.7 150.4h0M1390.7 66.8h0M1553.0 251.4h0M1449.8 284.4h0M1324.9 136.3h0M1443.9 290.8h0M1422.1 122.6h0M1451.3 251.0h0M1429.5 112.3h0M1500.2 501.6h0M1426.3 77.2h0M1473.0 319.2h0M1482.9 427.6h0M1452.7 379.1h0M1494.2 476.8h0M1457.9 333.4h0M1289.4 75.6h0M1507.9 500.4h0M1535.9 396.6h0M1386.7 72.2h0M1320.6 71.5h0M1460.1 220.6h0M1431.3 193.9h0M1451.6 68.0h0M1437.2 297.1h0M1352.7 75.0h0M1397.8 68.7h0M1541.9 83.9h0M1425.3 217.0h0M1534.7 172.9h0M1469.2 391.3h0M1310.6 190.6h0M1413.1 226.2h0M1324.6 158.0h0M1393.7 225.5h0M1467.9 390.7h0M1455.5 245.7h0M1252.2 158.1h0M1460.4 294.4h0M1579.9 333.8h0M1438.3 217.5h0M1432.5 218.3h0M1410.0 167.6h0M1437.7 375.9h0M1517.6 499.7h0M1433.5 261.4h0M1538.6 431.1h0M1455.9 296.1h0M1501.7 510.0h0M1493.5 423.2h0M1465.8 335.9h0M1442.8 295.4h0M1463.6 437.6h0M1465.8 301.2h0M1372.0 120.9h0M1307.5 104.7h0M1448.5 197.4h0M1367.8 138.2h0M1428.7 165.4h0M1479.5 474.3h0M1475.3 322.9h0M1401.8 94.4h0M1370.4 159.3h0M1431.2 297.2h0M1575.9 365.7h0M1477.8 367.8h0M1511.8 485.6h0M1528.2 443.8h0M1472.8 449.3h0M1466.4 255.5h0M1449.5 72.4h0M1413.7 279.4h0M1487.5 469.3h0M1420.3 273.0h0M1489.3 423.6h0M1439.8 133.2h0M1485.3 463.0h0M1386.6 296.6h0M1463.6 182.7h0M1386.9 96.5h0M1356.8 279.2h0M1387.3 384.8h0M1430.0 183.7h0M1461.3 91.9h0M1470.9 159.9h0M1452.6 240.5h0M1397.2 288.2h0M1565.7 174.0h0M1472.2 188.0h0M1455.9 171.5h0M1554.5 148.5h0M1424.2 215.1h0M1416.2 309.1h0M1425.7 245.3h0M1532.0 238.0h0M1397.5 70.6h0M1396.8 117.2h0M1512.0 501.8h0M1483.9 362.2h0M1556.8 148.9h0M1443.1 290.6h0M1440.3 67.5h0M1527.4 495.8h0M1531.8 472.7h0M1437.2 113.8h0M1451.9 77.4h0M1527.9 414.8h0M1469.9 285.4h0M1476.0 267.8h0M1324.2 134.7h0M1431.7 174.5h0M1429.8 466.2h0M1455.7 363.8h0M1358.3 182.3h0M1381.6 238.7h0M1462.8 315.1h0M1474.1 259.3h0M1424.7 107.0h0M1438.0 266.7h0M1453.0 240.5h0M1571.4 255.7h0M1456.3 126.1h0M1439.5 98.9h0M1446.6 191.7h0M1402.2 181.8h0M1448.1 334.6h0M1476.5 371.5h0M1573.8 273.0h0M1338.0 106.8h0M1404.1 143.2h0M1374.8 222.2h0M1324.5 69.1h0M1556.8 411.9h0M1421.5 319.5h0M1477.9 237.1h0M1389.3 73.2h0M1487.3 475.2h0M1460.5 432.1h0M1412.0 413.8h0M1416.9 121.4h0M1465.5 225.9h0M1444.4 148.9h0M1463.8 279.4h0M1465.7 284.1h0M1468.5 213.7h0M1410.6 124.8h0M1430.0 153.6h0M1476.8 266.7h0M1582.8 305.2h0M1462.9 275.6h0M1482.8 490.4h0M1448.2 175.6h0M1372.1 90.0h0M1329.0 66.6h0M1482.0 364.3h0M1413.4 186.1h0M1346.5 108.9h0M1516.1 497.7h0M1387.5 151.2h0M1475.5 275.1h0M1607.0 272.5h0M1435.6 410.7h0M1484.0 482.2h0M1434.3 228.4h0M1516.2 401.8h0M1491.7 397.1h0M1359.0 387.1h0M1359.4 213.0h0M1513.3 485.9h0M1457.7 196.1h0M1519.5 443.8h0M1408.2 67.7h0M1468.5 146.7h0M1415.9 171.3h0M1396.1 153.6h0M1451.5 422.3h0M1496.8 500.6h0" stroke="#a5a5aa" stroke-opacity="0.3" stroke-width="10" stroke-linecap="round" fill="none"/>
<path d="M1433.6 297.7h0M1434.2 73.8h0M1563.3 358.0h0M1435.5 165.5h0M1478.5 279.1h0M1328.3 68.2h0M1399.5 111.8h0M1427.7 67.4h0M1383.1 249.7h0M1351.7 243.6h0M1427.4 120.8h0M1408.7 402.8h0M1289.0 102.3h0M1500.8 510.9h0M1437.2 253.0h0M1514.4 485.0h0M1465.3 282.8h0M1404.8 242.3h0M1422.6 135.5h0M1392.6 235.2h0M1448.4 268.2h0M1470.6 258.9h0M1529.4 319.7h0M1460.3 150.1h0M1353.9 158.0h0M1407.8 128.0h0M1391.3 158.6h0M1426.3 92.1h0M1451.1 394.0h0M1453.8 375.2h0M1459.6 123.2h0M1483.7 386.5h0M1459.2 393.0h0M1492.0 502.4h0M1413.6 199.7h0M1355.7 249.6h0M1422.7 233.5h0M1432.7 190.2h0M1465.4 419.2h0M1408.2 250.5h0M1438.0 178.2h0M1376.8 160.4h0M1418.5 185.1h0M1391.0 66.8h0M1455.2 159.7h0M1494.8 501.8h0M1438.7 171.0h0M1574.3 311.0h0M1463.1 176.8h0M1476.4 473.8h0M1253.5 101.4h0M1423.0 176.3h0M1486.3 456.6h0M1437.0 251.5h0M1471.6 441.6h0M1357.3 167.4h0M1466.6 285.0h0M1335.0 67.8h0M1550.7 364.5h0M1361.3 132.6h0M1478.9 436.3h0M1472.1 246.0h0M1248.8 247.6h0M1375.2 233.6h0M1368.2 294.7h0M1433.3 143.7h0M1410.2 161.0h0M1459.7 362.4h0M1401.8 237.4h0M1427.6 239.2h0M1354.2 256.2h0M1386.8 103.4h0M1541.9 468.8h0M1412.0 106.3h0M1477.6 314.7h0M1355.4 265.1h0M1253.9 82.2h0M1374.1 84.7h0M1363.0 67.0h0M1466.7 437.2h0M1400.1 405.5h0M1495.3 487.9h0M1350.0 141.6h0M1395.5 76.7h0M1417.6 165.7h0M1347.7 141.9h0M1438.1 358.4h0M1433.7 271.2h0M1471.5 224.6h0M1298.3 90.0h0M1455.9 280.1h0M1480.8 290.9h0M1461.7 226.8h0M1456.5 312.7h0M1446.6 255.7h0M1434.9 188.3h0M1458.7 280.3h0M1475.6 332.5h0M1592.0 394.8h0M1451.4 377.1h0M1246.7 296.9h0M1491.8 485.5h0M1633.0 86.5h0M1544.5 390.9h0M1565.7 188.1h0M1446.9 155.2h0M1417.6 112.1h0M1467.6 409.3h0M1534.2 320.4h0M1570.3 104.3h0M1459.4 214.0h0M1380.0 274.3h0M1321.4 84.3h0M1470.1 151.4h0M1483.5 371.9h0M1388.6 215.8h0M1491.1 402.4h0M1453.1 106.6h0M1455.9 426.7h0M1473.3 246.6h0M1453.4 66.7h0M1470.1 257.3h0M1469.3 122.1h0M1438.4 178.6h0M1498.8 504.2h0M1378.2 295.6h0M1410.8 174.2h0M1432.5 223.0h0M1468.8 186.1h0M1439.0 213.2h0M1475.9 381.7h0M1515.4 481.0h0M1378.0 117.3h0M1229.6 93.1h0M1472.2 357.8h0M1769.3 163.7h0M1446.6 276.7h0M1436.0 357.1h0M1430.0 402.4h0M1392.7 307.2h0M1461.9 489.8h0M1416.7 185.4h0M1352.9 230.6h0M1393.9 261.6h0M1439.0 125.0h0M1513.4 484.2h0M1487.4 345.8h0M1404.1 70.2h0M1547.5 311.7h0M1437.1 148.0h0M1528.7 466.5h0M1454.6 401.7h0M1399.2 128.0h0M1438.4 203.8h0M1464.7 335.0h0M1456.0 425.2h0M1314.3 120.0h0M1447.0 174.0h0M1378.2 401.2h0M1480.8 299.9h0M1476.6 416.9h0M1465.7 317.7h0M1473.8 260.3h0M1463.4 354.1h0M1461.1 105.1h0M1380.5 131.4h0M1420.6 366.8h0M1444.0 100.7h0M1408.9 343.4h0M1614.0 277.3h0M1437.0 293.1h0M1470.3 404.4h0M1389.4 345.8h0M1433.0 135.6h0M1420.5 159.6h0M1407.0 126.3h0M1477.0 269.4h0M1487.8 429.6h0M1393.7 112.3h0M1512.4 478.2h0M1417.0 187.1h0M1457.9 428.6h0M1471.1 282.6h0M1413.5 194.7h0M1477.4 290.3h0M1454.7 223.1h0M1453.3 178.4h0M1472.4 287.0h0M1443.6 114.3h0M1501.3 511.3h0M1421.0 112.0h0M1463.4 372.1h0M1380.2 109.1h0M1427.2 357.8h0M1456.3 426.4h0M1485.1 386.7h0M1410.1 118.6h0M1413.1 89.8h0M1477.7 497.9h0M1372.9 136.2h0M1411.7 66.7h0M1259.2 195.9h0M1386.1 242.0h0M1272.1 98.2h0M1307.9 83.7h0M1434.6 184.3h0M1435.0 262.3h0M1537.4 161.2h0M1537.6 467.7h0M1393.9 213.5h0M1454.7 149.5h0M1449.9 144.1h0M1466.8 249.2h0M1413.4 428.1h0M1360.2 164.6h0M1472.7 349.3h0M1485.0 434.6h0M1494.7 501.1h0M1388.8 87.7h0M1425.9 333.8h0M1470.5 466.1h0M1482.3 328.9h0M1298.6 87.3h0M1516.6 509.8h0M1405.6 161.7h0M1570.4 107.8h0M1488.9 381.4h0M1472.4 238.4h0M1378.3 238.4h0M1306.4 119.6h0M1415.0 236.8h0M1479.3 325.0h0M1384.4 72.1h0M1413.2 207.9h0M1360.4 205.8h0M1424.0 119.2h0M1436.8 78.4h0M1260.1 138.7h0M1484.5 449.4h0M1750.0 75.2h0M1469.1 221.0h0M1396.4 157.0h0M1470.9 311.1h0M1499.2 501.2h0M1451.2 67.1h0M1394.6 133.8h0M1330.6 94.9h0M1305.1 182.7h0M1525.5 495.4h0M1360.9 67.1h0M1322.6 91.2h0M1448.9 360.2h0M1403.4 249.6h0M1444.6 193.5h0M1329.2 195.2h0M1404.7 107.6h0M1428.8 185.4h0M1475.5 274.2h0M1431.4 156.1h0M1441.4 178.5h0M1432.0 125.5h0M1334.6 71.2h0M1415.6 170.5h0M1396.4 79.5h0M1591.7 376.3h0M1449.1 219.4h0M1459.8 209.6h0M1467.3 447.4h0M1388.5 95.4h0M1464.8 225.0h0M1617.8 291.3h0M1513.3 471.2h0M1252.7 152.0h0M1354.9 370.5h0M1350.1 89.2h0M1375.6 146.1h0M1442.8 106.6h0M1410.8 258.0h0M1588.0 371.0h0M1412.9 70.4h0M1445.2 124.2h0M1431.9 92.0h0M1456.5 297.8h0M1497.3 496.8h0M1400.1 122.6h0M1475.9 253.8h0M1472.2 476.6h0M1439.1 408.5h0M1449.8 371.2h0M1469.3 354.0h0M1563.3 320.3h0M1377.9 68.3h0M1540.5 173.4h0M1378.8 89.5h0M1427.1 160.5h0M1435.1 213.2h0M1458.4 263.2h0M1478.1 225.7h0M1568.6 340.5h0M1427.2 76.8h0M1367.3 314.3h0M1441.9 204.3h0M1588.7 383.0h0M1475.5 303.1h0M1400.7 134.8h0M1439.6 95.8h0M1455.2 118.0h0M1444.8 122.6h0M1557.7 435.4h0M1530.5 387.2h0M1431.4 237.0h0M1439.8 129.1h0M1433.2 66.0h0M1449.0 195.6h0M1427.2 229.9h0M1490.1 504.9h0M1436.0 111.2h0M1300.3 164.6h0M1418.9 189.6h0M1406.3 90.9h0M1449.1 407.8h0M1472.0 185.4h0M1468.9 241.3h0M1362.9 243.2h0M1453.7 315.9h0M1478.4 255.2h0M1450.6 241.1h0M1448.5 103.5h0M1458.2 143.0h0" stroke="#a5a5aa" stroke-opacity="0.3" stroke-width="10" stroke-linecap="round" fill="none"/>
<path d="M1476.9 463.5h0M1462.4 275.5h0M1467.8 383.4h0M1494.7 469.4h0M1517.0 502.2h0M1396.3 78.2h0M1484.6 503.1h0M1412.0 173.8h0M1475.1 186.5h0M1467.4 464.4h0M1463.9 253.9h0M1420.7 189.9h0M1457.9 108.9h0M1491.6 404.5h0M1455.2 110.8h0M1466.7 336.8h0M1455.9 388.6h0M1378.2 324.7h0M1414.4 221.2h0M1457.5 360.5h0M1405.7 183.1h0M1464.9 256.3h0M1454.5 336.5h0M1448.9 407.7h0M1486.4 480.3h0M1464.3 282.5h0M1560.2 439.5h0M1339.5 408.0h0M1412.9 66.8h0M1488.6 481.6h0M1539.3 385.5h0M1443.6 89.2h0M1514.4 430.2h0M1519.6 497.8h0M1507.3 491.0h0M1465.9 254.9h0M1425.5 420.3h0M1530.5 272.9h0M1553.2 442.7h0M1120.6 68.2h0M1451.4 158.2h0M1324.1 201.7h0M1402.1 296.8h0M1428.3 322.5h0M1339.1 182.2h0M1434.3 210.4h0M1468.9 157.9h0M1439.8 181.9h0M1453.8 411.4h0M1438.4 183.8h0M1475.2 475.2h0M1351.4 179.1h0M1460.4 189.9h0M1521.9 333.7h0M1389.8 111.9h0M1582.5 284.9h0M1435.4 377.5h0M1490.0 371.4h0M1405.1 101.6h0M1422.4 381.9h0M1270.2 180.6h0M1437.9 108.8h0M1355.9 115.2h0M1451.3 473.2h0M1486.8 436.3h0M1406.0 197.7h0M1532.4 487.2h0M1415.2 305.4h0M1444.2 370.0h0M1427.6 332.7h0M1428.8 220.3h0M1402.5 72.2h0M1410.6 336.2h0M1312.2 90.2h0M1401.9 78.9h0M1242.0 389.9h0M1247.8 203.6h0M1482.7 461.8h0M1471.1 213.7h0M1553.8 440.6h0M1338.7 107.5h0M1515.5 507.7h0M1560.1 433.0h0M1453.7 357.9h0M1138.4 131.4h0M1438.2 419.1h0M1364.0 100.6h0M1471.8 182.6h0M1422.7 100.8h0M1522.5 501.8h0M1381.6 413.0h0M1372.6 416.8h0M1331.6 313.7h0M1434.6 202.2h0M1391.3 288.1h0M1408.5 75.0h0M1460.6 81.4h0M1471.4 341.1h0M1376.4 86.9h0M1479.4 460.3h0M1470.2 374.8h0M1471.9 205.6h0M1269.9 296.2h0M1451.9 372.5h0M1464.7 212.4h0M1459.0 285.0h0M1485.0 407.7h0M1462.7 179.8h0M1461.0 217.2h0M1462.7 420.5h0M1464.1 118.9h0M1402.3 91.6h0M1554.5 354.4h0M1390.0 71.5h0M1468.6 249.5h0M1469.1 458.3h0M1468.6 259.4h0M1370.5 270.5h0M1446.5 333.7h0M1552.2 267.5h0M1370.6 67.3h0M1459.8 223.2h0M1461.5 431.4h0M1423.0 81.7h0M1432.0 107.0h0M1474.3 210.9h0M1444.1 475.1h0M1594.6 328.8h0M1421.1 364.0h0M1421.8 120.6h0M1455.6 283.9h0M1388.1 233.0h0M1494.4 484.7h0M1350.6 217.6h0M1323.3 71.9h0M1404.7 251.7h0M1458.6 413.5h0M1480.3 278.6h0M1422.8 298.6h0M1484.0 403.6h0M1484.2 273.4h0M1441.5 282.5h0M1477.4 326.0h0M1383.1 81.7h0M1462.3 394.0h0M1453.1 234.5h0M1532.1 374.2h0M1420.2 350.7h0M1401.8 223.4h0M1397.7 108.2h0M1327.2 91.1h0M1463.6 406.7h0M1377.7 113.9h0M1460.3 390.3h0M1430.2 216.8h0M1425.8 239.8h0M1414.3 88.8h0M1451.8 280.8h0M1467.1 374.7h0M1491.7 497.4h0M1520.0 338.3h0M1317.2 148.8h0M1375.8 189.3h0M1467.7 364.5h0M1442.8 293.7h0M1381.7 66.7h0M1434.2 123.0h0M1437.1 196.0h0M1567.6 424.9h0M1496.2 483.1h0M1401.4 339.0h0M1444.9 289.3h0M1340.8 82.2h0M1455.7 86.3h0M1385.3 223.2h0M1450.9 400.6h0M1497.0 498.0h0M1414.8 357.6h0M1489.7 406.8h0M1395.3 263.6h0M1464.9 305.0h0M1523.5 465.7h0M1469.6 444.5h0M1434.3 99.8h0M1522.0 486.3h0M1433.7 426.7h0M1446.0 194.2h0M1492.0 482.7h0M1470.3 175.7h0M1355.2 222.3h0M1454.2 222.5h0M1435.1 273.1h0M1520.3 441.7h0M1391.7 345.9h0M1471.6 250.8h0M1443.3 381.5h0M1422.6 193.5h0M1456.5 263.6h0M1397.3 115.4h0M1434.3 228.2h0M1333.6 71.7h0M1426.1 309.0h0M1458.4 430.1h0M1490.8 414.1h0M1433.5 365.0h0M1465.3 311.9h0M1491.1 407.7h0M1357.4 111.5h0M1465.9 414.0h0M1406.9 282.2h0M1457.8 399.5h0M1397.5 165.5h0M1416.8 286.2h0M1463.1 223.6h0M1476.6 441.3h0M1426.8 186.2h0M1452.3 291.1h0M1457.5 232.1h0M1415.9 167.7h0M1448.2 183.7h0M1367.5 67.2h0M1157.6 201.7h0M1451.4 392.0h0M1430.4 431.0h0M1455.1 347.5h0M1470.4 422.2h0M1404.6 369.8h0M1449.8 123.6h0M1209.5 266.3h0M1372.5 239.2h0M1432.2 253.3h0M1422.7 106.9h0M1375.8 95.6h0M1362.0 185.8h0M1469.5 287.6h0M1439.5 392.9h0M1456.9 99.9h0M1482.2 283.0h0M1527.6 409.8h0M1485.7 407.0h0M1451.6 80.4h0M1347.4 153.4h0M1448.3 315.9h0M1530.7 377.7h0M1411.2 403.6h0M1457.5 91.2h0M1462.1 79.1h0M1484.0 343.7h0M1555.3 335.6h0M1362.3 187.6h0M1386.8 390.5h0M1526.8 413.7h0M1442.7 219.9h0M1462.1 100.4h0M1313.3 68.9h0M1453.3 363.3h0M1429.3 88.7h0M1440.6 89.8h0M1539.4 388.8h0M1447.6 333.5h0M1438.0 73.0h0M1525.6 308.6h0M1446.3 179.3h0M1462.4 380.0h0M1455.7 294.7h0M1452.5 266.4h0M1435.2 103.1h0M1461.2 455.1h0M1438.2 281.9h0M1419.6 308.3h0M1483.2 456.8h0M1471.3 325.1h0M1469.3 238.3h0M1510.6 460.0h0M1550.2 190.0h0M1261.9 321.8h0M1391.9 345.4h0M1371.7 278.7h0M1415.0 165.8h0M1359.0 88.8h0M1446.4 135.0h0M1454.8 118.7h0M1461.1 270.4h0M1354.5 108.7h0M1474.6 171.2h0M1535.7 480.7h0M1406.2 85.6h0M1502.5 494.7h0M1417.6 431.4h0M1313.1 75.7h0M1262.1 188.1h0M1261.5 130.8h0M1428.9 110.0h0M1442.6 285.6h0M1405.7 101.7h0M1359.6 159.1h0M1468.1 101.4h0M1592.3 243.7h0M1460.5 411.4h0M1490.9 465.0h0M1485.7 336.9h0M1451.9 248.6h0M1474.6 333.2h0M1564.6 412.3h0M1468.9 201.3h0M1375.2 250.8h0M1439.7 107.4h0M1522.4 427.5h0M1444.8 290.2h0M1423.2 183.8h0M1480.8 426.3h0M1368.0 82.7h0M1424.8 393.1h0M1455.1 379.3h0M1420.7 271.4h0M1471.2 198.9h0M1422.1 360.8h0M1411.0 162.4h0M1463.3 190.5h0M1427.4 191.9h0M1456.5 251.4h0M1375.6 167.3h0M1291.2 117.1h0M1426.5 140.3h0M1414.2 156.9h0M1396.6 100.0h0M1486.0 396.3h0M1350.0 135.1h0M1291.1 149.4h0" stroke="#a5a5aa" stroke-opacity="0.3" stroke-width="10" stroke-linecap="round" fill="none"/>
<path d="M1474.2 222.7h0M1516.7 467.3h0M1432.7 158.1h0M1347.1 96.0h0M1447.5 394.0h0M1450.7 294.3h0M1541.5 443.2h0M1406.0 151.4h0M1402.6 188.4h0M1665.6 99.1h0M1480.5 479.7h0M1478.7 348.7h0M1426.0 238.3h0M1418.9 148.3h0M1408.0 169.0h0M1450.6 101.8h0M1491.2 390.8h0M1445.3 151.0h0M1407.4 217.4h0M1468.4 254.9h0M1443.4 155.9h0M1484.4 325.9h0M1482.1 468.9h0M1326.0 135.4h0M1401.7 136.8h0M1445.2 252.3h0M1477.3 322.0h0M1437.9 147.4h0M1581.9 285.6h0M1407.7 69.2h0M1364.9 66.9h0M1430.8 110.2h0M1462.9 261.2h0M1450.5 199.3h0M1454.1 348.5h0M1419.3 292.2h0M1447.6 366.6h0M1405.1 291.3h0M1415.0 309.5h0M1487.5 502.2h0M1403.0 82.1h0M1450.5 117.0h0M1487.3 342.1h0M1492.7 394.0h0M1468.9 234.7h0M1439.2 81.9h0M1418.8 235.4h0M1466.7 214.6h0M1404.4 99.0h0M1491.4 429.7h0M1480.5 294.7h0M1384.6 193.8h0M1451.7 263.0h0M1488.2 387.7h0M1423.1 274.8h0M1523.5 462.1h0M1355.3 107.0h0M1399.8 386.9h0M1412.0 67.1h0M1474.5 441.6h0M1470.5 334.9h0M1367.5 235.0h0M1331.8 138.8h0M1528.8 386.8h0M1261.8 83.6h0M1217.5 83.1h0M1374.4 67.5h0M1515.6 472.6h0M1441.9 433.0h0M1437.3 91.0h0M1470.9 457.7h0M1401.7 70.6h0M1450.6 269.9h0M1431.7 180.0h0M1493.2 500.2h0M1470.2 211.4h0M1490.8 464.0h0M1397.6 127.8h0M1433.8 325.3h0M1449.3 125.1h0M1437.3 368.6h0M1461.7 348.6h0M1464.9 407.4h0M1477.0 416.9h0M1377.8 300.1h0M1330.4 113.3h0M1443.8 211.5h0M1426.8 287.5h0M1680.4 215.7h0M1375.2 365.3h0M1436.5 274.6h0M1395.6 67.4h0M1466.8 362.7h0M1529.7 485.5h0M1457.1 376.0h0M1307.0 184.7h0M1331.1 235.8h0M1479.5 421.7h0M1394.0 107.7h0M1441.7 66.0h0M1442.0 94.7h0M1349.2 247.2h0M1303.2 87.0h0M1462.0 389.3h0M1458.7 228.1h0M1459.0 314.6h0M1429.3 104.2h0M1311.7 264.1h0M1469.9 312.0h0M1373.0 214.4h0M1474.5 235.8h0M1473.7 472.6h0M1431.3 207.9h0M1403.3 275.0h0M1541.2 476.4h0M1478.7 456.8h0M1523.8 413.6h0M1417.8 227.6h0M1474.4 327.4h0M1473.9 251.7h0M1344.2 128.8h0M1465.7 304.4h0M1494.5 490.1h0M1361.1 317.5h0M1475.9 379.3h0M1415.0 167.4h0M1407.3 119.7h0M1481.7 307.8h0M1461.9 172.8h0M1431.6 198.0h0M1510.9 486.4h0M1386.4 118.9h0M1435.5 273.5h0M1420.3 249.8h0M1493.9 441.9h0M1479.0 382.7h0M1437.4 263.1h0M1454.4 414.6h0M1394.1 178.4h0M1606.4 282.1h0M1468.5 113.4h0M1536.7 449.9h0M1454.6 90.0h0M1361.0 243.1h0M1338.9 123.9h0M1471.2 251.0h0M1450.1 386.9h0M1484.9 383.7h0M1482.8 301.7h0M1532.6 483.8h0M1402.5 185.2h0M1473.2 216.1h0M1478.5 430.5h0M1351.4 72.9h0M1509.9 510.1h0M1418.9 254.6h0M1477.2 390.1h0M1471.9 136.5h0M1525.1 423.0h0M1430.2 205.3h0M1474.2 389.3h0M1354.2 125.0h0M1477.7 196.0h0M1455.2 357.0h0M1408.2 262.1h0M1445.9 308.3h0M1504.2 509.7h0M1461.0 186.1h0M1558.3 414.2h0M1331.4 87.0h0M1473.4 462.0h0M1363.9 429.3h0M1442.0 85.4h0M1438.9 230.7h0M1499.1 504.9h0M1474.5 291.1h0M1430.2 72.1h0M1365.8 73.5h0M1461.3 408.7h0M1416.9 376.7h0M1437.0 287.6h0M1551.6 390.5h0M1436.2 164.7h0M1521.8 327.5h0M1350.7 66.3h0M1396.2 138.5h0M1478.2 312.8h0M1463.2 134.0h0M1277.5 108.4h0M1465.8 317.0h0M1476.9 393.6h0M1541.3 458.2h0M1442.2 237.8h0M1457.9 218.5h0M1474.6 219.0h0M1490.1 462.6h0M1460.7 76.7h0M1555.0 292.6h0M1487.9 496.9h0M1425.1 203.6h0M1474.5 316.8h0M1397.4 374.9h0M1478.9 400.8h0M1475.4 392.0h0M1421.7 319.8h0M1485.2 327.5h0M1242.0 349.2h0M1541.9 459.9h0M1421.7 127.2h0M1368.9 81.5h0M1545.3 382.3h0M1358.9 272.3h0M1514.3 478.5h0M1467.5 170.0h0M1370.0 237.1h0M1467.8 376.2h0M1479.7 428.0h0M1455.5 174.7h0M1396.4 135.0h0M1440.8 245.4h0M1428.8 146.6h0M1445.1 106.8h0M1509.7 496.3h0M1492.8 497.2h0M1474.2 181.8h0M1423.4 150.2h0M1468.2 241.6h0M1485.4 378.2h0M1470.3 355.6h0M1496.4 476.1h0M1329.8 112.8h0M1452.5 181.4h0M1461.8 236.8h0M1449.9 273.3h0M1532.0 146.8h0M1445.5 471.4h0M1402.7 152.1h0M1392.2 123.7h0M1489.2 379.2h0M1385.7 122.7h0M1545.5 268.0h0M1303.2 120.7h0M1448.5 162.6h0M1451.5 269.3h0M1366.8 195.4h0M1470.0 161.6h0M1445.6 151.1h0M1489.2 419.0h0M1352.0 216.8h0M1511.1 443.8h0M1365.1 189.2h0M1408.9 281.4h0M1488.1 425.5h0M1405.4 365.5h0M1493.1 490.5h0M1466.7 181.9h0M1438.1 99.8h0M1451.0 299.5h0M1476.1 469.2h0M1597.6 192.5h0M1456.5 69.2h0M1443.4 214.5h0M1434.8 397.5h0M1474.6 262.2h0M1142.8 207.3h0M1477.5 252.3h0M1452.2 220.5h0M1413.3 147.0h0M1303.1 283.5h0M1463.2 73.6h0M1436.8 237.3h0M1460.0 73.3h0M1581.9 391.9h0M1454.1 114.2h0M1476.6 241.4h0M1443.4 67.3h0M1418.1 285.7h0M1405.8 136.4h0M1416.8 289.7h0M1416.1 344.8h0M1475.7 449.9h0M1417.4 317.5h0M1342.9 180.4h0M1471.7 497.1h0M1354.6 211.8h0M1661.2 434.9h0M1425.9 80.4h0M1386.1 150.3h0M1491.3 420.5h0M1380.3 98.3h0M1535.3 368.1h0M1461.5 313.6h0M1417.6 180.0h0M1484.0 439.2h0M1412.5 79.9h0M1464.6 337.8h0M1284.8 188.6h0M1486.6 339.6h0M1457.3 433.1h0M1537.8 80.1h0M1391.0 244.3h0M1420.3 112.9h0M1504.0 511.6h0M1420.6 106.4h0M1539.4 164.0h0M1480.8 366.0h0M1283.6 79.6h0M1447.8 356.0h0M1551.2 416.2h0M1371.9 89.5h0M1447.7 385.6h0M1470.1 325.8h0M1358.8 67.3h0M1478.2 433.4h0M1538.4 393.3h0M1465.2 120.4h0M1418.7 235.7h0M1374.7 260.0h0M1472.0 378.2h0M1387.1 133.6h0M1457.1 132.8h0M1499.9 499.5h0M1413.7 312.0h0M1423.0 68.5h0M1378.2 125.4h0M1455.1 273.5h0M1304.6 309.8h0M1466.8 249.7h0M1417.0 95.1h0" stroke="#a5a5aa" stroke-opacity="0.3" stroke-width="10" stroke-linecap="round" fill="none"/>
<path d="M1298.9 291.8h0M1471.5 284.7h0M1343.2 67.3h0M1433.8 139.5h0M1472.3 225.1h0M1419.4 100.8h0M1457.5 268.7h0M1409.4 348.2h0M1373.6 172.3h0M1444.7 127.6h0M1457.3 106.7h0M1471.4 295.6h0M1586.9 379.2h0M1475.9 201.9h0M1540.4 420.4h0M1462.5 279.9h0M1455.3 182.8h0M1467.0 142.2h0M1404.8 307.1h0M1438.9 459.7h0M1422.4 243.9h0M1428.5 67.8h0M1454.8 392.6h0M1426.8 329.6h0M1518.6 493.0h0M1460.3 92.6h0M1439.6 226.4h0M1484.0 465.4h0M1457.9 240.6h0M1458.7 328.0h0M1418.9 231.8h0M1374.5 104.1h0M1432.5 169.6h0M1337.2 66.0h0M1454.9 140.9h0M1436.8 301.5h0M1546.4 435.5h0M1486.8 426.7h0M1332.4 167.9h0M1361.8 257.4h0M1405.8 152.5h0M1424.3 139.5h0M1469.1 196.9h0M1383.0 114.5h0M1359.6 125.7h0M1470.8 470.2h0M1339.6 125.7h0M1384.8 255.5h0M1416.4 254.8h0M1473.9 288.4h0M1482.9 441.3h0M1379.2 67.2h0M1470.2 182.8h0M1401.3 102.5h0M1424.9 189.2h0M1426.3 131.6h0M1464.8 203.2h0M1464.9 299.0h0M1354.0 226.9h0M1465.6 257.5h0M1474.6 347.9h0M1466.8 397.7h0M1436.4 103.1h0M1328.9 68.2h0M1425.3 168.7h0M1443.7 255.3h0M1597.8 315.6h0M1478.2 262.5h0M1470.7 281.8h0M1428.3 147.1h0M1458.1 166.5h0M1486.3 339.7h0M1464.3 216.5h0M1401.4 226.4h0M1380.0 347.7h0M1541.1 344.6h0M1388.3 86.6h0M1445.9 340.8h0M1451.0 414.4h0M1383.9 103.0h0M1472.3 309.5h0M1542.8 447.9h0M1369.1 165.6h0M1459.3 281.6h0M1405.5 417.7h0M1366.2 252.5h0M1619.8 235.5h0M1455.0 410.8h0M1478.9 394.7h0M1428.4 430.2h0M1443.4 243.1h0M1432.4 121.5h0M1411.3 174.0h0M1422.0 319.0h0M1397.5 81.3h0M1438.7 171.3h0M1285.0 136.6h0M1340.3 94.6h0M1525.2 291.8h0M1446.7 86.8h0M1454.4 236.9h0M1407.5 149.9h0M1453.1 229.4h0M1427.3 213.0h0M1390.1 370.7h0M1457.6 66.9h0M1496.4 485.8h0M1263.6 155.0h0M1487.6 488.4h0M1459.9 444.4h0M1490.7 399.0h0M1344.6 67.1h0M1457.6 343.4h0M1429.2 214.8h0M1456.0 121.8h0M1511.0 459.2h0M1352.6 126.6h0M1603.4 267.6h0M1427.6 251.4h0M1309.6 403.0h0M1366.1 214.6h0M1464.2 179.9h0M1467.3 357.5h0M1457.2 186.9h0M1541.1 125.9h0M1454.1 90.4h0M1517.3 500.6h0M1490.9 480.7h0M1565.6 395.3h0M1567.7 184.6h0M1399.9 287.6h0M1478.2 298.9h0M1624.1 405.4h0M1438.2 155.8h0M1458.0 305.0h0M1373.6 258.1h0M1477.8 411.9h0M1414.0 162.9h0M1542.0 416.9h0M1464.9 195.5h0M1447.9 87.0h0M1530.3 318.1h0M1392.6 206.3h0M1393.4 116.5h0M1397.2 160.3h0M1396.9 153.8h0M1456.8 85.8h0M1355.2 117.5h0M1401.2 70.9h0M1457.5 338.8h0M1527.1 488.4h0M1481.3 413.2h0M1432.8 136.3h0M1324.2 142.2h0M1406.5 69.4h0M1432.8 422.0h0M1452.6 369.3h0M1432.1 256.1h0M1357.0 81.2h0M1438.1 254.4h0M1490.9 465.7h0M1449.2 389.3h0M1452.0 188.7h0M1522.1 503.1h0M1347.3 156.3h0M1357.6 262.3h0M1439.4 171.4h0M1435.4 224.7h0M1394.8 76.8h0M1344.8 129.4h0M1463.1 174.2h0M1463.4 261.3h0M1484.1 284.0h0M1438.5 282.1h0M1460.6 108.7h0M1467.5 298.6h0M1402.3 67.8h0M1425.3 168.8h0M1463.3 288.5h0M1465.5 195.6h0M1433.6 271.4h0M1446.4 286.9h0M1468.8 474.4h0M1510.7 465.4h0M1539.0 421.1h0M1450.9 225.6h0M1526.9 450.9h0M1420.4 150.1h0M1373.7 86.3h0M1484.8 342.3h0M1441.4 118.3h0M1406.7 144.4h0M1474.7 245.5h0M1425.6 189.5h0M1490.4 500.0h0M1468.2 465.2h0M1457.7 212.1h0M1464.3 445.1h0M1356.1 165.8h0M1424.4 215.2h0M1310.5 208.8h0M1467.6 376.7h0M1307.1 115.5h0M1421.6 236.9h0M1368.8 306.3h0M1375.6 87.1h0M1469.8 218.3h0M1454.0 246.5h0M1469.8 157.6h0M1312.1 70.0h0M1445.2 229.9h0M1520.7 496.0h0M1488.8 434.4h0M1336.0 176.1h0M1446.9 239.0h0M1436.3 354.2h0M1495.2 504.6h0M1444.4 352.3h0M1475.3 337.5h0M1454.6 72.5h0M1276.0 141.6h0M1470.6 199.9h0M1464.2 348.5h0M1483.1 330.9h0M1489.4 417.8h0M1402.6 311.3h0M1459.4 159.3h0M1408.2 147.6h0M1417.6 388.6h0M1476.1 253.6h0M1477.9 377.9h0M1418.9 147.5h0M1493.3 477.9h0M1524.1 490.8h0M1287.0 263.9h0M1413.5 128.1h0M1467.4 229.9h0M1421.0 102.9h0M1429.6 411.1h0M1436.0 238.5h0M1493.0 445.8h0M1430.9 151.1h0M1471.0 391.7h0M1309.1 328.0h0M1465.9 268.0h0M1452.8 364.0h0M1464.6 226.1h0M1469.5 457.4h0M1447.7 423.8h0M1432.8 414.8h0M1370.2 220.3h0M1450.8 415.4h0M1571.8 200.3h0M1577.3 182.4h0M1467.7 115.5h0M1370.8 249.5h0M1453.9 144.7h0M1464.5 170.7h0M1559.2 177.6h0M1518.5 483.8h0M1322.6 117.8h0M1302.8 311.9h0M1461.7 287.0h0M1468.2 173.2h0M1659.7 135.6h0M1549.3 439.9h0M1357.0 67.1h0M1426.5 100.7h0M1476.8 227.6h0M1444.5 236.7h0M1487.6 383.1h0M1458.3 396.1h0M1483.1 462.8h0M1423.5 95.6h0M1430.6 415.4h0M1425.3 254.6h0M1442.7 93.0h0M1439.6 67.2h0M1430.9 265.1h0M1462.8 275.1h0M1321.5 125.0h0M1476.1 462.3h0M1421.2 274.9h0M1473.3 385.9h0M1446.2 172.7h0M1491.6 460.3h0M1584.4 402.9h0M1337.0 149.5h0M1475.4 431.5h0M1486.6 495.6h0M1470.4 429.4h0M1483.8 362.0h0M1392.0 168.0h0M1462.4 118.5h0M1478.4 459.9h0M1465.5 491.9h0M1445.2 156.0h0M1260.3 100.0h0M1312.9 131.3h0M1419.7 174.5h0M1500.1 498.0h0M1464.0 156.7h0M1388.7 103.2h0M1474.3 292.5h0M1400.3 239.0h0M1435.6 125.9h0M1434.4 213.3h0M1461.0 257.4h0M1411.0 78.5h0M1443.7 188.2h0M1437.7 348.2h0M1490.8 481.0h0M1386.8 323.4h0M1446.5 291.5h0M1442.1 409.2h0M1461.8 457.8h0M1372.0 112.0h0M1453.9 230.3h0M1405.5 173.5h0M1464.9 386.9h0M1382.6 66.5h0M1380.7 181.6h0M1485.9 345.7h0M1576.9 135.8h0M1467.8 263.5h0M1413.6 242.3h0M1442.0 146.4h0M1445.9 149.4h0M1457.9 273.4h0" stroke="#a5a5aa" stroke-opacity="0.3" stroke-width="10" stroke-linecap="round" fill="none"/>
<path d="M1089.40 23.30L1089.40 520.20" stroke="#000" stroke-width="4.7" fill="none"/>
<path d="M1068.70 517.80L1832.00 517.80" stroke="#000" stroke-width="4.7" fill="none"/>
<text x="1066.20" y="528.60" font-size="30.6" text-anchor="end">0</text>
<path d="M1068.90 377.30L1089.40 377.30" stroke="#000" stroke-width="4.7" fill="none"/>
<text x="1066.20" y="388.10" font-size="30.6" text-anchor="end">1</text>
<path d="M1068.90 236.80L1089.40 236.80" stroke="#000" stroke-width="4.7" fill="none"/>
<text x="1066.20" y="247.60" font-size="30.6" text-anchor="end">2</text>
<path d="M1068.90 96.30L1089.40 96.30" stroke="#000" stroke-width="4.7" fill="none"/>
<text x="1066.20" y="107.10" font-size="30.6" text-anchor="end">3</text>
<path d="M1206.50 517.80L1206.50 538.20" stroke="#000" stroke-width="4.7" fill="none"/>
<text x="1206.50" y="565.00" font-size="30.6" text-anchor="middle">-2</text>
<path d="M1354.60 517.80L1354.60 538.20" stroke="#000" stroke-width="4.7" fill="none"/>
<text x="1354.60" y="565.00" font-size="30.6" text-anchor="middle">-1</text>
<path d="M1502.70 517.80L1502.70 538.20" stroke="#000" stroke-width="4.7" fill="none"/>
<text x="1502.70" y="565.00" font-size="30.6" text-anchor="middle">0</text>
<path d="M1650.80 517.80L1650.80 538.20" stroke="#000" stroke-width="4.7" fill="none"/>
<text x="1650.80" y="565.00" font-size="30.6" text-anchor="middle">1</text>
<path d="M1798.90 517.80L1798.90 538.20" stroke="#000" stroke-width="4.7" fill="none"/>
<text x="1798.90" y="565.00" font-size="30.6" text-anchor="middle">2</text>
<text x="1100.00" y="598.30" font-size="30.6" text-anchor="start">Newly synthesized proteome Elp3 iKO / Ctrl (log<tspan font-size="19" dy="10">2</tspan><tspan dy="-10">FC)</tspan></text>
<text x="1030.60" y="276.00" font-size="30.6" text-anchor="middle" transform="rotate(-90 1030.60 276.00)">adj. p-value (-log<tspan font-size="19" dy="10">10</tspan><tspan dy="-10">)</tspan></text>
<rect x="248.3" y="720.5" width="167.4" height="392.1" fill="#e6e6e6"/>
<rect x="472.2" y="720.5" width="56.0" height="392.1" fill="#e6e6e6"/>
<rect x="585" y="720.5" width="56.1" height="392.1" fill="#e6e6e6"/>
<rect x="697.2" y="720.5" width="111.7" height="392.1" fill="#e6e6e6"/>
<rect x="864.8" y="720.5" width="84.0" height="392.1" fill="#e6e6e6"/>
<rect x="1118.6" y="720.5" width="55.9" height="392.1" fill="#e6e6e6"/>
<rect x="1202" y="720.5" width="56.6" height="392.1" fill="#e6e6e6"/>
<rect x="1370.9" y="720.5" width="168.2" height="392.1" fill="#e6e6e6"/>
<rect x="1650.1" y="720.5" width="28.6" height="392.1" fill="#e6e6e6"/>
<rect x="1734.9" y="720.5" width="115.6" height="392.1" fill="#e6e6e6"/>
<rect x="166.29" y="972.58" width="22.8" height="3.62" fill="#a2a2a7"/>
<rect x="194.38" y="976.20" width="22.8" height="33.00" fill="#a2a2a7"/>
<rect x="222.47" y="976.20" width="22.8" height="7.68" fill="#a2a2a7"/>
<rect x="250.56" y="886.25" width="22.8" height="89.95" fill="#a2a2a7"/>
<rect x="278.65" y="953.15" width="22.8" height="23.05" fill="#a2a2a7"/>
<rect x="306.74" y="976.20" width="22.8" height="15.37" fill="#a2a2a7"/>
<rect x="334.83" y="975.30" width="22.8" height="0.90" fill="#a2a2a7"/>
<rect x="362.92" y="964.45" width="22.8" height="11.75" fill="#a2a2a7"/>
<rect x="391.01" y="971.23" width="22.8" height="4.97" fill="#a2a2a7"/>
<rect x="419.10" y="976.20" width="22.8" height="0.90" fill="#a2a2a7"/>
<rect x="475.28" y="976.20" width="22.8" height="13.11" fill="#a2a2a7"/>
<rect x="503.37" y="976.20" width="22.8" height="18.08" fill="#a2a2a7"/>
<rect x="531.46" y="976.20" width="22.8" height="27.80" fill="#a2a2a7"/>
<rect x="559.55" y="976.20" width="22.8" height="27.80" fill="#a2a2a7"/>
<rect x="587.64" y="929.19" width="22.8" height="47.01" fill="#4473b8"/>
<rect x="615.73" y="976.20" width="22.8" height="5.42" fill="#a2a2a7"/>
<rect x="643.82" y="910.43" width="22.8" height="65.77" fill="#4473b8"/>
<rect x="671.91" y="976.20" width="22.8" height="11.98" fill="#a2a2a7"/>
<rect x="728.09" y="976.20" width="22.8" height="8.41" fill="#a2a2a7"/>
<rect x="756.18" y="976.20" width="22.8" height="1.36" fill="#a2a2a7"/>
<rect x="784.27" y="976.20" width="22.8" height="9.94" fill="#a2a2a7"/>
<rect x="812.36" y="976.20" width="22.8" height="12.48" fill="#a2a2a7"/>
<rect x="840.45" y="976.20" width="22.8" height="27.12" fill="#a2a2a7"/>
<rect x="868.54" y="976.20" width="22.8" height="4.52" fill="#a2a2a7"/>
<rect x="896.63" y="976.20" width="22.8" height="3.16" fill="#a2a2a7"/>
<rect x="952.81" y="976.20" width="22.8" height="8.41" fill="#a2a2a7"/>
<rect x="980.90" y="976.20" width="22.8" height="17.63" fill="#a2a2a7"/>
<rect x="1008.99" y="976.20" width="22.8" height="23.19" fill="#a2a2a7"/>
<rect x="1037.08" y="976.20" width="22.8" height="1.81" fill="#a2a2a7"/>
<rect x="1065.17" y="976.20" width="22.8" height="11.75" fill="#a2a2a7"/>
<rect x="1093.26" y="976.20" width="22.8" height="13.02" fill="#a2a2a7"/>
<rect x="1121.35" y="838.52" width="22.8" height="137.68" fill="#4473b8"/>
<rect x="1149.44" y="974.84" width="22.8" height="1.36" fill="#a2a2a7"/>
<rect x="1177.53" y="976.20" width="22.8" height="31.10" fill="#a2a2a7"/>
<rect x="1205.62" y="976.20" width="22.8" height="37.74" fill="#a2a2a7"/>
<rect x="1233.71" y="976.20" width="22.8" height="30.60" fill="#a2a2a7"/>
<rect x="1261.80" y="974.39" width="22.8" height="1.81" fill="#a2a2a7"/>
<rect x="1317.98" y="976.20" width="22.8" height="11.75" fill="#a2a2a7"/>
<rect x="1346.07" y="976.20" width="22.8" height="11.30" fill="#a2a2a7"/>
<rect x="1374.16" y="976.20" width="22.8" height="4.07" fill="#a2a2a7"/>
<rect x="1402.25" y="976.20" width="22.8" height="6.33" fill="#a2a2a7"/>
<rect x="1430.34" y="976.20" width="22.8" height="13.11" fill="#a2a2a7"/>
<rect x="1486.52" y="976.20" width="22.8" height="20.34" fill="#a2a2a7"/>
<rect x="1514.61" y="972.13" width="22.8" height="4.07" fill="#a2a2a7"/>
<rect x="1542.70" y="976.20" width="22.8" height="0.90" fill="#a2a2a7"/>
<rect x="1570.79" y="968.65" width="22.8" height="7.55" fill="#a2a2a7"/>
<rect x="1598.88" y="966.26" width="22.8" height="9.94" fill="#a2a2a7"/>
<rect x="1626.97" y="975.30" width="22.8" height="0.90" fill="#a2a2a7"/>
<rect x="1683.15" y="976.20" width="22.8" height="33.18" fill="#a2a2a7"/>
<rect x="1711.24" y="976.20" width="22.8" height="30.28" fill="#a2a2a7"/>
<rect x="1739.33" y="967.61" width="22.8" height="8.59" fill="#a2a2a7"/>
<rect x="1767.42" y="961.10" width="22.8" height="15.10" fill="#a2a2a7"/>
<rect x="1795.51" y="971.68" width="22.8" height="4.52" fill="#a2a2a7"/>
<rect x="1823.60" y="962.41" width="22.8" height="13.79" fill="#a2a2a7"/>
<path d="M149.6 960.1h0M149.6 968.8h0M145.5 978.5h0M153.4 979.8h0M149.6 994.6h0M177.6 947.1h0M177.6 955.5h0M177.6 964.0h0M177.6 970.3h0M177.6 1022.6h0M201.9 969.6h0M209.8 971.4h0M201.9 1020.6h0M209.8 1022.1h0M205.9 1062.9h0M234.0 965.0h0M230.2 977.7h0M237.8 975.2h0M234.0 982.6h0M234.0 1019.6h0M262.0 844.9h0M262.0 876.5h0M258.0 896.6h0M265.9 899.2h0M262.0 913.0h0M290.1 917.0h0M286.3 950.5h0M294.2 949.4h0M290.1 955.5h0M290.1 991.0h0M318.4 967.8h0M318.4 980.5h0M318.4 995.8h0M314.3 1008.8h0M322.2 1006.3h0M346.4 966.5h0M350.3 972.1h0M342.4 975.4h0M342.4 980.5h0M350.3 979.8h0M370.4 948.4h0M378.3 951.7h0M370.4 970.6h0M378.3 973.1h0M374.5 979.8h0M402.5 954.8h0M398.7 972.4h0M406.6 970.3h0M402.5 986.1h0M430.6 940.5h0M430.6 961.9h0M426.8 992.5h0M434.4 994.1h0M430.6 1003.7h0M454.8 951.7h0M462.7 954.3h0M458.6 965.8h0M458.6 991.0h0M458.6 1009.9h0M486.7 983.6h0M477.8 987.7h0M486.7 990.0h0M495.9 988.2h0M486.7 997.6h0M510.9 987.4h0M518.6 989.2h0M510.9 993.3h0M518.6 995.1h0M514.7 1007.8h0M543.0 968.0h0M539.1 1002.2h0M546.8 998.6h0M543.0 1018.3h0M543.0 1033.3h0M571.0 992.0h0M562.1 1002.7h0M571.0 1003.5h0M580.4 1003.0h0M571.0 1019.0h0M599.0 914.0h0M595.2 927.5h0M602.9 926.2h0M599.0 932.9h0M599.0 942.8h0M627.1 972.4h0M623.3 981.0h0M630.9 978.5h0M630.9 984.1h0M627.1 990.7h0M655.4 873.7h0M655.4 897.7h0M651.3 920.4h0M659.2 923.9h0M655.4 936.7h0M683.5 967.8h0M679.4 987.9h0M687.3 986.9h0M679.4 999.9h0M687.3 997.4h0M711.5 957.1h0M715.6 971.1h0M707.4 974.2h0M711.5 982.1h0M711.5 994.6h0M739.6 970.3h0M735.7 987.7h0M743.6 990.2h0M739.6 996.9h0M739.6 976.7h0M767.6 959.6h0M767.6 972.6h0M767.6 988.2h0M767.6 994.6h0M786.5 974.9h0M795.7 973.9h0M804.8 976.0h0M795.7 997.1h0M795.7 1008.1h0M824.0 968.8h0M824.0 986.1h0M820.1 993.5h0M827.8 994.8h0M824.0 1000.4h0M842.6 995.6h0M852.0 996.6h0M861.2 995.6h0M847.2 1014.7h0M856.6 1012.9h0M880.1 950.2h0M876.2 983.9h0M883.9 982.6h0M880.1 988.2h0M880.1 1001.2h0M908.1 966.5h0M904.3 974.9h0M912.2 973.9h0M908.1 988.7h0M908.1 993.3h0M936.3 959.6h0M932.2 970.6h0M940.1 970.0h0M936.3 976.2h0M936.3 1011.6h0M964.4 954.5h0M964.4 969.5h0M964.4 986.9h0M964.4 996.8h0M964.4 1015.2h0M992.4 946.8h0M992.4 983.0h0M992.4 996.8h0M988.3 1022.3h0M996.0 1019.3h0M1020.7 954.0h0M1016.6 997.1h0M1024.3 996.3h0M1020.7 1010.8h0M1020.7 1037.4h0M1048.8 950.2h0M1048.8 980.5h0M1045.0 996.8h0M1052.6 994.0h0M1048.8 976.2h0M1076.8 968.5h0M1076.8 981.0h0M1072.7 993.2h0M1080.7 996.3h0M1076.8 1001.4h0M1104.9 945.8h0M1104.9 989.4h0M1100.8 993.8h0M1108.7 993.8h0M1104.9 1023.3h0M1132.9 747.7h0M1132.9 841.0h0M1132.9 859.4h0M1132.9 867.3h0M1132.9 876.0h0M1151.5 969.3h0M1161.0 972.1h0M1170.2 970.8h0M1161.0 976.2h0M1161.0 983.3h0M1189.3 982.3h0M1189.3 1001.9h0M1189.3 1008.8h0M1189.3 1012.9h0M1189.3 1031.0h0M1213.2 992.7h0M1221.2 996.3h0M1217.3 1017.0h0M1217.3 1025.1h0M1217.3 1039.2h0M1241.3 995.8h0M1249.2 996.6h0M1245.4 1008.5h0M1245.4 1014.4h0M1245.4 1019.3h0M1273.4 955.0h0M1273.4 959.3h0M1273.4 972.9h0M1273.4 985.3h0M1273.4 994.3h0M1301.7 966.2h0M1297.7 973.9h0M1305.6 972.9h0M1301.7 981.3h0M1301.7 991.2h0M1324.9 953.9h0M1333.1 955.2h0M1329.2 999.9h0M1329.2 1012.4h0M1329.2 1017.3h0M1353.5 979.6h0M1361.1 980.2h0M1353.5 984.5h0M1361.1 985.8h0M1357.4 1006.2h0M1385.7 952.9h0M1385.7 963.8h0M1385.7 981.9h0M1385.7 986.5h0M1385.7 1017.0h0M1413.6 963.8h0M1409.4 977.9h0M1417.6 974.6h0M1413.6 992.7h0M1413.6 1006.8h0M1432.3 986.5h0M1441.5 986.5h0M1450.7 989.1h0M1441.5 991.1h0M1441.5 996.0h0M1469.8 956.2h0M1469.8 962.5h0M1465.9 980.2h0M1473.7 982.8h0M1469.8 1002.5h0M1497.7 956.9h0M1493.8 1002.5h0M1501.7 1000.6h0M1493.8 1013.1h0M1501.7 1011.4h0M1526.0 955.2h0M1526.0 961.8h0M1526.0 971.7h0M1526.0 982.5h0M1526.0 988.8h0M1554.2 959.5h0M1545.0 977.9h0M1554.2 979.6h0M1563.4 978.9h0M1554.2 986.8h0M1582.1 937.8h0M1582.1 958.9h0M1582.1 966.4h0M1582.1 980.2h0M1582.1 998.3h0M1610.4 948.0h0M1610.4 954.9h0M1610.4 962.1h0M1610.4 973.6h0M1610.4 992.4h0M1638.3 960.5h0M1638.3 969.4h0M1634.4 977.6h0M1642.3 978.9h0M1638.3 986.1h0M1666.6 952.3h0M1662.6 969.4h0M1670.5 968.4h0M1666.6 991.1h0M1666.6 999.6h0M1694.8 991.4h0M1694.8 997.3h0M1690.9 1013.4h0M1698.4 1014.4h0M1694.8 1030.5h0M1723.1 981.9h0M1723.1 987.4h0M1723.1 1000.2h0M1718.8 1032.8h0M1727.0 1030.1h0M1750.7 950.6h0M1750.7 956.2h0M1750.7 962.5h0M1750.7 978.2h0M1750.7 991.7h0M1775.0 930.9h0M1782.5 932.6h0M1778.9 963.5h0M1778.9 978.9h0M1778.9 1001.6h0M1807.5 947.7h0M1807.5 964.1h0M1807.5 969.4h0M1807.5 982.2h0M1807.5 995.7h0M1831.1 923.1h0M1839.0 925.7h0M1835.1 964.1h0M1831.1 1000.2h0M1839.0 998.9h0" stroke="#000" stroke-width="4.2" stroke-linecap="round" fill="none"/>
<path d="M127.60 724.50L127.60 1114.90" stroke="#000" stroke-width="4.7" fill="none"/>
<path d="M125.30 1112.60L1861.00 1112.60" stroke="#000" stroke-width="4.7" fill="none"/>
<path d="M125.30 976.20L1857.70 976.20" stroke="#000" stroke-width="4.6" fill="none"/>
<path d="M110.00 1066.60L127.60 1066.60" stroke="#000" stroke-width="4.5" fill="none"/>
<text x="107.50" y="1077.50" font-size="30.6" text-anchor="end">-0.2</text>
<path d="M117.20 1021.40L127.60 1021.40" stroke="#000" stroke-width="4.3" fill="none"/>
<path d="M110.00 976.20L127.60 976.20" stroke="#000" stroke-width="4.5" fill="none"/>
<text x="107.50" y="987.10" font-size="30.6" text-anchor="end">0.0</text>
<path d="M117.20 931.00L127.60 931.00" stroke="#000" stroke-width="4.3" fill="none"/>
<path d="M110.00 885.80L127.60 885.80" stroke="#000" stroke-width="4.5" fill="none"/>
<text x="107.50" y="896.70" font-size="30.6" text-anchor="end">0.2</text>
<path d="M117.20 840.60L127.60 840.60" stroke="#000" stroke-width="4.3" fill="none"/>
<path d="M110.00 795.40L127.60 795.40" stroke="#000" stroke-width="4.5" fill="none"/>
<text x="107.50" y="806.30" font-size="30.6" text-anchor="end">0.4</text>
<path d="M117.20 750.20L127.60 750.20" stroke="#000" stroke-width="4.3" fill="none"/>
<path d="M149.60 1112.60L149.60 1129.40" stroke="#000" stroke-width="4.7" fill="none"/>
<text x="159.20" y="1144.40" font-size="22.4" text-anchor="end" transform="rotate(-45 159.20 1144.40)">GCA</text>
<path d="M177.69 1112.60L177.69 1129.40" stroke="#000" stroke-width="4.7" fill="none"/>
<text x="187.29" y="1144.40" font-size="22.4" text-anchor="end" transform="rotate(-45 187.29 1144.40)">GCC</text>
<path d="M205.78 1112.60L205.78 1129.40" stroke="#000" stroke-width="4.7" fill="none"/>
<text x="215.38" y="1144.40" font-size="22.4" text-anchor="end" transform="rotate(-45 215.38 1144.40)">GCG</text>
<path d="M233.87 1112.60L233.87 1129.40" stroke="#000" stroke-width="4.7" fill="none"/>
<text x="243.47" y="1144.40" font-size="22.4" text-anchor="end" transform="rotate(-45 243.47 1144.40)">GCT</text>
<path d="M261.96 1112.60L261.96 1129.40" stroke="#000" stroke-width="4.7" fill="none"/>
<text x="271.56" y="1144.40" font-size="22.4" text-anchor="end" transform="rotate(-45 271.56 1144.40)">AGA</text>
<path d="M290.05 1112.60L290.05 1129.40" stroke="#000" stroke-width="4.7" fill="none"/>
<text x="299.65" y="1144.40" font-size="22.4" text-anchor="end" transform="rotate(-45 299.65 1144.40)">AGG</text>
<path d="M318.14 1112.60L318.14 1129.40" stroke="#000" stroke-width="4.7" fill="none"/>
<text x="327.74" y="1144.40" font-size="22.4" text-anchor="end" transform="rotate(-45 327.74 1144.40)">CGA</text>
<path d="M346.23 1112.60L346.23 1129.40" stroke="#000" stroke-width="4.7" fill="none"/>
<text x="355.83" y="1144.40" font-size="22.4" text-anchor="end" transform="rotate(-45 355.83 1144.40)">CGC</text>
<path d="M374.32 1112.60L374.32 1129.40" stroke="#000" stroke-width="4.7" fill="none"/>
<text x="383.92" y="1144.40" font-size="22.4" text-anchor="end" transform="rotate(-45 383.92 1144.40)">CGG</text>
<path d="M402.41 1112.60L402.41 1129.40" stroke="#000" stroke-width="4.7" fill="none"/>
<text x="412.01" y="1144.40" font-size="22.4" text-anchor="end" transform="rotate(-45 412.01 1144.40)">CGT</text>
<path d="M430.50 1112.60L430.50 1129.40" stroke="#000" stroke-width="4.7" fill="none"/>
<text x="440.10" y="1144.40" font-size="22.4" text-anchor="end" transform="rotate(-45 440.10 1144.40)">AAC</text>
<path d="M458.59 1112.60L458.59 1129.40" stroke="#000" stroke-width="4.7" fill="none"/>
<text x="468.19" y="1144.40" font-size="22.4" text-anchor="end" transform="rotate(-45 468.19 1144.40)">AAT</text>
<path d="M486.68 1112.60L486.68 1129.40" stroke="#000" stroke-width="4.7" fill="none"/>
<text x="496.28" y="1144.40" font-size="22.4" text-anchor="end" transform="rotate(-45 496.28 1144.40)">GAC</text>
<path d="M514.77 1112.60L514.77 1129.40" stroke="#000" stroke-width="4.7" fill="none"/>
<text x="524.37" y="1144.40" font-size="22.4" text-anchor="end" transform="rotate(-45 524.37 1144.40)">GAT</text>
<path d="M542.86 1112.60L542.86 1129.40" stroke="#000" stroke-width="4.7" fill="none"/>
<text x="552.46" y="1144.40" font-size="22.4" text-anchor="end" transform="rotate(-45 552.46 1144.40)">TGC</text>
<path d="M570.95 1112.60L570.95 1129.40" stroke="#000" stroke-width="4.7" fill="none"/>
<text x="580.55" y="1144.40" font-size="22.4" text-anchor="end" transform="rotate(-45 580.55 1144.40)">TGT</text>
<path d="M599.04 1112.60L599.04 1129.40" stroke="#000" stroke-width="4.7" fill="none"/>
<text x="608.64" y="1144.40" font-size="22.4" text-anchor="end" transform="rotate(-45 608.64 1144.40)" font-weight="bold" fill="#4473b8">CAA</text>
<path d="M627.13 1112.60L627.13 1129.40" stroke="#000" stroke-width="4.7" fill="none"/>
<text x="636.73" y="1144.40" font-size="22.4" text-anchor="end" transform="rotate(-45 636.73 1144.40)">CAG</text>
<path d="M655.22 1112.60L655.22 1129.40" stroke="#000" stroke-width="4.7" fill="none"/>
<text x="664.82" y="1144.40" font-size="22.4" text-anchor="end" transform="rotate(-45 664.82 1144.40)" font-weight="bold" fill="#4473b8">GAA</text>
<path d="M683.31 1112.60L683.31 1129.40" stroke="#000" stroke-width="4.7" fill="none"/>
<text x="692.91" y="1144.40" font-size="22.4" text-anchor="end" transform="rotate(-45 692.91 1144.40)">GAG</text>
<path d="M711.40 1112.60L711.40 1129.40" stroke="#000" stroke-width="4.7" fill="none"/>
<text x="721.00" y="1144.40" font-size="22.4" text-anchor="end" transform="rotate(-45 721.00 1144.40)">GGA</text>
<path d="M739.49 1112.60L739.49 1129.40" stroke="#000" stroke-width="4.7" fill="none"/>
<text x="749.09" y="1144.40" font-size="22.4" text-anchor="end" transform="rotate(-45 749.09 1144.40)">GGC</text>
<path d="M767.58 1112.60L767.58 1129.40" stroke="#000" stroke-width="4.7" fill="none"/>
<text x="777.18" y="1144.40" font-size="22.4" text-anchor="end" transform="rotate(-45 777.18 1144.40)">GGG</text>
<path d="M795.67 1112.60L795.67 1129.40" stroke="#000" stroke-width="4.7" fill="none"/>
<text x="805.27" y="1144.40" font-size="22.4" text-anchor="end" transform="rotate(-45 805.27 1144.40)">GGT</text>
<path d="M823.76 1112.60L823.76 1129.40" stroke="#000" stroke-width="4.7" fill="none"/>
<text x="833.36" y="1144.40" font-size="22.4" text-anchor="end" transform="rotate(-45 833.36 1144.40)">CAC</text>
<path d="M851.85 1112.60L851.85 1129.40" stroke="#000" stroke-width="4.7" fill="none"/>
<text x="861.45" y="1144.40" font-size="22.4" text-anchor="end" transform="rotate(-45 861.45 1144.40)">CAT</text>
<path d="M879.94 1112.60L879.94 1129.40" stroke="#000" stroke-width="4.7" fill="none"/>
<text x="889.54" y="1144.40" font-size="22.4" text-anchor="end" transform="rotate(-45 889.54 1144.40)">ATA</text>
<path d="M908.03 1112.60L908.03 1129.40" stroke="#000" stroke-width="4.7" fill="none"/>
<text x="917.63" y="1144.40" font-size="22.4" text-anchor="end" transform="rotate(-45 917.63 1144.40)">ATC</text>
<path d="M936.12 1112.60L936.12 1129.40" stroke="#000" stroke-width="4.7" fill="none"/>
<text x="945.72" y="1144.40" font-size="22.4" text-anchor="end" transform="rotate(-45 945.72 1144.40)">ATT</text>
<path d="M964.21 1112.60L964.21 1129.40" stroke="#000" stroke-width="4.7" fill="none"/>
<text x="973.81" y="1144.40" font-size="22.4" text-anchor="end" transform="rotate(-45 973.81 1144.40)">CTA</text>
<path d="M992.30 1112.60L992.30 1129.40" stroke="#000" stroke-width="4.7" fill="none"/>
<text x="1001.90" y="1144.40" font-size="22.4" text-anchor="end" transform="rotate(-45 1001.90 1144.40)">CTC</text>
<path d="M1020.39 1112.60L1020.39 1129.40" stroke="#000" stroke-width="4.7" fill="none"/>
<text x="1029.99" y="1144.40" font-size="22.4" text-anchor="end" transform="rotate(-45 1029.99 1144.40)">CTG</text>
<path d="M1048.48 1112.60L1048.48 1129.40" stroke="#000" stroke-width="4.7" fill="none"/>
<text x="1058.08" y="1144.40" font-size="22.4" text-anchor="end" transform="rotate(-45 1058.08 1144.40)">CTT</text>
<path d="M1076.57 1112.60L1076.57 1129.40" stroke="#000" stroke-width="4.7" fill="none"/>
<text x="1086.17" y="1144.40" font-size="22.4" text-anchor="end" transform="rotate(-45 1086.17 1144.40)">TTA</text>
<path d="M1104.66 1112.60L1104.66 1129.40" stroke="#000" stroke-width="4.7" fill="none"/>
<text x="1114.26" y="1144.40" font-size="22.4" text-anchor="end" transform="rotate(-45 1114.26 1144.40)">TTG</text>
<path d="M1132.75 1112.60L1132.75 1129.40" stroke="#000" stroke-width="4.7" fill="none"/>
<text x="1142.35" y="1144.40" font-size="22.4" text-anchor="end" transform="rotate(-45 1142.35 1144.40)" font-weight="bold" fill="#4473b8">AAA</text>
<path d="M1160.84 1112.60L1160.84 1129.40" stroke="#000" stroke-width="4.7" fill="none"/>
<text x="1170.44" y="1144.40" font-size="22.4" text-anchor="end" transform="rotate(-45 1170.44 1144.40)">AAG</text>
<path d="M1188.93 1112.60L1188.93 1129.40" stroke="#000" stroke-width="4.7" fill="none"/>
<text x="1198.53" y="1144.40" font-size="22.4" text-anchor="end" transform="rotate(-45 1198.53 1144.40)">ATG</text>
<path d="M1217.02 1112.60L1217.02 1129.40" stroke="#000" stroke-width="4.7" fill="none"/>
<text x="1226.62" y="1144.40" font-size="22.4" text-anchor="end" transform="rotate(-45 1226.62 1144.40)">TTC</text>
<path d="M1245.11 1112.60L1245.11 1129.40" stroke="#000" stroke-width="4.7" fill="none"/>
<text x="1254.71" y="1144.40" font-size="22.4" text-anchor="end" transform="rotate(-45 1254.71 1144.40)">TTT</text>
<path d="M1273.20 1112.60L1273.20 1129.40" stroke="#000" stroke-width="4.7" fill="none"/>
<text x="1282.80" y="1144.40" font-size="22.4" text-anchor="end" transform="rotate(-45 1282.80 1144.40)">CCA</text>
<path d="M1301.29 1112.60L1301.29 1129.40" stroke="#000" stroke-width="4.7" fill="none"/>
<text x="1310.89" y="1144.40" font-size="22.4" text-anchor="end" transform="rotate(-45 1310.89 1144.40)">CCC</text>
<path d="M1329.38 1112.60L1329.38 1129.40" stroke="#000" stroke-width="4.7" fill="none"/>
<text x="1338.98" y="1144.40" font-size="22.4" text-anchor="end" transform="rotate(-45 1338.98 1144.40)">CCG</text>
<path d="M1357.47 1112.60L1357.47 1129.40" stroke="#000" stroke-width="4.7" fill="none"/>
<text x="1367.07" y="1144.40" font-size="22.4" text-anchor="end" transform="rotate(-45 1367.07 1144.40)">CCT</text>
<path d="M1385.56 1112.60L1385.56 1129.40" stroke="#000" stroke-width="4.7" fill="none"/>
<text x="1395.16" y="1144.40" font-size="22.4" text-anchor="end" transform="rotate(-45 1395.16 1144.40)">AGC</text>
<path d="M1413.65 1112.60L1413.65 1129.40" stroke="#000" stroke-width="4.7" fill="none"/>
<text x="1423.25" y="1144.40" font-size="22.4" text-anchor="end" transform="rotate(-45 1423.25 1144.40)">AGT</text>
<path d="M1441.74 1112.60L1441.74 1129.40" stroke="#000" stroke-width="4.7" fill="none"/>
<text x="1451.34" y="1144.40" font-size="22.4" text-anchor="end" transform="rotate(-45 1451.34 1144.40)">TCA</text>
<path d="M1469.83 1112.60L1469.83 1129.40" stroke="#000" stroke-width="4.7" fill="none"/>
<text x="1479.43" y="1144.40" font-size="22.4" text-anchor="end" transform="rotate(-45 1479.43 1144.40)">TCC</text>
<path d="M1497.92 1112.60L1497.92 1129.40" stroke="#000" stroke-width="4.7" fill="none"/>
<text x="1507.52" y="1144.40" font-size="22.4" text-anchor="end" transform="rotate(-45 1507.52 1144.40)">TCG</text>
<path d="M1526.01 1112.60L1526.01 1129.40" stroke="#000" stroke-width="4.7" fill="none"/>
<text x="1535.61" y="1144.40" font-size="22.4" text-anchor="end" transform="rotate(-45 1535.61 1144.40)">TCT</text>
<path d="M1554.10 1112.60L1554.10 1129.40" stroke="#000" stroke-width="4.7" fill="none"/>
<text x="1563.70" y="1144.40" font-size="22.4" text-anchor="end" transform="rotate(-45 1563.70 1144.40)">ACA</text>
<path d="M1582.19 1112.60L1582.19 1129.40" stroke="#000" stroke-width="4.7" fill="none"/>
<text x="1591.79" y="1144.40" font-size="22.4" text-anchor="end" transform="rotate(-45 1591.79 1144.40)">ACC</text>
<path d="M1610.28 1112.60L1610.28 1129.40" stroke="#000" stroke-width="4.7" fill="none"/>
<text x="1619.88" y="1144.40" font-size="22.4" text-anchor="end" transform="rotate(-45 1619.88 1144.40)">ACG</text>
<path d="M1638.37 1112.60L1638.37 1129.40" stroke="#000" stroke-width="4.7" fill="none"/>
<text x="1647.97" y="1144.40" font-size="22.4" text-anchor="end" transform="rotate(-45 1647.97 1144.40)">ACT</text>
<path d="M1666.46 1112.60L1666.46 1129.40" stroke="#000" stroke-width="4.7" fill="none"/>
<text x="1676.06" y="1144.40" font-size="22.4" text-anchor="end" transform="rotate(-45 1676.06 1144.40)">TGG</text>
<path d="M1694.55 1112.60L1694.55 1129.40" stroke="#000" stroke-width="4.7" fill="none"/>
<text x="1704.15" y="1144.40" font-size="22.4" text-anchor="end" transform="rotate(-45 1704.15 1144.40)">TAC</text>
<path d="M1722.64 1112.60L1722.64 1129.40" stroke="#000" stroke-width="4.7" fill="none"/>
<text x="1732.24" y="1144.40" font-size="22.4" text-anchor="end" transform="rotate(-45 1732.24 1144.40)">TAT</text>
<path d="M1750.73 1112.60L1750.73 1129.40" stroke="#000" stroke-width="4.7" fill="none"/>
<text x="1760.33" y="1144.40" font-size="22.4" text-anchor="end" transform="rotate(-45 1760.33 1144.40)">GTA</text>
<path d="M1778.82 1112.60L1778.82 1129.40" stroke="#000" stroke-width="4.7" fill="none"/>
<text x="1788.42" y="1144.40" font-size="22.4" text-anchor="end" transform="rotate(-45 1788.42 1144.40)">GTC</text>
<path d="M1806.91 1112.60L1806.91 1129.40" stroke="#000" stroke-width="4.7" fill="none"/>
<text x="1816.51" y="1144.40" font-size="22.4" text-anchor="end" transform="rotate(-45 1816.51 1144.40)">GTG</text>
<path d="M1835.00 1112.60L1835.00 1129.40" stroke="#000" stroke-width="4.7" fill="none"/>
<text x="1844.60" y="1144.40" font-size="22.4" text-anchor="end" transform="rotate(-45 1844.60 1144.40)">GTT</text>
<text x="38.70" y="925.30" font-size="30.6" text-anchor="middle" transform="rotate(-90 38.70 925.30)">subsequence abundance shift</text>
<text x="939.50" y="679.60" font-size="30.6" text-anchor="middle">Ribosome A site occupancy Ctu1 iKO / Ctrl</text>
<text x="187.50" y="718.70" font-size="26.8" text-anchor="middle">Ala</text>
<text x="332.20" y="718.70" font-size="26.8" text-anchor="middle">Arg</text>
<text x="444.50" y="718.70" font-size="26.8" text-anchor="middle">Asn</text>
<text x="500.70" y="718.70" font-size="26.8" text-anchor="middle">Asp</text>
<text x="556.50" y="718.70" font-size="26.8" text-anchor="middle">Cys</text>
<text x="613.10" y="718.70" font-size="26.8" text-anchor="middle">Gln</text>
<text x="669.30" y="718.70" font-size="26.8" text-anchor="middle">Glu</text>
<text x="753.00" y="718.70" font-size="26.8" text-anchor="middle">Gly</text>
<text x="837.50" y="718.70" font-size="26.8" text-anchor="middle">His</text>
<text x="907.50" y="718.70" font-size="26.8" text-anchor="middle">Ile</text>
<text x="1034.70" y="718.70" font-size="26.8" text-anchor="middle">Leu</text>
<text x="1135.80" y="718.70" font-size="26.8" text-anchor="middle">Lys</text>
<text x="1186.50" y="718.70" font-size="26.8" text-anchor="middle">Met</text>
<text x="1239.00" y="718.70" font-size="26.8" text-anchor="middle">Phe</text>
<text x="1315.00" y="718.70" font-size="26.8" text-anchor="middle">Pro</text>
<text x="1454.00" y="718.70" font-size="26.8" text-anchor="middle">Ser</text>
<text x="1594.30" y="718.70" font-size="26.8" text-anchor="middle">Thr</text>
<text x="1665.60" y="718.70" font-size="26.8" text-anchor="middle">Trp</text>
<text x="1709.30" y="718.70" font-size="26.8" text-anchor="middle">Tyr</text>
<text x="1793.70" y="718.70" font-size="26.8" text-anchor="middle">Val</text>
<text x="261.80" y="836.40" font-size="18.8" text-anchor="middle">p=0.012</text>
<text x="598.60" y="836.50" font-size="18.8" text-anchor="middle">p=0.024</text>
<text x="655.10" y="812.00" font-size="18.8" text-anchor="middle">p=0.028</text>
<text x="1133.80" y="811.40" font-size="18.8" text-anchor="middle">p=0.009</text>
<path d="M99.10 1550.90L430.72 1550.90" stroke="#000" stroke-width="2.5" fill="none"/>
<path d="M138.50 1281.53L138.50 1652.61" stroke="#000" stroke-width="2.2" fill="none"/>
<path d="M133.50 1281.53L143.50 1281.53" stroke="#000" stroke-width="2.0" fill="none"/>
<path d="M133.50 1652.61L143.50 1652.61" stroke="#000" stroke-width="2.0" fill="none"/>
<rect x="128.40" y="1384.34" width="20.2" height="205.33" fill="#555555"/>
<rect x="128.40" y="1488.15" width="20.2" height="6.0" fill="#cc0000"/>
<text x="143.30" y="1278.13" font-size="15.2" text-anchor="start" transform="rotate(-90 143.30 1278.13)">p&lt;0.001</text>
<path d="M168.58 1322.00L168.58 1652.61" stroke="#000" stroke-width="2.2" fill="none"/>
<path d="M163.58 1322.00L173.58 1322.00" stroke="#000" stroke-width="2.0" fill="none"/>
<path d="M163.58 1652.61L173.58 1652.61" stroke="#000" stroke-width="2.0" fill="none"/>
<rect x="158.48" y="1406.22" width="20.2" height="191.84" fill="#555555"/>
<rect x="158.48" y="1504.04" width="20.2" height="6.0" fill="#cc0000"/>
<text x="173.38" y="1318.60" font-size="15.2" text-anchor="start" transform="rotate(-90 173.38 1318.60)">p&lt;0.001</text>
<path d="M198.66 1360.66L198.66 1657.41" stroke="#000" stroke-width="2.2" fill="none"/>
<path d="M193.66 1360.66L203.66 1360.66" stroke="#000" stroke-width="2.0" fill="none"/>
<path d="M193.66 1657.41L203.66 1657.41" stroke="#000" stroke-width="2.0" fill="none"/>
<rect x="188.56" y="1444.89" width="20.2" height="163.36" fill="#555555"/>
<rect x="188.56" y="1525.92" width="20.2" height="6.0" fill="#cc0000"/>
<text x="203.46" y="1357.26" font-size="15.2" text-anchor="start" transform="rotate(-90 203.46 1357.26)">p&lt;0.001</text>
<path d="M228.74 1386.44L228.74 1674.20" stroke="#000" stroke-width="2.2" fill="none"/>
<path d="M223.74 1386.44L233.74 1386.44" stroke="#000" stroke-width="2.0" fill="none"/>
<path d="M223.74 1674.20L233.74 1674.20" stroke="#000" stroke-width="2.0" fill="none"/>
<rect x="218.64" y="1468.87" width="20.2" height="151.67" fill="#d2d2d2"/>
<rect x="218.64" y="1539.71" width="20.2" height="6.0" fill="#cc0000"/>
<text x="233.54" y="1383.04" font-size="15.2" text-anchor="start" transform="rotate(-90 233.54 1383.04)">p=0.09</text>
<path d="M258.82 1396.93L258.82 1675.10" stroke="#000" stroke-width="2.2" fill="none"/>
<path d="M253.82 1396.93L263.82 1396.93" stroke="#000" stroke-width="2.0" fill="none"/>
<path d="M253.82 1675.10L263.82 1675.10" stroke="#000" stroke-width="2.0" fill="none"/>
<rect x="248.72" y="1468.87" width="20.2" height="151.37" fill="#d2d2d2"/>
<rect x="248.72" y="1550.80" width="20.2" height="6.0" fill="#cc0000"/>
<text x="263.62" y="1393.53" font-size="15.2" text-anchor="start" transform="rotate(-90 263.62 1393.53)">p=0.28</text>
<path d="M288.90 1398.13L288.90 1671.50" stroke="#000" stroke-width="2.2" fill="none"/>
<path d="M283.90 1398.13L293.90 1398.13" stroke="#000" stroke-width="2.0" fill="none"/>
<path d="M283.90 1671.50L293.90 1671.50" stroke="#000" stroke-width="2.0" fill="none"/>
<rect x="278.80" y="1476.07" width="20.2" height="147.17" fill="#d2d2d2"/>
<rect x="278.80" y="1550.80" width="20.2" height="6.0" fill="#cc0000"/>
<text x="293.70" y="1394.73" font-size="15.2" text-anchor="start" transform="rotate(-90 293.70 1394.73)">p=0.67</text>
<path d="M318.98 1405.92L318.98 1673.60" stroke="#000" stroke-width="2.2" fill="none"/>
<path d="M313.98 1405.92L323.98 1405.92" stroke="#000" stroke-width="2.0" fill="none"/>
<path d="M313.98 1673.60L323.98 1673.60" stroke="#000" stroke-width="2.0" fill="none"/>
<rect x="308.88" y="1489.25" width="20.2" height="142.38" fill="#d2d2d2"/>
<rect x="308.88" y="1559.19" width="20.2" height="6.0" fill="#cc0000"/>
<text x="323.78" y="1402.52" font-size="15.2" text-anchor="start" transform="rotate(-90 323.78 1402.52)">p=0.10</text>
<path d="M349.06 1423.01L349.06 1675.70" stroke="#000" stroke-width="2.2" fill="none"/>
<path d="M344.06 1423.01L354.06 1423.01" stroke="#000" stroke-width="2.0" fill="none"/>
<path d="M344.06 1675.70L354.06 1675.70" stroke="#000" stroke-width="2.0" fill="none"/>
<rect x="338.96" y="1496.15" width="20.2" height="132.49" fill="#858585"/>
<rect x="338.96" y="1564.59" width="20.2" height="6.0" fill="#cc0000"/>
<text x="353.86" y="1419.61" font-size="15.2" text-anchor="start" transform="rotate(-90 353.86 1419.61)">p=0.008</text>
<path d="M379.14 1415.82L379.14 1680.19" stroke="#000" stroke-width="2.2" fill="none"/>
<path d="M374.14 1415.82L384.14 1415.82" stroke="#000" stroke-width="2.0" fill="none"/>
<path d="M374.14 1680.19L384.14 1680.19" stroke="#000" stroke-width="2.0" fill="none"/>
<rect x="369.04" y="1497.65" width="20.2" height="141.78" fill="#555555"/>
<rect x="369.04" y="1574.48" width="20.2" height="6.0" fill="#cc0000"/>
<text x="383.94" y="1412.42" font-size="15.2" text-anchor="start" transform="rotate(-90 383.94 1412.42)">p&lt;0.001</text>
<path d="M409.22 1431.40L409.22 1684.39" stroke="#000" stroke-width="2.2" fill="none"/>
<path d="M404.22 1431.40L414.22 1431.40" stroke="#000" stroke-width="2.0" fill="none"/>
<path d="M404.22 1684.39L414.22 1684.39" stroke="#000" stroke-width="2.0" fill="none"/>
<rect x="399.12" y="1501.84" width="20.2" height="142.38" fill="#555555"/>
<rect x="399.12" y="1582.87" width="20.2" height="6.0" fill="#cc0000"/>
<text x="414.02" y="1428.00" font-size="15.2" text-anchor="start" transform="rotate(-90 414.02 1428.00)">p&lt;0.001</text>
<path d="M119.00 1244.30L119.00 1716.60" stroke="#000" stroke-width="4.4" fill="none"/>
<path d="M99.10 1714.35L433.22 1714.35" stroke="#000" stroke-width="4.5" fill="none"/>
<path d="M99.10 1283.00L119.00 1283.00" stroke="#000" stroke-width="4.5" fill="none"/>
<text x="96.90" y="1293.90" font-size="30.6" text-anchor="end">8</text>
<path d="M99.10 1354.89L119.00 1354.89" stroke="#000" stroke-width="4.5" fill="none"/>
<text x="96.90" y="1365.79" font-size="30.6" text-anchor="end">6</text>
<path d="M99.10 1426.78L119.00 1426.78" stroke="#000" stroke-width="4.5" fill="none"/>
<text x="96.90" y="1437.68" font-size="30.6" text-anchor="end">4</text>
<path d="M99.10 1498.67L119.00 1498.67" stroke="#000" stroke-width="4.5" fill="none"/>
<text x="96.90" y="1509.58" font-size="30.6" text-anchor="end">2</text>
<path d="M99.10 1570.57L119.00 1570.57" stroke="#000" stroke-width="4.5" fill="none"/>
<text x="96.90" y="1581.47" font-size="30.6" text-anchor="end">0</text>
<path d="M99.10 1642.46L119.00 1642.46" stroke="#000" stroke-width="4.5" fill="none"/>
<text x="96.90" y="1653.36" font-size="30.6" text-anchor="end">-2</text>
<text x="96.90" y="1725.25" font-size="30.6" text-anchor="end">-4</text>
<path d="M138.50 1714.35L138.50 1734.65" stroke="#000" stroke-width="4.4" fill="none"/>
<text x="138.50" y="1759.65" font-size="30.6" text-anchor="middle">1</text>
<path d="M168.58 1714.35L168.58 1734.65" stroke="#000" stroke-width="4.4" fill="none"/>
<text x="168.58" y="1759.65" font-size="30.6" text-anchor="middle">2</text>
<path d="M198.66 1714.35L198.66 1734.65" stroke="#000" stroke-width="4.4" fill="none"/>
<text x="198.66" y="1759.65" font-size="30.6" text-anchor="middle">3</text>
<path d="M228.74 1714.35L228.74 1734.65" stroke="#000" stroke-width="4.4" fill="none"/>
<text x="228.74" y="1759.65" font-size="30.6" text-anchor="middle">4</text>
<path d="M258.82 1714.35L258.82 1734.65" stroke="#000" stroke-width="4.4" fill="none"/>
<text x="258.82" y="1759.65" font-size="30.6" text-anchor="middle">5</text>
<path d="M288.90 1714.35L288.90 1734.65" stroke="#000" stroke-width="4.4" fill="none"/>
<text x="288.90" y="1759.65" font-size="30.6" text-anchor="middle">6</text>
<path d="M318.98 1714.35L318.98 1734.65" stroke="#000" stroke-width="4.4" fill="none"/>
<text x="318.98" y="1759.65" font-size="30.6" text-anchor="middle">7</text>
<path d="M349.06 1714.35L349.06 1734.65" stroke="#000" stroke-width="4.4" fill="none"/>
<text x="349.06" y="1759.65" font-size="30.6" text-anchor="middle">8</text>
<path d="M379.14 1714.35L379.14 1734.65" stroke="#000" stroke-width="4.4" fill="none"/>
<text x="379.14" y="1759.65" font-size="30.6" text-anchor="middle">9</text>
<path d="M409.22 1714.35L409.22 1734.65" stroke="#000" stroke-width="4.4" fill="none"/>
<text x="409.22" y="1759.65" font-size="30.6" text-anchor="middle">10</text>
<text x="274.46" y="1790.75" font-size="30.6" text-anchor="middle">NSP Ctu1 iKO / Ctrl</text>
<text x="274.46" y="1822.75" font-size="30.6" text-anchor="middle">Decile rank of log<tspan font-size="19" dy="10">2</tspan><tspan dy="-10">FC</tspan></text>
<text x="275.00" y="1240.60" font-size="30.6" text-anchor="middle">VAA</text>
<text x="27.00" y="1478.32" font-size="30.6" text-anchor="middle" transform="rotate(-90 27.00 1478.32)">VAA deviation (%)</text>
<text x="59.20" y="1480.02" font-size="30.6" text-anchor="middle" transform="rotate(-90 59.20 1480.02)">from transcriptome average</text>
<path d="M570.25 1562.80L901.97 1562.80" stroke="#000" stroke-width="2.5" fill="none"/>
<path d="M609.75 1304.01L609.75 1654.11" stroke="#000" stroke-width="2.2" fill="none"/>
<path d="M604.75 1304.01L614.75 1304.01" stroke="#000" stroke-width="2.0" fill="none"/>
<path d="M604.75 1654.11L614.75 1654.11" stroke="#000" stroke-width="2.0" fill="none"/>
<rect x="599.65" y="1402.03" width="20.2" height="190.04" fill="#555555"/>
<rect x="599.65" y="1498.64" width="20.2" height="6.0" fill="#cc0000"/>
<text x="614.55" y="1300.61" font-size="15.2" text-anchor="start" transform="rotate(-90 614.55 1300.61)">p&lt;0.001</text>
<path d="M639.83 1357.97L639.83 1651.12" stroke="#000" stroke-width="2.2" fill="none"/>
<path d="M634.83 1357.97L644.83 1357.97" stroke="#000" stroke-width="2.0" fill="none"/>
<path d="M634.83 1651.12L644.83 1651.12" stroke="#000" stroke-width="2.0" fill="none"/>
<rect x="629.73" y="1435.60" width="20.2" height="166.36" fill="#555555"/>
<rect x="629.73" y="1516.03" width="20.2" height="6.0" fill="#cc0000"/>
<text x="644.63" y="1354.57" font-size="15.2" text-anchor="start" transform="rotate(-90 644.63 1354.57)">p&lt;0.001</text>
<path d="M669.91 1393.34L669.91 1656.21" stroke="#000" stroke-width="2.2" fill="none"/>
<path d="M664.91 1393.34L674.91 1393.34" stroke="#000" stroke-width="2.0" fill="none"/>
<path d="M664.91 1656.21L674.91 1656.21" stroke="#000" stroke-width="2.0" fill="none"/>
<rect x="659.81" y="1464.08" width="20.2" height="145.08" fill="#555555"/>
<rect x="659.81" y="1541.21" width="20.2" height="6.0" fill="#cc0000"/>
<text x="674.71" y="1389.94" font-size="15.2" text-anchor="start" transform="rotate(-90 674.71 1389.94)">p&lt;0.001</text>
<path d="M699.99 1427.51L699.99 1664.60" stroke="#000" stroke-width="2.2" fill="none"/>
<path d="M694.99 1427.51L704.99 1427.51" stroke="#000" stroke-width="2.0" fill="none"/>
<path d="M694.99 1664.60L704.99 1664.60" stroke="#000" stroke-width="2.0" fill="none"/>
<rect x="689.89" y="1490.75" width="20.2" height="130.39" fill="#ababab"/>
<rect x="689.89" y="1549.30" width="20.2" height="6.0" fill="#cc0000"/>
<text x="704.79" y="1417.91" font-size="15.2" text-anchor="start" transform="rotate(-90 704.79 1417.91)">p=0.01</text>
<path d="M730.07 1430.20L730.07 1674.50" stroke="#000" stroke-width="2.2" fill="none"/>
<path d="M725.07 1430.20L735.07 1430.20" stroke="#000" stroke-width="2.0" fill="none"/>
<path d="M725.07 1674.50L735.07 1674.50" stroke="#000" stroke-width="2.0" fill="none"/>
<rect x="719.97" y="1494.05" width="20.2" height="134.89" fill="#d2d2d2"/>
<rect x="719.97" y="1566.69" width="20.2" height="6.0" fill="#cc0000"/>
<text x="734.87" y="1426.80" font-size="15.2" text-anchor="start" transform="rotate(-90 734.87 1426.80)">p=0.98</text>
<path d="M760.15 1435.30L760.15 1664.90" stroke="#000" stroke-width="2.2" fill="none"/>
<path d="M755.15 1435.30L765.15 1435.30" stroke="#000" stroke-width="2.0" fill="none"/>
<path d="M755.15 1664.90L765.15 1664.90" stroke="#000" stroke-width="2.0" fill="none"/>
<rect x="750.05" y="1501.24" width="20.2" height="127.69" fill="#d2d2d2"/>
<rect x="750.05" y="1566.09" width="20.2" height="6.0" fill="#cc0000"/>
<text x="764.95" y="1431.90" font-size="15.2" text-anchor="start" transform="rotate(-90 764.95 1431.90)">p=0.69</text>
<path d="M790.23 1456.88L790.23 1666.70" stroke="#000" stroke-width="2.2" fill="none"/>
<path d="M785.23 1456.88L795.23 1456.88" stroke="#000" stroke-width="2.0" fill="none"/>
<path d="M785.23 1666.70L795.23 1666.70" stroke="#000" stroke-width="2.0" fill="none"/>
<rect x="780.13" y="1512.33" width="20.2" height="120.80" fill="#858585"/>
<rect x="780.13" y="1576.58" width="20.2" height="6.0" fill="#cc0000"/>
<text x="795.03" y="1453.48" font-size="15.2" text-anchor="start" transform="rotate(-90 795.03 1453.48)">p=0.004</text>
<path d="M820.31 1465.57L820.31 1673.30" stroke="#000" stroke-width="2.2" fill="none"/>
<path d="M815.31 1465.57L825.31 1465.57" stroke="#000" stroke-width="2.0" fill="none"/>
<path d="M815.31 1673.30L825.31 1673.30" stroke="#000" stroke-width="2.0" fill="none"/>
<rect x="810.21" y="1524.92" width="20.2" height="109.41" fill="#555555"/>
<rect x="810.21" y="1576.58" width="20.2" height="6.0" fill="#cc0000"/>
<text x="825.11" y="1462.17" font-size="15.2" text-anchor="start" transform="rotate(-90 825.11 1462.17)">p&lt;0.001</text>
<path d="M850.39 1461.38L850.39 1675.70" stroke="#000" stroke-width="2.2" fill="none"/>
<path d="M845.39 1461.38L855.39 1461.38" stroke="#000" stroke-width="2.0" fill="none"/>
<path d="M845.39 1675.70L855.39 1675.70" stroke="#000" stroke-width="2.0" fill="none"/>
<rect x="840.29" y="1518.93" width="20.2" height="123.20" fill="#555555"/>
<rect x="840.29" y="1584.37" width="20.2" height="6.0" fill="#cc0000"/>
<text x="855.19" y="1457.98" font-size="15.2" text-anchor="start" transform="rotate(-90 855.19 1457.98)">p&lt;0.001</text>
<path d="M880.47 1462.58L880.47 1669.10" stroke="#000" stroke-width="2.2" fill="none"/>
<path d="M875.47 1462.58L885.47 1462.58" stroke="#000" stroke-width="2.0" fill="none"/>
<path d="M875.47 1669.10L885.47 1669.10" stroke="#000" stroke-width="2.0" fill="none"/>
<rect x="870.37" y="1535.41" width="20.2" height="107.91" fill="#555555"/>
<rect x="870.37" y="1596.06" width="20.2" height="6.0" fill="#cc0000"/>
<text x="885.27" y="1459.18" font-size="15.2" text-anchor="start" transform="rotate(-90 885.27 1459.18)">p&lt;0.001</text>
<path d="M590.15 1244.30L590.15 1716.05" stroke="#000" stroke-width="4.4" fill="none"/>
<path d="M570.25 1713.80L904.47 1713.80" stroke="#000" stroke-width="4.5" fill="none"/>
<path d="M570.25 1246.55L590.15 1246.55" stroke="#000" stroke-width="4.5" fill="none"/>
<text x="568.05" y="1257.45" font-size="30.6" text-anchor="end">5</text>
<path d="M570.25 1313.30L590.15 1313.30" stroke="#000" stroke-width="4.5" fill="none"/>
<text x="568.05" y="1324.20" font-size="30.6" text-anchor="end">4</text>
<path d="M570.25 1380.05L590.15 1380.05" stroke="#000" stroke-width="4.5" fill="none"/>
<text x="568.05" y="1390.95" font-size="30.6" text-anchor="end">3</text>
<path d="M570.25 1446.80L590.15 1446.80" stroke="#000" stroke-width="4.5" fill="none"/>
<text x="568.05" y="1457.70" font-size="30.6" text-anchor="end">2</text>
<path d="M570.25 1513.55L590.15 1513.55" stroke="#000" stroke-width="4.5" fill="none"/>
<text x="568.05" y="1524.45" font-size="30.6" text-anchor="end">1</text>
<path d="M570.25 1580.30L590.15 1580.30" stroke="#000" stroke-width="4.5" fill="none"/>
<text x="568.05" y="1591.20" font-size="30.6" text-anchor="end">0</text>
<path d="M570.25 1647.05L590.15 1647.05" stroke="#000" stroke-width="4.5" fill="none"/>
<text x="568.05" y="1657.95" font-size="30.6" text-anchor="end">-1</text>
<text x="568.05" y="1724.70" font-size="30.6" text-anchor="end">-2</text>
<path d="M609.75 1713.80L609.75 1734.10" stroke="#000" stroke-width="4.4" fill="none"/>
<text x="609.75" y="1759.10" font-size="30.6" text-anchor="middle">1</text>
<path d="M639.83 1713.80L639.83 1734.10" stroke="#000" stroke-width="4.4" fill="none"/>
<text x="639.83" y="1759.10" font-size="30.6" text-anchor="middle">2</text>
<path d="M669.91 1713.80L669.91 1734.10" stroke="#000" stroke-width="4.4" fill="none"/>
<text x="669.91" y="1759.10" font-size="30.6" text-anchor="middle">3</text>
<path d="M699.99 1713.80L699.99 1734.10" stroke="#000" stroke-width="4.4" fill="none"/>
<text x="699.99" y="1759.10" font-size="30.6" text-anchor="middle">4</text>
<path d="M730.07 1713.80L730.07 1734.10" stroke="#000" stroke-width="4.4" fill="none"/>
<text x="730.07" y="1759.10" font-size="30.6" text-anchor="middle">5</text>
<path d="M760.15 1713.80L760.15 1734.10" stroke="#000" stroke-width="4.4" fill="none"/>
<text x="760.15" y="1759.10" font-size="30.6" text-anchor="middle">6</text>
<path d="M790.23 1713.80L790.23 1734.10" stroke="#000" stroke-width="4.4" fill="none"/>
<text x="790.23" y="1759.10" font-size="30.6" text-anchor="middle">7</text>
<path d="M820.31 1713.80L820.31 1734.10" stroke="#000" stroke-width="4.4" fill="none"/>
<text x="820.31" y="1759.10" font-size="30.6" text-anchor="middle">8</text>
<path d="M850.39 1713.80L850.39 1734.10" stroke="#000" stroke-width="4.4" fill="none"/>
<text x="850.39" y="1759.10" font-size="30.6" text-anchor="middle">9</text>
<path d="M880.47 1713.80L880.47 1734.10" stroke="#000" stroke-width="4.4" fill="none"/>
<text x="880.47" y="1759.10" font-size="30.6" text-anchor="middle">10</text>
<text x="745.71" y="1790.20" font-size="30.6" text-anchor="middle">NSP Ctu1 iKO / Ctrl</text>
<text x="745.71" y="1822.20" font-size="30.6" text-anchor="middle">Decile rank of log<tspan font-size="19" dy="10">2</tspan><tspan dy="-10">FC</tspan></text>
<text x="745.20" y="1240.60" font-size="30.6" text-anchor="middle">AAA</text>
<text x="498.15" y="1478.05" font-size="30.6" text-anchor="middle" transform="rotate(-90 498.15 1478.05)">AAA deviation (%)</text>
<text x="530.35" y="1479.75" font-size="30.6" text-anchor="middle" transform="rotate(-90 530.35 1479.75)">from transcriptome average</text>
<path d="M1044.60 1558.05L1376.32 1558.05" stroke="#000" stroke-width="2.5" fill="none"/>
<path d="M1084.10 1323.79L1084.10 1664.01" stroke="#000" stroke-width="2.2" fill="none"/>
<path d="M1079.10 1323.79L1089.10 1323.79" stroke="#000" stroke-width="2.0" fill="none"/>
<path d="M1079.10 1664.01L1089.10 1664.01" stroke="#000" stroke-width="2.0" fill="none"/>
<rect x="1074.00" y="1430.20" width="20.2" height="174.75" fill="#555555"/>
<rect x="1074.00" y="1518.73" width="20.2" height="6.0" fill="#cc0000"/>
<text x="1088.90" y="1320.39" font-size="15.2" text-anchor="start" transform="rotate(-90 1088.90 1320.39)">p&lt;0.001</text>
<path d="M1114.18 1336.38L1114.18 1657.71" stroke="#000" stroke-width="2.2" fill="none"/>
<path d="M1109.18 1336.38L1119.18 1336.38" stroke="#000" stroke-width="2.0" fill="none"/>
<path d="M1109.18 1657.71L1119.18 1657.71" stroke="#000" stroke-width="2.0" fill="none"/>
<rect x="1104.08" y="1437.10" width="20.2" height="171.75" fill="#555555"/>
<rect x="1104.08" y="1531.32" width="20.2" height="6.0" fill="#cc0000"/>
<text x="1118.98" y="1332.98" font-size="15.2" text-anchor="start" transform="rotate(-90 1118.98 1332.98)">p&lt;0.001</text>
<path d="M1144.26 1367.86L1144.26 1664.60" stroke="#000" stroke-width="2.2" fill="none"/>
<path d="M1139.26 1367.86L1149.26 1367.86" stroke="#000" stroke-width="2.0" fill="none"/>
<path d="M1139.26 1664.60L1149.26 1664.60" stroke="#000" stroke-width="2.0" fill="none"/>
<rect x="1134.16" y="1467.97" width="20.2" height="155.57" fill="#555555"/>
<rect x="1134.16" y="1541.21" width="20.2" height="6.0" fill="#cc0000"/>
<text x="1149.06" y="1364.46" font-size="15.2" text-anchor="start" transform="rotate(-90 1149.06 1364.46)">p&lt;0.001</text>
<path d="M1174.34 1402.03L1174.34 1680.49" stroke="#000" stroke-width="2.2" fill="none"/>
<path d="M1169.34 1402.03L1179.34 1402.03" stroke="#000" stroke-width="2.0" fill="none"/>
<path d="M1169.34 1680.49L1179.34 1680.49" stroke="#000" stroke-width="2.0" fill="none"/>
<rect x="1164.24" y="1481.16" width="20.2" height="142.68" fill="#d2d2d2"/>
<rect x="1164.24" y="1548.40" width="20.2" height="6.0" fill="#cc0000"/>
<text x="1179.14" y="1398.63" font-size="15.2" text-anchor="start" transform="rotate(-90 1179.14 1398.63)">p=0.06</text>
<path d="M1204.42 1411.62L1204.42 1666.10" stroke="#000" stroke-width="2.2" fill="none"/>
<path d="M1199.42 1411.62L1209.42 1411.62" stroke="#000" stroke-width="2.0" fill="none"/>
<path d="M1199.42 1666.10L1209.42 1666.10" stroke="#000" stroke-width="2.0" fill="none"/>
<rect x="1194.32" y="1482.96" width="20.2" height="135.78" fill="#ababab"/>
<rect x="1194.32" y="1553.20" width="20.2" height="6.0" fill="#cc0000"/>
<text x="1209.22" y="1408.22" font-size="15.2" text-anchor="start" transform="rotate(-90 1209.22 1408.22)">p=0.03</text>
<path d="M1234.50 1403.53L1234.50 1675.40" stroke="#000" stroke-width="2.2" fill="none"/>
<path d="M1229.50 1403.53L1239.50 1403.53" stroke="#000" stroke-width="2.0" fill="none"/>
<path d="M1229.50 1675.40L1239.50 1675.40" stroke="#000" stroke-width="2.0" fill="none"/>
<rect x="1224.40" y="1482.96" width="20.2" height="142.38" fill="#d2d2d2"/>
<rect x="1224.40" y="1559.79" width="20.2" height="6.0" fill="#cc0000"/>
<text x="1239.30" y="1400.13" font-size="15.2" text-anchor="start" transform="rotate(-90 1239.30 1400.13)">p=0.54</text>
<path d="M1264.58 1422.11L1264.58 1667.00" stroke="#000" stroke-width="2.2" fill="none"/>
<path d="M1259.58 1422.11L1269.58 1422.11" stroke="#000" stroke-width="2.0" fill="none"/>
<path d="M1259.58 1667.00L1269.58 1667.00" stroke="#000" stroke-width="2.0" fill="none"/>
<rect x="1254.48" y="1492.85" width="20.2" height="133.39" fill="#d2d2d2"/>
<rect x="1254.48" y="1564.29" width="20.2" height="6.0" fill="#cc0000"/>
<text x="1269.38" y="1418.71" font-size="15.2" text-anchor="start" transform="rotate(-90 1269.38 1418.71)">p=0.78</text>
<path d="M1294.66 1430.80L1294.66 1671.50" stroke="#000" stroke-width="2.2" fill="none"/>
<path d="M1289.66 1430.80L1299.66 1430.80" stroke="#000" stroke-width="2.0" fill="none"/>
<path d="M1289.66 1671.50L1299.66 1671.50" stroke="#000" stroke-width="2.0" fill="none"/>
<rect x="1284.56" y="1491.05" width="20.2" height="131.29" fill="#d2d2d2"/>
<rect x="1284.56" y="1564.29" width="20.2" height="6.0" fill="#cc0000"/>
<text x="1299.46" y="1427.40" font-size="15.2" text-anchor="start" transform="rotate(-90 1299.46 1427.40)">p=0.57</text>
<path d="M1324.74 1422.41L1324.74 1676.59" stroke="#000" stroke-width="2.2" fill="none"/>
<path d="M1319.74 1422.41L1329.74 1422.41" stroke="#000" stroke-width="2.0" fill="none"/>
<path d="M1319.74 1676.59L1329.74 1676.59" stroke="#000" stroke-width="2.0" fill="none"/>
<rect x="1314.64" y="1507.84" width="20.2" height="125.59" fill="#ababab"/>
<rect x="1314.64" y="1575.08" width="20.2" height="6.0" fill="#cc0000"/>
<text x="1329.54" y="1419.01" font-size="15.2" text-anchor="start" transform="rotate(-90 1329.54 1419.01)">p=0.01</text>
<path d="M1354.82 1439.20L1354.82 1683.19" stroke="#000" stroke-width="2.2" fill="none"/>
<path d="M1349.82 1439.20L1359.82 1439.20" stroke="#000" stroke-width="2.0" fill="none"/>
<path d="M1349.82 1683.19L1359.82 1683.19" stroke="#000" stroke-width="2.0" fill="none"/>
<rect x="1344.72" y="1511.43" width="20.2" height="128.29" fill="#555555"/>
<rect x="1344.72" y="1580.17" width="20.2" height="6.0" fill="#cc0000"/>
<text x="1359.62" y="1435.80" font-size="15.2" text-anchor="start" transform="rotate(-90 1359.62 1435.80)">p&lt;0.001</text>
<path d="M1064.50 1244.30L1064.50 1716.05" stroke="#000" stroke-width="4.4" fill="none"/>
<path d="M1044.60 1713.80L1378.82 1713.80" stroke="#000" stroke-width="4.5" fill="none"/>
<path d="M1044.60 1246.55L1064.50 1246.55" stroke="#000" stroke-width="4.5" fill="none"/>
<text x="1042.40" y="1257.45" font-size="30.6" text-anchor="end">5</text>
<path d="M1044.60 1313.30L1064.50 1313.30" stroke="#000" stroke-width="4.5" fill="none"/>
<text x="1042.40" y="1324.20" font-size="30.6" text-anchor="end">4</text>
<path d="M1044.60 1380.05L1064.50 1380.05" stroke="#000" stroke-width="4.5" fill="none"/>
<text x="1042.40" y="1390.95" font-size="30.6" text-anchor="end">3</text>
<path d="M1044.60 1446.80L1064.50 1446.80" stroke="#000" stroke-width="4.5" fill="none"/>
<text x="1042.40" y="1457.70" font-size="30.6" text-anchor="end">2</text>
<path d="M1044.60 1513.55L1064.50 1513.55" stroke="#000" stroke-width="4.5" fill="none"/>
<text x="1042.40" y="1524.45" font-size="30.6" text-anchor="end">1</text>
<path d="M1044.60 1580.30L1064.50 1580.30" stroke="#000" stroke-width="4.5" fill="none"/>
<text x="1042.40" y="1591.20" font-size="30.6" text-anchor="end">0</text>
<path d="M1044.60 1647.05L1064.50 1647.05" stroke="#000" stroke-width="4.5" fill="none"/>
<text x="1042.40" y="1657.95" font-size="30.6" text-anchor="end">-1</text>
<text x="1042.40" y="1724.70" font-size="30.6" text-anchor="end">-2</text>
<path d="M1084.10 1713.80L1084.10 1734.10" stroke="#000" stroke-width="4.4" fill="none"/>
<text x="1084.10" y="1759.10" font-size="30.6" text-anchor="middle">1</text>
<path d="M1114.18 1713.80L1114.18 1734.10" stroke="#000" stroke-width="4.4" fill="none"/>
<text x="1114.18" y="1759.10" font-size="30.6" text-anchor="middle">2</text>
<path d="M1144.26 1713.80L1144.26 1734.10" stroke="#000" stroke-width="4.4" fill="none"/>
<text x="1144.26" y="1759.10" font-size="30.6" text-anchor="middle">3</text>
<path d="M1174.34 1713.80L1174.34 1734.10" stroke="#000" stroke-width="4.4" fill="none"/>
<text x="1174.34" y="1759.10" font-size="30.6" text-anchor="middle">4</text>
<path d="M1204.42 1713.80L1204.42 1734.10" stroke="#000" stroke-width="4.4" fill="none"/>
<text x="1204.42" y="1759.10" font-size="30.6" text-anchor="middle">5</text>
<path d="M1234.50 1713.80L1234.50 1734.10" stroke="#000" stroke-width="4.4" fill="none"/>
<text x="1234.50" y="1759.10" font-size="30.6" text-anchor="middle">6</text>
<path d="M1264.58 1713.80L1264.58 1734.10" stroke="#000" stroke-width="4.4" fill="none"/>
<text x="1264.58" y="1759.10" font-size="30.6" text-anchor="middle">7</text>
<path d="M1294.66 1713.80L1294.66 1734.10" stroke="#000" stroke-width="4.4" fill="none"/>
<text x="1294.66" y="1759.10" font-size="30.6" text-anchor="middle">8</text>
<path d="M1324.74 1713.80L1324.74 1734.10" stroke="#000" stroke-width="4.4" fill="none"/>
<text x="1324.74" y="1759.10" font-size="30.6" text-anchor="middle">9</text>
<path d="M1354.82 1713.80L1354.82 1734.10" stroke="#000" stroke-width="4.4" fill="none"/>
<text x="1354.82" y="1759.10" font-size="30.6" text-anchor="middle">10</text>
<text x="1220.06" y="1790.20" font-size="30.6" text-anchor="middle">NSP Ctu1 iKO / Ctrl</text>
<text x="1220.06" y="1822.20" font-size="30.6" text-anchor="middle">Decile rank of log<tspan font-size="19" dy="10">2</tspan><tspan dy="-10">FC</tspan></text>
<text x="1211.90" y="1240.60" font-size="30.6" text-anchor="middle">GAA</text>
<text x="972.50" y="1478.05" font-size="30.6" text-anchor="middle" transform="rotate(-90 972.50 1478.05)">GAA deviation (%)</text>
<text x="1004.70" y="1479.75" font-size="30.6" text-anchor="middle" transform="rotate(-90 1004.70 1479.75)">from transcriptome average</text>
<path d="M1519.50 1583.50L1851.22 1583.50" stroke="#000" stroke-width="2.5" fill="none"/>
<path d="M1559.00 1497.35L1559.00 1630.13" stroke="#000" stroke-width="2.2" fill="none"/>
<path d="M1554.00 1497.35L1564.00 1497.35" stroke="#000" stroke-width="2.0" fill="none"/>
<path d="M1554.00 1630.13L1564.00 1630.13" stroke="#000" stroke-width="2.0" fill="none"/>
<rect x="1548.90" y="1538.11" width="20.2" height="65.04" fill="#555555"/>
<rect x="1548.90" y="1570.88" width="20.2" height="6.0" fill="#cc0000"/>
<text x="1563.80" y="1493.95" font-size="15.2" text-anchor="start" transform="rotate(-90 1563.80 1493.95)">p&lt;0.001</text>
<path d="M1589.08 1511.14L1589.08 1630.13" stroke="#000" stroke-width="2.2" fill="none"/>
<path d="M1584.08 1511.14L1594.08 1511.14" stroke="#000" stroke-width="2.0" fill="none"/>
<path d="M1584.08 1630.13L1594.08 1630.13" stroke="#000" stroke-width="2.0" fill="none"/>
<rect x="1578.98" y="1540.81" width="20.2" height="67.44" fill="#555555"/>
<rect x="1578.98" y="1573.28" width="20.2" height="6.0" fill="#cc0000"/>
<text x="1593.88" y="1507.74" font-size="15.2" text-anchor="start" transform="rotate(-90 1593.88 1507.74)">p&lt;0.001</text>
<path d="M1619.16 1514.13L1619.16 1630.73" stroke="#000" stroke-width="2.2" fill="none"/>
<path d="M1614.16 1514.13L1624.16 1514.13" stroke="#000" stroke-width="2.0" fill="none"/>
<path d="M1614.16 1630.73L1624.16 1630.73" stroke="#000" stroke-width="2.0" fill="none"/>
<rect x="1609.06" y="1547.10" width="20.2" height="62.95" fill="#ababab"/>
<rect x="1609.06" y="1578.08" width="20.2" height="6.0" fill="#cc0000"/>
<text x="1623.96" y="1510.73" font-size="15.2" text-anchor="start" transform="rotate(-90 1623.96 1510.73)">p=0.02</text>
<path d="M1649.24 1512.03L1649.24 1630.73" stroke="#000" stroke-width="2.2" fill="none"/>
<path d="M1644.24 1512.03L1654.24 1512.03" stroke="#000" stroke-width="2.0" fill="none"/>
<path d="M1644.24 1630.73L1654.24 1630.73" stroke="#000" stroke-width="2.0" fill="none"/>
<rect x="1639.14" y="1553.10" width="20.2" height="59.05" fill="#d2d2d2"/>
<rect x="1639.14" y="1582.87" width="20.2" height="6.0" fill="#cc0000"/>
<text x="1654.04" y="1508.63" font-size="15.2" text-anchor="start" transform="rotate(-90 1654.04 1508.63)">p=0.51</text>
<path d="M1679.32 1512.03L1679.32 1633.73" stroke="#000" stroke-width="2.2" fill="none"/>
<path d="M1674.32 1512.03L1684.32 1512.03" stroke="#000" stroke-width="2.0" fill="none"/>
<path d="M1674.32 1633.73L1684.32 1633.73" stroke="#000" stroke-width="2.0" fill="none"/>
<rect x="1669.22" y="1556.10" width="20.2" height="56.05" fill="#d2d2d2"/>
<rect x="1669.22" y="1583.47" width="20.2" height="6.0" fill="#cc0000"/>
<text x="1684.12" y="1508.63" font-size="15.2" text-anchor="start" transform="rotate(-90 1684.12 1508.63)">p&gt;0.99</text>
<path d="M1709.40 1503.64L1709.40 1631.63" stroke="#000" stroke-width="2.2" fill="none"/>
<path d="M1704.40 1503.64L1714.40 1503.64" stroke="#000" stroke-width="2.0" fill="none"/>
<path d="M1704.40 1631.63L1714.40 1631.63" stroke="#000" stroke-width="2.0" fill="none"/>
<rect x="1699.30" y="1547.10" width="20.2" height="65.34" fill="#d2d2d2"/>
<rect x="1699.30" y="1583.47" width="20.2" height="6.0" fill="#cc0000"/>
<text x="1714.20" y="1500.24" font-size="15.2" text-anchor="start" transform="rotate(-90 1714.20 1500.24)">p=0.11</text>
<path d="M1739.48 1507.84L1739.48 1633.43" stroke="#000" stroke-width="2.2" fill="none"/>
<path d="M1734.48 1507.84L1744.48 1507.84" stroke="#000" stroke-width="2.0" fill="none"/>
<path d="M1734.48 1633.43L1744.48 1633.43" stroke="#000" stroke-width="2.0" fill="none"/>
<rect x="1729.38" y="1553.70" width="20.2" height="60.85" fill="#d2d2d2"/>
<rect x="1729.38" y="1585.57" width="20.2" height="6.0" fill="#cc0000"/>
<text x="1744.28" y="1504.44" font-size="15.2" text-anchor="start" transform="rotate(-90 1744.28 1504.44)">p=0.70</text>
<path d="M1769.56 1520.13L1769.56 1637.93" stroke="#000" stroke-width="2.2" fill="none"/>
<path d="M1764.56 1520.13L1774.56 1520.13" stroke="#000" stroke-width="2.0" fill="none"/>
<path d="M1764.56 1637.93L1774.56 1637.93" stroke="#000" stroke-width="2.0" fill="none"/>
<rect x="1759.46" y="1556.70" width="20.2" height="58.45" fill="#d2d2d2"/>
<rect x="1759.46" y="1584.37" width="20.2" height="6.0" fill="#cc0000"/>
<text x="1774.36" y="1516.73" font-size="15.2" text-anchor="start" transform="rotate(-90 1774.36 1516.73)">p=0.41</text>
<path d="M1799.64 1519.83L1799.64 1631.93" stroke="#000" stroke-width="2.2" fill="none"/>
<path d="M1794.64 1519.83L1804.64 1519.83" stroke="#000" stroke-width="2.0" fill="none"/>
<path d="M1794.64 1631.93L1804.64 1631.93" stroke="#000" stroke-width="2.0" fill="none"/>
<rect x="1789.54" y="1555.20" width="20.2" height="59.05" fill="#d2d2d2"/>
<rect x="1789.54" y="1581.37" width="20.2" height="6.0" fill="#cc0000"/>
<text x="1804.44" y="1516.43" font-size="15.2" text-anchor="start" transform="rotate(-90 1804.44 1516.43)">p=0.81</text>
<path d="M1829.72 1516.23L1829.72 1632.83" stroke="#000" stroke-width="2.2" fill="none"/>
<path d="M1824.72 1516.23L1834.72 1516.23" stroke="#000" stroke-width="2.0" fill="none"/>
<path d="M1824.72 1632.83L1834.72 1632.83" stroke="#000" stroke-width="2.0" fill="none"/>
<rect x="1819.62" y="1557.00" width="20.2" height="56.05" fill="#d2d2d2"/>
<rect x="1819.62" y="1585.57" width="20.2" height="6.0" fill="#cc0000"/>
<text x="1834.52" y="1512.83" font-size="15.2" text-anchor="start" transform="rotate(-90 1834.52 1512.83)">p=0.54</text>
<path d="M1539.40 1244.30L1539.40 1716.05" stroke="#000" stroke-width="4.4" fill="none"/>
<path d="M1519.50 1713.80L1853.72 1713.80" stroke="#000" stroke-width="4.5" fill="none"/>
<path d="M1519.50 1246.55L1539.40 1246.55" stroke="#000" stroke-width="4.5" fill="none"/>
<text x="1517.30" y="1257.45" font-size="30.6" text-anchor="end">5</text>
<path d="M1519.50 1313.30L1539.40 1313.30" stroke="#000" stroke-width="4.5" fill="none"/>
<text x="1517.30" y="1324.20" font-size="30.6" text-anchor="end">4</text>
<path d="M1519.50 1380.05L1539.40 1380.05" stroke="#000" stroke-width="4.5" fill="none"/>
<text x="1517.30" y="1390.95" font-size="30.6" text-anchor="end">3</text>
<path d="M1519.50 1446.80L1539.40 1446.80" stroke="#000" stroke-width="4.5" fill="none"/>
<text x="1517.30" y="1457.70" font-size="30.6" text-anchor="end">2</text>
<path d="M1519.50 1513.55L1539.40 1513.55" stroke="#000" stroke-width="4.5" fill="none"/>
<text x="1517.30" y="1524.45" font-size="30.6" text-anchor="end">1</text>
<path d="M1519.50 1580.30L1539.40 1580.30" stroke="#000" stroke-width="4.5" fill="none"/>
<text x="1517.30" y="1591.20" font-size="30.6" text-anchor="end">0</text>
<path d="M1519.50 1647.05L1539.40 1647.05" stroke="#000" stroke-width="4.5" fill="none"/>
<text x="1517.30" y="1657.95" font-size="30.6" text-anchor="end">-1</text>
<text x="1517.30" y="1724.70" font-size="30.6" text-anchor="end">-2</text>
<path d="M1559.00 1713.80L1559.00 1734.10" stroke="#000" stroke-width="4.4" fill="none"/>
<text x="1559.00" y="1759.10" font-size="30.6" text-anchor="middle">1</text>
<path d="M1589.08 1713.80L1589.08 1734.10" stroke="#000" stroke-width="4.4" fill="none"/>
<text x="1589.08" y="1759.10" font-size="30.6" text-anchor="middle">2</text>
<path d="M1619.16 1713.80L1619.16 1734.10" stroke="#000" stroke-width="4.4" fill="none"/>
<text x="1619.16" y="1759.10" font-size="30.6" text-anchor="middle">3</text>
<path d="M1649.24 1713.80L1649.24 1734.10" stroke="#000" stroke-width="4.4" fill="none"/>
<text x="1649.24" y="1759.10" font-size="30.6" text-anchor="middle">4</text>
<path d="M1679.32 1713.80L1679.32 1734.10" stroke="#000" stroke-width="4.4" fill="none"/>
<text x="1679.32" y="1759.10" font-size="30.6" text-anchor="middle">5</text>
<path d="M1709.40 1713.80L1709.40 1734.10" stroke="#000" stroke-width="4.4" fill="none"/>
<text x="1709.40" y="1759.10" font-size="30.6" text-anchor="middle">6</text>
<path d="M1739.48 1713.80L1739.48 1734.10" stroke="#000" stroke-width="4.4" fill="none"/>
<text x="1739.48" y="1759.10" font-size="30.6" text-anchor="middle">7</text>
<path d="M1769.56 1713.80L1769.56 1734.10" stroke="#000" stroke-width="4.4" fill="none"/>
<text x="1769.56" y="1759.10" font-size="30.6" text-anchor="middle">8</text>
<path d="M1799.64 1713.80L1799.64 1734.10" stroke="#000" stroke-width="4.4" fill="none"/>
<text x="1799.64" y="1759.10" font-size="30.6" text-anchor="middle">9</text>
<path d="M1829.72 1713.80L1829.72 1734.10" stroke="#000" stroke-width="4.4" fill="none"/>
<text x="1829.72" y="1759.10" font-size="30.6" text-anchor="middle">10</text>
<text x="1694.96" y="1790.20" font-size="30.6" text-anchor="middle">NSP Ctu1 iKO / Ctrl</text>
<text x="1694.96" y="1822.20" font-size="30.6" text-anchor="middle">Decile rank of log<tspan font-size="19" dy="10">2</tspan><tspan dy="-10">FC</tspan></text>
<text x="1686.20" y="1240.60" font-size="30.6" text-anchor="middle">CAA</text>
<text x="1447.40" y="1478.05" font-size="30.6" text-anchor="middle" transform="rotate(-90 1447.40 1478.05)">CAA deviation (%)</text>
<text x="1479.60" y="1479.75" font-size="30.6" text-anchor="middle" transform="rotate(-90 1479.60 1479.75)">from transcriptome average</text>
<rect x="684" y="1856.60" width="19" height="13.6" fill="#555555"/>
<text x="707.00" y="1870.80" font-size="30.6" text-anchor="start">p&lt;0.001</text>
<rect x="837.2" y="1856.60" width="19" height="13.6" fill="#858585"/>
<text x="859.90" y="1870.80" font-size="30.6" text-anchor="start">p&lt;0.01</text>
<rect x="972.6" y="1856.60" width="19" height="13.6" fill="#ababab"/>
<text x="994.70" y="1870.80" font-size="30.6" text-anchor="start">p&lt;0.05</text>
<rect x="1112.8" y="1856.60" width="19" height="13.6" fill="#d2d2d2"/>
<text x="1135.30" y="1870.80" font-size="30.6" text-anchor="start">p≥0.05</text>
<path d="M98.70 2235.96L430.57 2235.96" stroke="#000" stroke-width="2.5" fill="none"/>
<path d="M138.35 1977.32L138.35 2340.61" stroke="#000" stroke-width="2.2" fill="none"/>
<path d="M133.35 1977.32L143.35 1977.32" stroke="#000" stroke-width="2.0" fill="none"/>
<path d="M133.35 2340.61L143.35 2340.61" stroke="#000" stroke-width="2.0" fill="none"/>
<rect x="128.25" y="2083.43" width="20.2" height="199.03" fill="#555555"/>
<rect x="128.25" y="2194.13" width="20.2" height="6.0" fill="#cc0000"/>
<text x="143.15" y="1973.92" font-size="15.2" text-anchor="start" transform="rotate(-90 143.15 1973.92)">p&lt;0.001</text>
<path d="M168.43 2010.89L168.43 2348.40" stroke="#000" stroke-width="2.2" fill="none"/>
<path d="M163.43 2010.89L173.43 2010.89" stroke="#000" stroke-width="2.0" fill="none"/>
<path d="M163.43 2348.40L173.43 2348.40" stroke="#000" stroke-width="2.0" fill="none"/>
<rect x="158.33" y="2096.02" width="20.2" height="185.84" fill="#555555"/>
<rect x="158.33" y="2189.94" width="20.2" height="6.0" fill="#cc0000"/>
<text x="173.23" y="2007.49" font-size="15.2" text-anchor="start" transform="rotate(-90 173.23 2007.49)">p&lt;0.001</text>
<path d="M198.51 2042.36L198.51 2349.60" stroke="#000" stroke-width="2.2" fill="none"/>
<path d="M193.51 2042.36L203.51 2042.36" stroke="#000" stroke-width="2.0" fill="none"/>
<path d="M193.51 2349.60L203.51 2349.60" stroke="#000" stroke-width="2.0" fill="none"/>
<rect x="188.41" y="2118.20" width="20.2" height="166.06" fill="#555555"/>
<rect x="188.41" y="2207.92" width="20.2" height="6.0" fill="#cc0000"/>
<text x="203.31" y="2038.96" font-size="15.2" text-anchor="start" transform="rotate(-90 203.31 2038.96)">p&lt;0.001</text>
<path d="M228.59 2045.66L228.59 2342.11" stroke="#000" stroke-width="2.2" fill="none"/>
<path d="M223.59 2045.66L233.59 2045.66" stroke="#000" stroke-width="2.0" fill="none"/>
<path d="M223.59 2342.11L233.59 2342.11" stroke="#000" stroke-width="2.0" fill="none"/>
<rect x="218.49" y="2137.38" width="20.2" height="156.47" fill="#555555"/>
<rect x="218.49" y="2216.31" width="20.2" height="6.0" fill="#cc0000"/>
<text x="233.39" y="2042.26" font-size="15.2" text-anchor="start" transform="rotate(-90 233.39 2042.26)">p&lt;0.001</text>
<path d="M258.67 2072.94L258.67 2348.40" stroke="#000" stroke-width="2.2" fill="none"/>
<path d="M253.67 2072.94L263.67 2072.94" stroke="#000" stroke-width="2.0" fill="none"/>
<path d="M253.67 2348.40L263.67 2348.40" stroke="#000" stroke-width="2.0" fill="none"/>
<rect x="248.57" y="2149.97" width="20.2" height="152.87" fill="#ababab"/>
<rect x="248.57" y="2228.60" width="20.2" height="6.0" fill="#cc0000"/>
<text x="263.47" y="2069.54" font-size="15.2" text-anchor="start" transform="rotate(-90 263.47 2069.54)">p=0.03</text>
<path d="M288.75 2073.84L288.75 2349.30" stroke="#000" stroke-width="2.2" fill="none"/>
<path d="M283.75 2073.84L293.75 2073.84" stroke="#000" stroke-width="2.0" fill="none"/>
<path d="M283.75 2349.30L293.75 2349.30" stroke="#000" stroke-width="2.0" fill="none"/>
<rect x="278.65" y="2145.48" width="20.2" height="163.36" fill="#d2d2d2"/>
<rect x="278.65" y="2237.60" width="20.2" height="6.0" fill="#cc0000"/>
<text x="293.55" y="2070.44" font-size="15.2" text-anchor="start" transform="rotate(-90 293.55 2070.44)">p=0.10</text>
<path d="M318.83 2099.91L318.83 2360.69" stroke="#000" stroke-width="2.2" fill="none"/>
<path d="M313.83 2099.91L323.83 2099.91" stroke="#000" stroke-width="2.0" fill="none"/>
<path d="M313.83 2360.69L323.83 2360.69" stroke="#000" stroke-width="2.0" fill="none"/>
<rect x="308.73" y="2171.85" width="20.2" height="142.08" fill="#d2d2d2"/>
<rect x="308.73" y="2238.49" width="20.2" height="6.0" fill="#cc0000"/>
<text x="323.63" y="2096.51" font-size="15.2" text-anchor="start" transform="rotate(-90 323.63 2096.51)">p=0.33</text>
<path d="M348.91 2104.71L348.91 2369.09" stroke="#000" stroke-width="2.2" fill="none"/>
<path d="M343.91 2104.71L353.91 2104.71" stroke="#000" stroke-width="2.0" fill="none"/>
<path d="M343.91 2369.09L353.91 2369.09" stroke="#000" stroke-width="2.0" fill="none"/>
<rect x="338.81" y="2180.55" width="20.2" height="148.67" fill="#555555"/>
<rect x="338.81" y="2263.07" width="20.2" height="6.0" fill="#cc0000"/>
<text x="353.71" y="2101.31" font-size="15.2" text-anchor="start" transform="rotate(-90 353.71 2101.31)">p&lt;0.001</text>
<path d="M378.99 2113.40L378.99 2375.08" stroke="#000" stroke-width="2.2" fill="none"/>
<path d="M373.99 2113.40L383.99 2113.40" stroke="#000" stroke-width="2.0" fill="none"/>
<path d="M373.99 2375.08L383.99 2375.08" stroke="#000" stroke-width="2.0" fill="none"/>
<rect x="368.89" y="2185.04" width="20.2" height="140.28" fill="#555555"/>
<rect x="368.89" y="2260.98" width="20.2" height="6.0" fill="#cc0000"/>
<text x="383.79" y="2110.00" font-size="15.2" text-anchor="start" transform="rotate(-90 383.79 2110.00)">p&lt;0.001</text>
<path d="M409.07 2137.38L409.07 2373.88" stroke="#000" stroke-width="2.2" fill="none"/>
<path d="M404.07 2137.38L414.07 2137.38" stroke="#000" stroke-width="2.0" fill="none"/>
<path d="M404.07 2373.88L414.07 2373.88" stroke="#000" stroke-width="2.0" fill="none"/>
<rect x="398.97" y="2201.23" width="20.2" height="129.79" fill="#555555"/>
<rect x="398.97" y="2272.37" width="20.2" height="6.0" fill="#cc0000"/>
<text x="413.87" y="2133.98" font-size="15.2" text-anchor="start" transform="rotate(-90 413.87 2133.98)">p&lt;0.001</text>
<path d="M118.60 1927.90L118.60 2401.45" stroke="#000" stroke-width="4.4" fill="none"/>
<path d="M98.70 2399.20L433.07 2399.20" stroke="#000" stroke-width="4.5" fill="none"/>
<path d="M98.70 1966.60L118.60 1966.60" stroke="#000" stroke-width="4.5" fill="none"/>
<text x="96.50" y="1977.50" font-size="30.6" text-anchor="end">8</text>
<path d="M98.70 2038.70L118.60 2038.70" stroke="#000" stroke-width="4.5" fill="none"/>
<text x="96.50" y="2049.60" font-size="30.6" text-anchor="end">6</text>
<path d="M98.70 2110.80L118.60 2110.80" stroke="#000" stroke-width="4.5" fill="none"/>
<text x="96.50" y="2121.70" font-size="30.6" text-anchor="end">4</text>
<path d="M98.70 2182.90L118.60 2182.90" stroke="#000" stroke-width="4.5" fill="none"/>
<text x="96.50" y="2193.80" font-size="30.6" text-anchor="end">2</text>
<path d="M98.70 2255.00L118.60 2255.00" stroke="#000" stroke-width="4.5" fill="none"/>
<text x="96.50" y="2265.90" font-size="30.6" text-anchor="end">0</text>
<path d="M98.70 2327.10L118.60 2327.10" stroke="#000" stroke-width="4.5" fill="none"/>
<text x="96.50" y="2338.00" font-size="30.6" text-anchor="end">-2</text>
<text x="96.50" y="2410.10" font-size="30.6" text-anchor="end">-4</text>
<path d="M138.35 2399.20L138.35 2419.50" stroke="#000" stroke-width="4.4" fill="none"/>
<text x="138.35" y="2444.50" font-size="30.6" text-anchor="middle">1</text>
<path d="M168.43 2399.20L168.43 2419.50" stroke="#000" stroke-width="4.4" fill="none"/>
<text x="168.43" y="2444.50" font-size="30.6" text-anchor="middle">2</text>
<path d="M198.51 2399.20L198.51 2419.50" stroke="#000" stroke-width="4.4" fill="none"/>
<text x="198.51" y="2444.50" font-size="30.6" text-anchor="middle">3</text>
<path d="M228.59 2399.20L228.59 2419.50" stroke="#000" stroke-width="4.4" fill="none"/>
<text x="228.59" y="2444.50" font-size="30.6" text-anchor="middle">4</text>
<path d="M258.67 2399.20L258.67 2419.50" stroke="#000" stroke-width="4.4" fill="none"/>
<text x="258.67" y="2444.50" font-size="30.6" text-anchor="middle">5</text>
<path d="M288.75 2399.20L288.75 2419.50" stroke="#000" stroke-width="4.4" fill="none"/>
<text x="288.75" y="2444.50" font-size="30.6" text-anchor="middle">6</text>
<path d="M318.83 2399.20L318.83 2419.50" stroke="#000" stroke-width="4.4" fill="none"/>
<text x="318.83" y="2444.50" font-size="30.6" text-anchor="middle">7</text>
<path d="M348.91 2399.20L348.91 2419.50" stroke="#000" stroke-width="4.4" fill="none"/>
<text x="348.91" y="2444.50" font-size="30.6" text-anchor="middle">8</text>
<path d="M378.99 2399.20L378.99 2419.50" stroke="#000" stroke-width="4.4" fill="none"/>
<text x="378.99" y="2444.50" font-size="30.6" text-anchor="middle">9</text>
<path d="M409.07 2399.20L409.07 2419.50" stroke="#000" stroke-width="4.4" fill="none"/>
<text x="409.07" y="2444.50" font-size="30.6" text-anchor="middle">10</text>
<text x="274.31" y="2475.60" font-size="30.6" text-anchor="middle">NSP Elp3 iKO / Ctrl</text>
<text x="274.31" y="2507.60" font-size="30.6" text-anchor="middle">Decile rank of log<tspan font-size="19" dy="10">2</tspan><tspan dy="-10">FC</tspan></text>
<text x="275.00" y="1930.30" font-size="30.6" text-anchor="middle">VAA</text>
<text x="26.60" y="2162.55" font-size="30.6" text-anchor="middle" transform="rotate(-90 26.60 2162.55)">VAA deviation (%)</text>
<text x="58.80" y="2164.25" font-size="30.6" text-anchor="middle" transform="rotate(-90 58.80 2164.25)">from transcriptome average</text>
<path d="M568.55 2247.27L900.22 2247.27" stroke="#000" stroke-width="2.5" fill="none"/>
<path d="M608.00 2020.78L608.00 2349.60" stroke="#000" stroke-width="2.2" fill="none"/>
<path d="M603.00 2020.78L613.00 2020.78" stroke="#000" stroke-width="2.0" fill="none"/>
<path d="M603.00 2349.60L613.00 2349.60" stroke="#000" stroke-width="2.0" fill="none"/>
<rect x="597.90" y="2122.70" width="20.2" height="175.35" fill="#555555"/>
<rect x="597.90" y="2214.81" width="20.2" height="6.0" fill="#cc0000"/>
<text x="612.80" y="2017.38" font-size="15.2" text-anchor="start" transform="rotate(-90 612.80 2017.38)">p&lt;0.001</text>
<path d="M638.08 2047.16L638.08 2341.21" stroke="#000" stroke-width="2.2" fill="none"/>
<path d="M633.08 2047.16L643.08 2047.16" stroke="#000" stroke-width="2.0" fill="none"/>
<path d="M633.08 2341.21L643.08 2341.21" stroke="#000" stroke-width="2.0" fill="none"/>
<rect x="627.98" y="2132.29" width="20.2" height="157.97" fill="#555555"/>
<rect x="627.98" y="2212.12" width="20.2" height="6.0" fill="#cc0000"/>
<text x="642.88" y="2043.76" font-size="15.2" text-anchor="start" transform="rotate(-90 642.88 2043.76)">p&lt;0.001</text>
<path d="M668.16 2081.93L668.16 2338.81" stroke="#000" stroke-width="2.2" fill="none"/>
<path d="M663.16 2081.93L673.16 2081.93" stroke="#000" stroke-width="2.0" fill="none"/>
<path d="M663.16 2338.81L673.16 2338.81" stroke="#000" stroke-width="2.0" fill="none"/>
<rect x="658.06" y="2151.77" width="20.2" height="137.28" fill="#555555"/>
<rect x="658.06" y="2224.11" width="20.2" height="6.0" fill="#cc0000"/>
<text x="672.96" y="2078.53" font-size="15.2" text-anchor="start" transform="rotate(-90 672.96 2078.53)">p&lt;0.001</text>
<path d="M698.24 2101.71L698.24 2340.91" stroke="#000" stroke-width="2.2" fill="none"/>
<path d="M693.24 2101.71L703.24 2101.71" stroke="#000" stroke-width="2.0" fill="none"/>
<path d="M693.24 2340.91L703.24 2340.91" stroke="#000" stroke-width="2.0" fill="none"/>
<rect x="688.14" y="2164.36" width="20.2" height="136.08" fill="#555555"/>
<rect x="688.14" y="2235.20" width="20.2" height="6.0" fill="#cc0000"/>
<text x="703.04" y="2098.31" font-size="15.2" text-anchor="start" transform="rotate(-90 703.04 2098.31)">p&lt;0.001</text>
<path d="M728.32 2105.91L728.32 2348.70" stroke="#000" stroke-width="2.2" fill="none"/>
<path d="M723.32 2105.91L733.32 2105.91" stroke="#000" stroke-width="2.0" fill="none"/>
<path d="M723.32 2348.70L733.32 2348.70" stroke="#000" stroke-width="2.0" fill="none"/>
<rect x="718.22" y="2176.95" width="20.2" height="126.49" fill="#d2d2d2"/>
<rect x="718.22" y="2240.29" width="20.2" height="6.0" fill="#cc0000"/>
<text x="733.12" y="2102.51" font-size="15.2" text-anchor="start" transform="rotate(-90 733.12 2102.51)">p=0.07</text>
<path d="M758.40 2097.82L758.40 2348.70" stroke="#000" stroke-width="2.2" fill="none"/>
<path d="M753.40 2097.82L763.40 2097.82" stroke="#000" stroke-width="2.0" fill="none"/>
<path d="M753.40 2348.70L763.40 2348.70" stroke="#000" stroke-width="2.0" fill="none"/>
<rect x="748.30" y="2166.46" width="20.2" height="142.68" fill="#d2d2d2"/>
<rect x="748.30" y="2243.89" width="20.2" height="6.0" fill="#cc0000"/>
<text x="763.20" y="2094.42" font-size="15.2" text-anchor="start" transform="rotate(-90 763.20 2094.42)">p=0.07</text>
<path d="M788.48 2138.58L788.48 2350.50" stroke="#000" stroke-width="2.2" fill="none"/>
<path d="M783.48 2138.58L793.48 2138.58" stroke="#000" stroke-width="2.0" fill="none"/>
<path d="M783.48 2350.50L793.48 2350.50" stroke="#000" stroke-width="2.0" fill="none"/>
<rect x="778.38" y="2195.53" width="20.2" height="113.00" fill="#d2d2d2"/>
<rect x="778.38" y="2257.68" width="20.2" height="6.0" fill="#cc0000"/>
<text x="793.28" y="2135.18" font-size="15.2" text-anchor="start" transform="rotate(-90 793.28 2135.18)">p=0.15</text>
<path d="M818.56 2140.38L818.56 2361.29" stroke="#000" stroke-width="2.2" fill="none"/>
<path d="M813.56 2140.38L823.56 2140.38" stroke="#000" stroke-width="2.0" fill="none"/>
<path d="M813.56 2361.29L823.56 2361.29" stroke="#000" stroke-width="2.0" fill="none"/>
<rect x="808.46" y="2205.72" width="20.2" height="119.00" fill="#555555"/>
<rect x="808.46" y="2271.17" width="20.2" height="6.0" fill="#cc0000"/>
<text x="823.36" y="2136.98" font-size="15.2" text-anchor="start" transform="rotate(-90 823.36 2136.98)">p&lt;0.001</text>
<path d="M848.64 2137.68L848.64 2357.70" stroke="#000" stroke-width="2.2" fill="none"/>
<path d="M843.64 2137.68L853.64 2137.68" stroke="#000" stroke-width="2.0" fill="none"/>
<path d="M843.64 2357.70L853.64 2357.70" stroke="#000" stroke-width="2.0" fill="none"/>
<rect x="838.54" y="2205.12" width="20.2" height="116.60" fill="#555555"/>
<rect x="838.54" y="2263.07" width="20.2" height="6.0" fill="#cc0000"/>
<text x="853.44" y="2134.28" font-size="15.2" text-anchor="start" transform="rotate(-90 853.44 2134.28)">p&lt;0.001</text>
<path d="M878.72 2155.97L878.72 2360.39" stroke="#000" stroke-width="2.2" fill="none"/>
<path d="M873.72 2155.97L883.72 2155.97" stroke="#000" stroke-width="2.0" fill="none"/>
<path d="M873.72 2360.39L883.72 2360.39" stroke="#000" stroke-width="2.0" fill="none"/>
<rect x="868.62" y="2219.51" width="20.2" height="112.40" fill="#555555"/>
<rect x="868.62" y="2280.16" width="20.2" height="6.0" fill="#cc0000"/>
<text x="883.52" y="2152.57" font-size="15.2" text-anchor="start" transform="rotate(-90 883.52 2152.57)">p&lt;0.001</text>
<path d="M588.45 1927.40L588.45 2400.55" stroke="#000" stroke-width="4.4" fill="none"/>
<path d="M568.55 2398.30L902.72 2398.30" stroke="#000" stroke-width="4.5" fill="none"/>
<path d="M568.55 1929.65L588.45 1929.65" stroke="#000" stroke-width="4.5" fill="none"/>
<text x="565.15" y="1940.55" font-size="30.6" text-anchor="end">5</text>
<path d="M568.55 1996.60L588.45 1996.60" stroke="#000" stroke-width="4.5" fill="none"/>
<text x="565.15" y="2007.50" font-size="30.6" text-anchor="end">4</text>
<path d="M568.55 2063.55L588.45 2063.55" stroke="#000" stroke-width="4.5" fill="none"/>
<text x="565.15" y="2074.45" font-size="30.6" text-anchor="end">3</text>
<path d="M568.55 2130.50L588.45 2130.50" stroke="#000" stroke-width="4.5" fill="none"/>
<text x="565.15" y="2141.40" font-size="30.6" text-anchor="end">2</text>
<path d="M568.55 2197.45L588.45 2197.45" stroke="#000" stroke-width="4.5" fill="none"/>
<text x="565.15" y="2208.35" font-size="30.6" text-anchor="end">1</text>
<path d="M568.55 2264.40L588.45 2264.40" stroke="#000" stroke-width="4.5" fill="none"/>
<text x="565.15" y="2275.30" font-size="30.6" text-anchor="end">0</text>
<path d="M568.55 2331.35L588.45 2331.35" stroke="#000" stroke-width="4.5" fill="none"/>
<text x="565.15" y="2342.25" font-size="30.6" text-anchor="end">-1</text>
<text x="565.15" y="2409.20" font-size="30.6" text-anchor="end">-2</text>
<path d="M608.00 2398.30L608.00 2418.60" stroke="#000" stroke-width="4.4" fill="none"/>
<text x="608.00" y="2443.60" font-size="30.6" text-anchor="middle">1</text>
<path d="M638.08 2398.30L638.08 2418.60" stroke="#000" stroke-width="4.4" fill="none"/>
<text x="638.08" y="2443.60" font-size="30.6" text-anchor="middle">2</text>
<path d="M668.16 2398.30L668.16 2418.60" stroke="#000" stroke-width="4.4" fill="none"/>
<text x="668.16" y="2443.60" font-size="30.6" text-anchor="middle">3</text>
<path d="M698.24 2398.30L698.24 2418.60" stroke="#000" stroke-width="4.4" fill="none"/>
<text x="698.24" y="2443.60" font-size="30.6" text-anchor="middle">4</text>
<path d="M728.32 2398.30L728.32 2418.60" stroke="#000" stroke-width="4.4" fill="none"/>
<text x="728.32" y="2443.60" font-size="30.6" text-anchor="middle">5</text>
<path d="M758.40 2398.30L758.40 2418.60" stroke="#000" stroke-width="4.4" fill="none"/>
<text x="758.40" y="2443.60" font-size="30.6" text-anchor="middle">6</text>
<path d="M788.48 2398.30L788.48 2418.60" stroke="#000" stroke-width="4.4" fill="none"/>
<text x="788.48" y="2443.60" font-size="30.6" text-anchor="middle">7</text>
<path d="M818.56 2398.30L818.56 2418.60" stroke="#000" stroke-width="4.4" fill="none"/>
<text x="818.56" y="2443.60" font-size="30.6" text-anchor="middle">8</text>
<path d="M848.64 2398.30L848.64 2418.60" stroke="#000" stroke-width="4.4" fill="none"/>
<text x="848.64" y="2443.60" font-size="30.6" text-anchor="middle">9</text>
<path d="M878.72 2398.30L878.72 2418.60" stroke="#000" stroke-width="4.4" fill="none"/>
<text x="878.72" y="2443.60" font-size="30.6" text-anchor="middle">10</text>
<text x="743.96" y="2474.70" font-size="30.6" text-anchor="middle">NSP Elp3 iKO / Ctrl</text>
<text x="743.96" y="2506.70" font-size="30.6" text-anchor="middle">Decile rank of log<tspan font-size="19" dy="10">2</tspan><tspan dy="-10">FC</tspan></text>
<text x="745.20" y="1930.30" font-size="30.6" text-anchor="middle">AAA</text>
<text x="496.45" y="2161.85" font-size="30.6" text-anchor="middle" transform="rotate(-90 496.45 2161.85)">AAA deviation (%)</text>
<text x="528.65" y="2163.55" font-size="30.6" text-anchor="middle" transform="rotate(-90 528.65 2163.55)">from transcriptome average</text>
<path d="M1044.50 2242.90L1376.29 2242.90" stroke="#000" stroke-width="2.5" fill="none"/>
<path d="M1084.07 2002.50L1084.07 2342.71" stroke="#000" stroke-width="2.2" fill="none"/>
<path d="M1079.07 2002.50L1089.07 2002.50" stroke="#000" stroke-width="2.0" fill="none"/>
<path d="M1079.07 2342.71L1089.07 2342.71" stroke="#000" stroke-width="2.0" fill="none"/>
<rect x="1073.97" y="2115.80" width="20.2" height="174.45" fill="#555555"/>
<rect x="1073.97" y="2211.52" width="20.2" height="6.0" fill="#cc0000"/>
<text x="1088.87" y="1999.10" font-size="15.2" text-anchor="start" transform="rotate(-90 1088.87 1999.10)">p&lt;0.001</text>
<path d="M1114.15 2020.78L1114.15 2349.00" stroke="#000" stroke-width="2.2" fill="none"/>
<path d="M1109.15 2020.78L1119.15 2020.78" stroke="#000" stroke-width="2.0" fill="none"/>
<path d="M1109.15 2349.00L1119.15 2349.00" stroke="#000" stroke-width="2.0" fill="none"/>
<rect x="1104.05" y="2121.20" width="20.2" height="176.55" fill="#555555"/>
<rect x="1104.05" y="2210.62" width="20.2" height="6.0" fill="#cc0000"/>
<text x="1118.95" y="2017.38" font-size="15.2" text-anchor="start" transform="rotate(-90 1118.95 2017.38)">p&lt;0.001</text>
<path d="M1144.23 2061.25L1144.23 2349.60" stroke="#000" stroke-width="2.2" fill="none"/>
<path d="M1139.23 2061.25L1149.23 2061.25" stroke="#000" stroke-width="2.0" fill="none"/>
<path d="M1139.23 2349.60L1149.23 2349.60" stroke="#000" stroke-width="2.0" fill="none"/>
<rect x="1134.13" y="2140.98" width="20.2" height="155.87" fill="#555555"/>
<rect x="1134.13" y="2211.52" width="20.2" height="6.0" fill="#cc0000"/>
<text x="1149.03" y="2057.85" font-size="15.2" text-anchor="start" transform="rotate(-90 1149.03 2057.85)">p&lt;0.001</text>
<path d="M1174.31 2067.24L1174.31 2343.01" stroke="#000" stroke-width="2.2" fill="none"/>
<path d="M1169.31 2067.24L1179.31 2067.24" stroke="#000" stroke-width="2.0" fill="none"/>
<path d="M1169.31 2343.01L1179.31 2343.01" stroke="#000" stroke-width="2.0" fill="none"/>
<rect x="1164.21" y="2153.57" width="20.2" height="139.98" fill="#555555"/>
<rect x="1164.21" y="2231.60" width="20.2" height="6.0" fill="#cc0000"/>
<text x="1179.11" y="2063.84" font-size="15.2" text-anchor="start" transform="rotate(-90 1179.11 2063.84)">p&lt;0.001</text>
<path d="M1204.39 2102.01L1204.39 2352.00" stroke="#000" stroke-width="2.2" fill="none"/>
<path d="M1199.39 2102.01L1209.39 2102.01" stroke="#000" stroke-width="2.0" fill="none"/>
<path d="M1199.39 2352.00L1209.39 2352.00" stroke="#000" stroke-width="2.0" fill="none"/>
<rect x="1194.29" y="2167.36" width="20.2" height="136.08" fill="#d2d2d2"/>
<rect x="1194.29" y="2234.30" width="20.2" height="6.0" fill="#cc0000"/>
<text x="1209.19" y="2098.61" font-size="15.2" text-anchor="start" transform="rotate(-90 1209.19 2098.61)">p=0.05</text>
<path d="M1234.47 2092.12L1234.47 2349.30" stroke="#000" stroke-width="2.2" fill="none"/>
<path d="M1229.47 2092.12L1239.47 2092.12" stroke="#000" stroke-width="2.0" fill="none"/>
<path d="M1229.47 2349.30L1239.47 2349.30" stroke="#000" stroke-width="2.0" fill="none"/>
<rect x="1224.37" y="2164.96" width="20.2" height="140.58" fill="#d2d2d2"/>
<rect x="1224.37" y="2243.29" width="20.2" height="6.0" fill="#cc0000"/>
<text x="1239.27" y="2088.72" font-size="15.2" text-anchor="start" transform="rotate(-90 1239.27 2088.72)">p=0.37</text>
<path d="M1264.55 2109.21L1264.55 2359.79" stroke="#000" stroke-width="2.2" fill="none"/>
<path d="M1259.55 2109.21L1269.55 2109.21" stroke="#000" stroke-width="2.0" fill="none"/>
<path d="M1259.55 2359.79L1269.55 2359.79" stroke="#000" stroke-width="2.0" fill="none"/>
<rect x="1254.45" y="2178.75" width="20.2" height="131.29" fill="#d2d2d2"/>
<rect x="1254.45" y="2248.09" width="20.2" height="6.0" fill="#cc0000"/>
<text x="1269.35" y="2105.81" font-size="15.2" text-anchor="start" transform="rotate(-90 1269.35 2105.81)">p=0.62</text>
<path d="M1294.63 2109.21L1294.63 2360.69" stroke="#000" stroke-width="2.2" fill="none"/>
<path d="M1289.63 2109.21L1299.63 2109.21" stroke="#000" stroke-width="2.0" fill="none"/>
<path d="M1289.63 2360.69L1299.63 2360.69" stroke="#000" stroke-width="2.0" fill="none"/>
<rect x="1284.53" y="2195.23" width="20.2" height="124.99" fill="#858585"/>
<rect x="1284.53" y="2260.68" width="20.2" height="6.0" fill="#cc0000"/>
<text x="1299.43" y="2105.81" font-size="15.2" text-anchor="start" transform="rotate(-90 1299.43 2105.81)">p=0.002</text>
<path d="M1324.71 2121.50L1324.71 2365.79" stroke="#000" stroke-width="2.2" fill="none"/>
<path d="M1319.71 2121.50L1329.71 2121.50" stroke="#000" stroke-width="2.0" fill="none"/>
<path d="M1319.71 2365.79L1329.71 2365.79" stroke="#000" stroke-width="2.0" fill="none"/>
<rect x="1314.61" y="2194.33" width="20.2" height="126.79" fill="#555555"/>
<rect x="1314.61" y="2257.38" width="20.2" height="6.0" fill="#cc0000"/>
<text x="1329.51" y="2118.10" font-size="15.2" text-anchor="start" transform="rotate(-90 1329.51 2118.10)">p&lt;0.001</text>
<path d="M1354.79 2138.28L1354.79 2369.68" stroke="#000" stroke-width="2.2" fill="none"/>
<path d="M1349.79 2138.28L1359.79 2138.28" stroke="#000" stroke-width="2.0" fill="none"/>
<path d="M1349.79 2369.68L1359.79 2369.68" stroke="#000" stroke-width="2.0" fill="none"/>
<rect x="1344.69" y="2206.92" width="20.2" height="118.40" fill="#555555"/>
<rect x="1344.69" y="2273.26" width="20.2" height="6.0" fill="#cc0000"/>
<text x="1359.59" y="2134.88" font-size="15.2" text-anchor="start" transform="rotate(-90 1359.59 2134.88)">p&lt;0.001</text>
<path d="M1064.40 1927.40L1064.40 2400.55" stroke="#000" stroke-width="4.4" fill="none"/>
<path d="M1044.50 2398.30L1378.79 2398.30" stroke="#000" stroke-width="4.5" fill="none"/>
<path d="M1044.50 1929.65L1064.40 1929.65" stroke="#000" stroke-width="4.5" fill="none"/>
<text x="1042.30" y="1940.55" font-size="30.6" text-anchor="end">5</text>
<path d="M1044.50 1996.60L1064.40 1996.60" stroke="#000" stroke-width="4.5" fill="none"/>
<text x="1042.30" y="2007.50" font-size="30.6" text-anchor="end">4</text>
<path d="M1044.50 2063.55L1064.40 2063.55" stroke="#000" stroke-width="4.5" fill="none"/>
<text x="1042.30" y="2074.45" font-size="30.6" text-anchor="end">3</text>
<path d="M1044.50 2130.50L1064.40 2130.50" stroke="#000" stroke-width="4.5" fill="none"/>
<text x="1042.30" y="2141.40" font-size="30.6" text-anchor="end">2</text>
<path d="M1044.50 2197.45L1064.40 2197.45" stroke="#000" stroke-width="4.5" fill="none"/>
<text x="1042.30" y="2208.35" font-size="30.6" text-anchor="end">1</text>
<path d="M1044.50 2264.40L1064.40 2264.40" stroke="#000" stroke-width="4.5" fill="none"/>
<text x="1042.30" y="2275.30" font-size="30.6" text-anchor="end">0</text>
<path d="M1044.50 2331.35L1064.40 2331.35" stroke="#000" stroke-width="4.5" fill="none"/>
<text x="1042.30" y="2342.25" font-size="30.6" text-anchor="end">-1</text>
<text x="1042.30" y="2409.20" font-size="30.6" text-anchor="end">-2</text>
<path d="M1084.07 2398.30L1084.07 2418.60" stroke="#000" stroke-width="4.4" fill="none"/>
<text x="1084.07" y="2443.60" font-size="30.6" text-anchor="middle">1</text>
<path d="M1114.15 2398.30L1114.15 2418.60" stroke="#000" stroke-width="4.4" fill="none"/>
<text x="1114.15" y="2443.60" font-size="30.6" text-anchor="middle">2</text>
<path d="M1144.23 2398.30L1144.23 2418.60" stroke="#000" stroke-width="4.4" fill="none"/>
<text x="1144.23" y="2443.60" font-size="30.6" text-anchor="middle">3</text>
<path d="M1174.31 2398.30L1174.31 2418.60" stroke="#000" stroke-width="4.4" fill="none"/>
<text x="1174.31" y="2443.60" font-size="30.6" text-anchor="middle">4</text>
<path d="M1204.39 2398.30L1204.39 2418.60" stroke="#000" stroke-width="4.4" fill="none"/>
<text x="1204.39" y="2443.60" font-size="30.6" text-anchor="middle">5</text>
<path d="M1234.47 2398.30L1234.47 2418.60" stroke="#000" stroke-width="4.4" fill="none"/>
<text x="1234.47" y="2443.60" font-size="30.6" text-anchor="middle">6</text>
<path d="M1264.55 2398.30L1264.55 2418.60" stroke="#000" stroke-width="4.4" fill="none"/>
<text x="1264.55" y="2443.60" font-size="30.6" text-anchor="middle">7</text>
<path d="M1294.63 2398.30L1294.63 2418.60" stroke="#000" stroke-width="4.4" fill="none"/>
<text x="1294.63" y="2443.60" font-size="30.6" text-anchor="middle">8</text>
<path d="M1324.71 2398.30L1324.71 2418.60" stroke="#000" stroke-width="4.4" fill="none"/>
<text x="1324.71" y="2443.60" font-size="30.6" text-anchor="middle">9</text>
<path d="M1354.79 2398.30L1354.79 2418.60" stroke="#000" stroke-width="4.4" fill="none"/>
<text x="1354.79" y="2443.60" font-size="30.6" text-anchor="middle">10</text>
<text x="1220.03" y="2474.70" font-size="30.6" text-anchor="middle">NSP Elp3 iKO / Ctrl</text>
<text x="1220.03" y="2506.70" font-size="30.6" text-anchor="middle">Decile rank of log<tspan font-size="19" dy="10">2</tspan><tspan dy="-10">FC</tspan></text>
<text x="1211.90" y="1930.30" font-size="30.6" text-anchor="middle">GAA</text>
<text x="972.40" y="2161.85" font-size="30.6" text-anchor="middle" transform="rotate(-90 972.40 2161.85)">GAA deviation (%)</text>
<text x="1004.60" y="2163.55" font-size="30.6" text-anchor="middle" transform="rotate(-90 1004.60 2163.55)">from transcriptome average</text>
<path d="M1519.10 2268.20L1851.12 2268.20" stroke="#000" stroke-width="2.5" fill="none"/>
<path d="M1558.90 2183.84L1558.90 2313.63" stroke="#000" stroke-width="2.2" fill="none"/>
<path d="M1553.90 2183.84L1563.90 2183.84" stroke="#000" stroke-width="2.0" fill="none"/>
<path d="M1553.90 2313.63L1563.90 2313.63" stroke="#000" stroke-width="2.0" fill="none"/>
<rect x="1548.80" y="2216.82" width="20.2" height="71.94" fill="#555555"/>
<rect x="1548.80" y="2255.88" width="20.2" height="6.0" fill="#cc0000"/>
<text x="1563.70" y="2180.44" font-size="15.2" text-anchor="start" transform="rotate(-90 1563.70 2180.44)">p&lt;0.001</text>
<path d="M1588.98 2185.64L1588.98 2314.83" stroke="#000" stroke-width="2.2" fill="none"/>
<path d="M1583.98 2185.64L1593.98 2185.64" stroke="#000" stroke-width="2.0" fill="none"/>
<path d="M1583.98 2314.83L1593.98 2314.83" stroke="#000" stroke-width="2.0" fill="none"/>
<rect x="1578.88" y="2225.81" width="20.2" height="64.15" fill="#555555"/>
<rect x="1578.88" y="2258.28" width="20.2" height="6.0" fill="#cc0000"/>
<text x="1593.78" y="2182.24" font-size="15.2" text-anchor="start" transform="rotate(-90 1593.78 2182.24)">p&lt;0.001</text>
<path d="M1619.06 2186.54L1619.06 2317.23" stroke="#000" stroke-width="2.2" fill="none"/>
<path d="M1614.06 2186.54L1624.06 2186.54" stroke="#000" stroke-width="2.0" fill="none"/>
<path d="M1614.06 2317.23L1624.06 2317.23" stroke="#000" stroke-width="2.0" fill="none"/>
<rect x="1608.96" y="2230.30" width="20.2" height="65.04" fill="#858585"/>
<rect x="1608.96" y="2263.37" width="20.2" height="6.0" fill="#cc0000"/>
<text x="1623.86" y="2183.14" font-size="15.2" text-anchor="start" transform="rotate(-90 1623.86 2183.14)">p=0.005</text>
<path d="M1649.14 2193.14L1649.14 2313.93" stroke="#000" stroke-width="2.2" fill="none"/>
<path d="M1644.14 2193.14L1654.14 2193.14" stroke="#000" stroke-width="2.0" fill="none"/>
<path d="M1644.14 2313.93L1654.14 2313.93" stroke="#000" stroke-width="2.0" fill="none"/>
<rect x="1639.04" y="2234.20" width="20.2" height="59.35" fill="#858585"/>
<rect x="1639.04" y="2264.27" width="20.2" height="6.0" fill="#cc0000"/>
<text x="1653.94" y="2189.74" font-size="15.2" text-anchor="start" transform="rotate(-90 1653.94 2189.74)">p=0.009</text>
<path d="M1679.22 2191.94L1679.22 2316.63" stroke="#000" stroke-width="2.2" fill="none"/>
<path d="M1674.22 2191.94L1684.22 2191.94" stroke="#000" stroke-width="2.0" fill="none"/>
<path d="M1674.22 2316.63L1684.22 2316.63" stroke="#000" stroke-width="2.0" fill="none"/>
<rect x="1669.12" y="2233.00" width="20.2" height="63.25" fill="#ababab"/>
<rect x="1669.12" y="2262.77" width="20.2" height="6.0" fill="#cc0000"/>
<text x="1684.02" y="2188.54" font-size="15.2" text-anchor="start" transform="rotate(-90 1684.02 2188.54)">p=0.04</text>
<path d="M1709.30 2203.03L1709.30 2316.03" stroke="#000" stroke-width="2.2" fill="none"/>
<path d="M1704.30 2203.03L1714.30 2203.03" stroke="#000" stroke-width="2.0" fill="none"/>
<path d="M1704.30 2316.03L1714.30 2316.03" stroke="#000" stroke-width="2.0" fill="none"/>
<rect x="1699.20" y="2238.70" width="20.2" height="58.15" fill="#d2d2d2"/>
<rect x="1699.20" y="2263.97" width="20.2" height="6.0" fill="#cc0000"/>
<text x="1714.10" y="2199.63" font-size="15.2" text-anchor="start" transform="rotate(-90 1714.10 2199.63)">p=0.22</text>
<path d="M1739.38 2202.13L1739.38 2319.63" stroke="#000" stroke-width="2.2" fill="none"/>
<path d="M1734.38 2202.13L1744.38 2202.13" stroke="#000" stroke-width="2.0" fill="none"/>
<path d="M1734.38 2319.63L1744.38 2319.63" stroke="#000" stroke-width="2.0" fill="none"/>
<rect x="1729.28" y="2240.49" width="20.2" height="57.55" fill="#d2d2d2"/>
<rect x="1729.28" y="2271.47" width="20.2" height="6.0" fill="#cc0000"/>
<text x="1744.18" y="2198.73" font-size="15.2" text-anchor="start" transform="rotate(-90 1744.18 2198.73)">p=0.63</text>
<path d="M1769.46 2211.12L1769.46 2320.23" stroke="#000" stroke-width="2.2" fill="none"/>
<path d="M1764.46 2211.12L1774.46 2211.12" stroke="#000" stroke-width="2.0" fill="none"/>
<path d="M1764.46 2320.23L1774.46 2320.23" stroke="#000" stroke-width="2.0" fill="none"/>
<rect x="1759.36" y="2244.69" width="20.2" height="56.95" fill="#ababab"/>
<rect x="1759.36" y="2274.76" width="20.2" height="6.0" fill="#cc0000"/>
<text x="1774.26" y="2207.72" font-size="15.2" text-anchor="start" transform="rotate(-90 1774.26 2207.72)">p=0.02</text>
<path d="M1799.54 2199.13L1799.54 2321.43" stroke="#000" stroke-width="2.2" fill="none"/>
<path d="M1794.54 2199.13L1804.54 2199.13" stroke="#000" stroke-width="2.0" fill="none"/>
<path d="M1794.54 2321.43L1804.54 2321.43" stroke="#000" stroke-width="2.0" fill="none"/>
<rect x="1789.44" y="2246.49" width="20.2" height="56.05" fill="#858585"/>
<rect x="1789.44" y="2275.66" width="20.2" height="6.0" fill="#cc0000"/>
<text x="1804.34" y="2195.73" font-size="15.2" text-anchor="start" transform="rotate(-90 1804.34 2195.73)">p=0.005</text>
<path d="M1829.62 2206.02L1829.62 2318.13" stroke="#000" stroke-width="2.2" fill="none"/>
<path d="M1824.62 2206.02L1834.62 2206.02" stroke="#000" stroke-width="2.0" fill="none"/>
<path d="M1824.62 2318.13L1834.62 2318.13" stroke="#000" stroke-width="2.0" fill="none"/>
<rect x="1819.52" y="2239.30" width="20.2" height="58.75" fill="#d2d2d2"/>
<rect x="1819.52" y="2268.77" width="20.2" height="6.0" fill="#cc0000"/>
<text x="1834.42" y="2202.62" font-size="15.2" text-anchor="start" transform="rotate(-90 1834.42 2202.62)">p=0.96</text>
<path d="M1539.00 1927.40L1539.00 2400.55" stroke="#000" stroke-width="4.4" fill="none"/>
<path d="M1519.10 2398.30L1853.62 2398.30" stroke="#000" stroke-width="4.5" fill="none"/>
<path d="M1519.10 1929.65L1539.00 1929.65" stroke="#000" stroke-width="4.5" fill="none"/>
<text x="1516.90" y="1940.55" font-size="30.6" text-anchor="end">5</text>
<path d="M1519.10 1996.60L1539.00 1996.60" stroke="#000" stroke-width="4.5" fill="none"/>
<text x="1516.90" y="2007.50" font-size="30.6" text-anchor="end">4</text>
<path d="M1519.10 2063.55L1539.00 2063.55" stroke="#000" stroke-width="4.5" fill="none"/>
<text x="1516.90" y="2074.45" font-size="30.6" text-anchor="end">3</text>
<path d="M1519.10 2130.50L1539.00 2130.50" stroke="#000" stroke-width="4.5" fill="none"/>
<text x="1516.90" y="2141.40" font-size="30.6" text-anchor="end">2</text>
<path d="M1519.10 2197.45L1539.00 2197.45" stroke="#000" stroke-width="4.5" fill="none"/>
<text x="1516.90" y="2208.35" font-size="30.6" text-anchor="end">1</text>
<path d="M1519.10 2264.40L1539.00 2264.40" stroke="#000" stroke-width="4.5" fill="none"/>
<text x="1516.90" y="2275.30" font-size="30.6" text-anchor="end">0</text>
<path d="M1519.10 2331.35L1539.00 2331.35" stroke="#000" stroke-width="4.5" fill="none"/>
<text x="1516.90" y="2342.25" font-size="30.6" text-anchor="end">-1</text>
<text x="1516.90" y="2409.20" font-size="30.6" text-anchor="end">-2</text>
<path d="M1558.90 2398.30L1558.90 2418.60" stroke="#000" stroke-width="4.4" fill="none"/>
<text x="1558.90" y="2443.60" font-size="30.6" text-anchor="middle">1</text>
<path d="M1588.98 2398.30L1588.98 2418.60" stroke="#000" stroke-width="4.4" fill="none"/>
<text x="1588.98" y="2443.60" font-size="30.6" text-anchor="middle">2</text>
<path d="M1619.06 2398.30L1619.06 2418.60" stroke="#000" stroke-width="4.4" fill="none"/>
<text x="1619.06" y="2443.60" font-size="30.6" text-anchor="middle">3</text>
<path d="M1649.14 2398.30L1649.14 2418.60" stroke="#000" stroke-width="4.4" fill="none"/>
<text x="1649.14" y="2443.60" font-size="30.6" text-anchor="middle">4</text>
<path d="M1679.22 2398.30L1679.22 2418.60" stroke="#000" stroke-width="4.4" fill="none"/>
<text x="1679.22" y="2443.60" font-size="30.6" text-anchor="middle">5</text>
<path d="M1709.30 2398.30L1709.30 2418.60" stroke="#000" stroke-width="4.4" fill="none"/>
<text x="1709.30" y="2443.60" font-size="30.6" text-anchor="middle">6</text>
<path d="M1739.38 2398.30L1739.38 2418.60" stroke="#000" stroke-width="4.4" fill="none"/>
<text x="1739.38" y="2443.60" font-size="30.6" text-anchor="middle">7</text>
<path d="M1769.46 2398.30L1769.46 2418.60" stroke="#000" stroke-width="4.4" fill="none"/>
<text x="1769.46" y="2443.60" font-size="30.6" text-anchor="middle">8</text>
<path d="M1799.54 2398.30L1799.54 2418.60" stroke="#000" stroke-width="4.4" fill="none"/>
<text x="1799.54" y="2443.60" font-size="30.6" text-anchor="middle">9</text>
<path d="M1829.62 2398.30L1829.62 2418.60" stroke="#000" stroke-width="4.4" fill="none"/>
<text x="1829.62" y="2443.60" font-size="30.6" text-anchor="middle">10</text>
<text x="1694.86" y="2474.70" font-size="30.6" text-anchor="middle">NSP Elp3 iKO / Ctrl</text>
<text x="1694.86" y="2506.70" font-size="30.6" text-anchor="middle">Decile rank of log<tspan font-size="19" dy="10">2</tspan><tspan dy="-10">FC</tspan></text>
<text x="1686.20" y="1930.30" font-size="30.6" text-anchor="middle">CAA</text>
<text x="1447.00" y="2161.85" font-size="30.6" text-anchor="middle" transform="rotate(-90 1447.00 2161.85)">CAA deviation (%)</text>
<text x="1479.20" y="2163.55" font-size="30.6" text-anchor="middle" transform="rotate(-90 1479.20 2163.55)">from transcriptome average</text>
<rect x="684" y="2541.50" width="19" height="13.6" fill="#555555"/>
<text x="707.00" y="2555.70" font-size="30.6" text-anchor="start">p&lt;0.001</text>
<rect x="837.2" y="2541.50" width="19" height="13.6" fill="#858585"/>
<text x="859.90" y="2555.70" font-size="30.6" text-anchor="start">p&lt;0.01</text>
<rect x="972.6" y="2541.50" width="19" height="13.6" fill="#ababab"/>
<text x="994.70" y="2555.70" font-size="30.6" text-anchor="start">p&lt;0.05</text>
<rect x="1112.8" y="2541.50" width="19" height="13.6" fill="#d2d2d2"/>
<text x="1135.30" y="2555.70" font-size="30.6" text-anchor="start">p≥0.05</text>
</svg>
</body></html>
